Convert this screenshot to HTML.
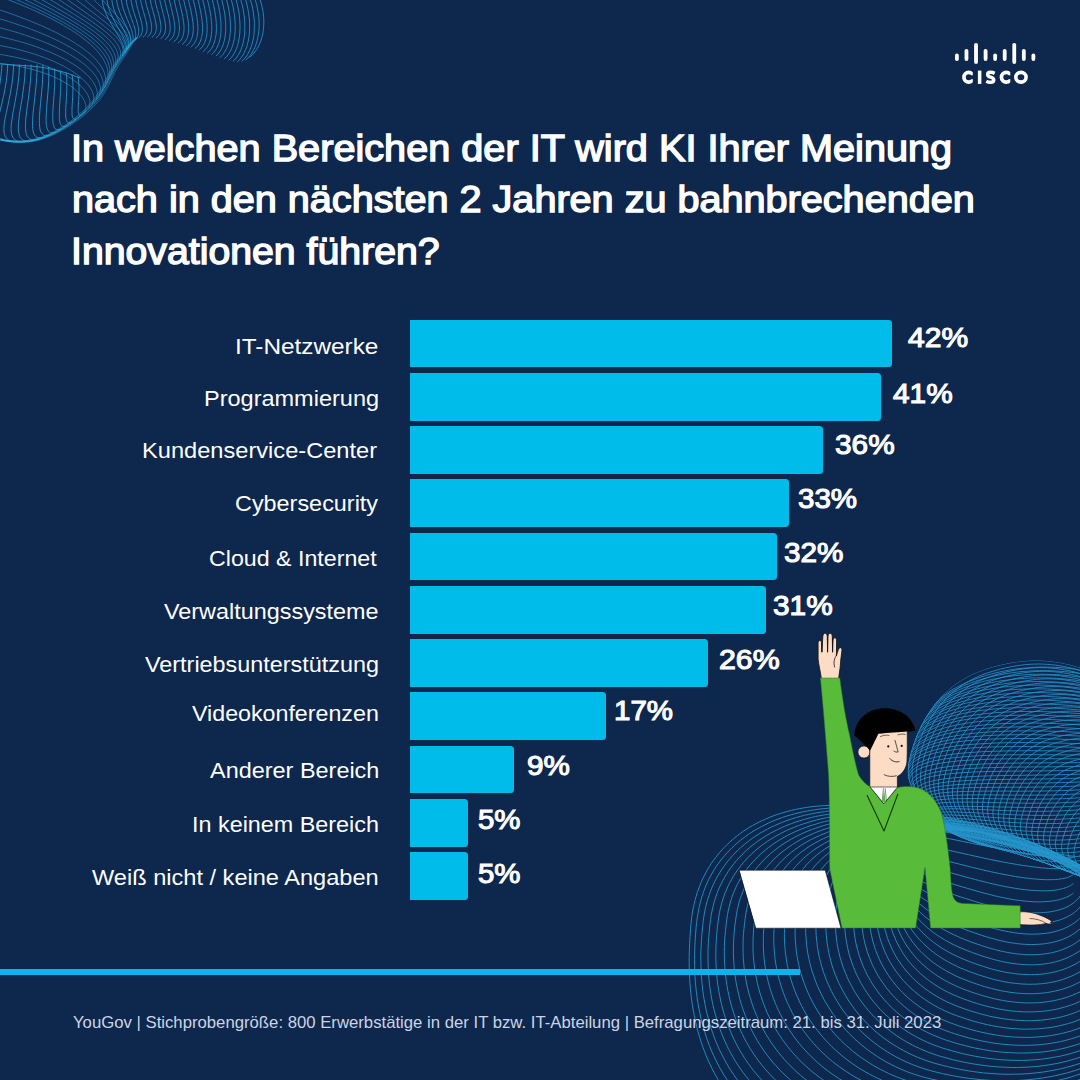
<!DOCTYPE html>
<html lang="de"><head><meta charset="utf-8"><title>Cisco KI Umfrage</title>
<style>
html,body{margin:0;padding:0}
body{width:1080px;height:1080px;overflow:hidden;background:#0e274d;font-family:"Liberation Sans",sans-serif;position:relative;color:#fff}
#stage{position:absolute;left:0;top:0;width:1080px;height:1080px;overflow:hidden;background:#0e274d}
svg.abs{position:absolute;left:0;top:0}
.x{position:absolute;display:block;white-space:nowrap;line-height:1;transform-origin:0 0;color:#fff;margin:0}
.t{font-size:36.6px;-webkit-text-stroke:1.4px #fff}
.l{font-size:22.8px}
.v{font-size:27.8px;-webkit-text-stroke:1.1px #fff}
.f{font-size:15.7px;color:#ccd5e5}
.bar{position:absolute;left:410px;height:47.8px;background:#00bceb;border-radius:0 3.5px 3.5px 0}
.rule{position:absolute;left:0;top:968.5px;width:800px;height:6px;background:#0db3ea}
</style></head><body><div id="stage">
<svg class="abs" width="1080" height="1080" viewBox="0 0 1080 1080"><path fill="none" stroke="#2494c8" stroke-width="0.9" stroke-linejoin="round" d="M1097.2 1063.2 1093.7 1067.6 1090.1 1071.9 1086.2 1076.2 1082.3 1080.3 1078.1 1084.4 1073.9 1088.3 1069.5 1092.1 1064.9 1095.8 1060.2 1099.4M731.6 1099.0 728.8 1095.5 726.2 1092.0 723.6 1088.3 721.1 1084.6 718.7 1080.7 716.4 1076.8 714.2 1072.7 712.0 1068.6 710.0 1064.4 708.0 1060.1 706.1 1055.7 704.4 1051.2 702.7 1046.6 701.1 1041.9 699.6 1037.2 698.2 1032.4 696.9 1027.5 695.7 1022.5 694.6 1017.4 693.6 1012.3 692.7 1007.0 691.9 1001.7 691.2 996.4 690.6 990.9 690.1 985.3 689.7 979.7 689.5 974.0 689.3 968.1 689.2 962.2 689.2 956.1 689.4 949.8 689.6 943.4 690.0 936.5 690.6 928.6 691.0 923.5 691.5 919.1 692.0 915.0 692.7 911.0 693.4 907.1 694.3 903.3 695.2 899.7 696.2 896.1 697.3 892.5 698.5 889.0 699.8 885.6 701.1 882.3 702.6 879.0 704.2 875.8 705.8 872.7 707.5 869.6 709.3 866.6 711.2 863.6 713.2 860.7 715.3 857.9 717.5 855.1 719.7 852.4 722.0 849.8 724.4 847.3 726.9 844.8 729.5 842.3 732.1 840.0 734.8 837.7 737.6 835.5 740.5 833.3 743.4 831.2 746.5 829.2 749.5 827.3 752.7 825.5 755.9 823.7 759.2 822.0 762.6 820.4 766.0 818.9 769.5 817.4 773.0 816.0 776.6 814.7 780.3 813.5 784.1 812.4 787.9 811.3 791.7 810.3 795.6 809.4 799.6 808.6 803.6 807.9 807.7 807.3 811.9 806.7 816.1 806.3 820.4 805.9 824.7 805.6 829.2 805.4 833.7 805.3 838.3 805.3 843.1 805.4 848.0 805.5 853.2 805.8 859.2 806.2 869.9 807.1 879.2 808.0 888.0 808.8 896.5 809.8 904.7 810.8 912.8 811.9 920.6 813.0 928.3 814.2 935.9 815.5 943.3 816.9 950.6 818.3 957.7 819.8 964.7 821.4 971.6 823.0 978.4 824.7 985.1 826.5 991.6 828.4 998.0 830.3 1004.3 832.3 1010.5 834.3 1016.5 836.5 1022.4 838.6 1028.2 840.9 1033.8 843.2 1039.3 845.6 1044.6 848.0 1049.9 850.5 1054.9 853.1 1059.9 855.7 1064.7 858.3 1069.3 861.1 1073.8 863.8 1078.2 866.7 1082.4 869.6 1086.4 872.5 1090.3 875.5 1094.0 878.5 1097.6 881.6M1098.2 1072.4 1094.3 1076.5 1090.3 1080.5 1086.1 1084.3 1081.8 1088.1 1077.4 1091.8 1072.8 1095.4 1068.0 1098.9M740.7 1097.3 737.8 1094.0 735.0 1090.5 732.2 1087.0 729.6 1083.4 727.0 1079.7 724.5 1075.9 722.2 1072.0 719.9 1068.0 717.7 1063.9 715.6 1059.7 713.6 1055.4 711.6 1051.1 709.8 1046.7 708.1 1042.2 706.5 1037.6 705.0 1032.9 703.6 1028.2 702.2 1023.4 701.0 1018.5 699.9 1013.5 698.9 1008.5 698.0 1003.4 697.2 998.2 696.5 992.9 695.9 987.6 695.4 982.2 695.0 976.7 694.8 971.1 694.6 965.5 694.6 959.7 694.6 953.8 694.8 947.8 695.1 941.5 695.5 935.0 696.1 927.5 696.6 922.6 697.2 918.3 697.8 914.2 698.5 910.3 699.3 906.5 700.2 902.8 701.2 899.2 702.2 895.6 703.4 892.2 704.7 888.8 706.0 885.4 707.5 882.1 709.0 878.9 710.7 875.8 712.4 872.7 714.2 869.7 716.1 866.7 718.1 863.8 720.2 861.0 722.4 858.2 724.7 855.5 727.0 852.8 729.5 850.2 732.0 847.7 734.6 845.3 737.3 842.9 740.1 840.6 742.9 838.4 745.8 836.2 748.8 834.1 751.9 832.1 755.0 830.2 758.3 828.3 761.6 826.5 764.9 824.8 768.3 823.1 771.8 821.6 775.4 820.1 779.0 818.7 782.7 817.4 786.5 816.1 790.3 815.0 794.2 813.9 798.1 812.9 802.1 812.0 806.2 811.2 810.3 810.4 814.5 809.8 818.7 809.2 823.0 808.7 827.4 808.3 831.8 808.0 836.3 807.8 840.9 807.6 845.5 807.6 850.3 807.6 855.1 807.8 860.1 808.0 865.4 808.4 871.5 808.9 881.9 809.8 891.0 810.8 899.6 811.7 908.0 812.8 916.1 813.9 924.0 815.0 931.8 816.3 939.4 817.6 946.9 818.9 954.2 820.4 961.5 821.9 968.5 823.4 975.5 825.1 982.4 826.8 989.1 828.6 995.7 830.4 1002.2 832.4 1008.6 834.3 1014.8 836.4 1020.9 838.5 1026.9 840.7 1032.8 842.9 1038.5 845.2 1044.1 847.6 1049.6 850.0 1054.9 852.5 1060.1 855.1 1065.1 857.7 1070.1 860.3 1074.8 863.1 1079.4 865.8 1083.9 868.6 1088.2 871.5 1092.4 874.4 1096.4 877.4M1097.2 1080.4 1093.1 1084.1 1088.7 1087.8 1084.2 1091.3 1079.6 1094.8 1074.9 1098.1M753.7 1098.4 750.6 1095.3 747.5 1092.0 744.6 1088.7 741.7 1085.3 738.9 1081.8 736.2 1078.2 733.5 1074.5 731.0 1070.7 728.6 1066.9 726.3 1062.9 724.0 1058.9 721.9 1054.7 719.8 1050.5 717.9 1046.3 716.0 1041.9 714.3 1037.5 712.7 1032.9 711.1 1028.4 709.7 1023.7 708.4 1019.0 707.1 1014.2 706.0 1009.3 705.0 1004.4 704.1 999.4 703.3 994.3 702.6 989.2 702.1 984.0 701.6 978.7 701.2 973.3 701.0 967.9 700.9 962.4 700.8 956.8 700.9 951.1 701.2 945.3 701.5 939.3 702.0 933.0 702.7 925.9 703.2 921.1 703.8 917.0 704.4 913.0 705.2 909.2 706.0 905.5 707.0 901.9 708.0 898.3 709.2 894.9 710.4 891.5 711.7 888.1 713.2 884.8 714.7 881.6 716.3 878.5 718.0 875.4 719.9 872.4 721.8 869.4 723.8 866.5 725.9 863.6 728.0 860.9 730.3 858.2 732.7 855.5 735.1 852.9 737.7 850.4 740.3 847.9 743.0 845.6 745.8 843.2 748.7 841.0 751.6 838.8 754.6 836.7 757.8 834.7 760.9 832.7 764.2 830.9 767.5 829.1 770.9 827.3 774.4 825.7 778.0 824.1 781.6 822.6 785.3 821.2 789.0 819.8 792.8 818.6 796.7 817.4 800.6 816.3 804.6 815.3 808.7 814.4 812.8 813.5 817.0 812.8 821.2 812.1 825.5 811.5 829.9 811.0 834.3 810.6 838.7 810.2 843.2 810.0 847.8 809.8 852.5 809.8 857.2 809.8 862.1 809.9 867.0 810.1 872.1 810.4 877.4 810.8 883.5 811.4 893.6 812.5 902.4 813.5 910.9 814.6 919.1 815.7 927.1 816.8 934.9 818.1 942.5 819.4 950.0 820.8 957.4 822.2 964.6 823.7 971.8 825.3 978.8 827.0 985.7 828.7 992.5 830.5 999.1 832.3 1005.7 834.3 1012.1 836.2 1018.4 838.3 1024.6 840.4 1030.6 842.6 1036.5 844.8 1042.4 847.1 1048.0 849.5 1053.6 851.9 1059.0 854.4 1064.3 856.9 1069.4 859.5 1074.4 862.2 1079.3 864.9 1084.0 867.6 1088.6 870.4 1093.0 873.3 1097.3 876.2M1099.0 1083.7 1094.6 1087.2 1090.1 1090.6 1085.5 1093.9 1080.7 1097.1M767.7 1098.8 764.4 1095.9 761.1 1092.9 757.9 1089.7 754.8 1086.5 751.8 1083.2 748.8 1079.8 746.0 1076.3 743.3 1072.8 740.6 1069.1 738.1 1065.3 735.6 1061.5 733.3 1057.6 731.0 1053.6 728.8 1049.5 726.8 1045.4 724.8 1041.1 723.0 1036.8 721.2 1032.4 719.6 1028.0 718.0 1023.5 716.6 1018.9 715.3 1014.3 714.0 1009.6 712.9 1004.8 711.9 999.9 711.0 995.0 710.3 990.1 709.6 985.1 709.0 980.0 708.6 974.8 708.3 969.6 708.1 964.4 708.0 959.0 708.0 953.6 708.1 948.1 708.4 942.4 708.8 936.6 709.3 930.6 710.0 923.8 710.6 919.3 711.2 915.3 711.9 911.5 712.7 907.7 713.6 904.1 714.6 900.6 715.7 897.1 716.9 893.7 718.2 890.4 719.6 887.1 721.1 883.9 722.7 880.8 724.4 877.7 726.2 874.7 728.0 871.7 730.0 868.8 732.1 866.0 734.3 863.2 736.5 860.5 738.9 857.9 741.3 855.3 743.9 852.8 746.5 850.3 749.2 847.9 752.0 845.6 754.9 843.4 757.8 841.2 760.9 839.1 764.0 837.1 767.2 835.1 770.5 833.2 773.9 831.4 777.3 829.7 780.8 828.0 784.4 826.4 788.0 824.9 791.7 823.5 795.5 822.1 799.3 820.9 803.2 819.7 807.2 818.6 811.2 817.5 815.3 816.6 819.5 815.7 823.7 815.0 827.9 814.3 832.3 813.7 836.6 813.1 841.0 812.7 845.5 812.4 850.1 812.1 854.7 811.9 859.3 811.8 864.1 811.8 868.9 811.9 873.7 812.1 878.7 812.4 883.8 812.8 889.2 813.3 895.2 813.9 904.9 815.0 913.5 816.1 921.7 817.3 929.8 818.5 937.6 819.7 945.2 821.1 952.7 822.5 960.1 823.9 967.4 825.4 974.5 827.0 981.5 828.7 988.4 830.4 995.2 832.2 1001.9 834.1 1008.4 836.0 1014.9 838.0 1021.2 840.0 1027.4 842.1 1033.5 844.3 1039.5 846.5 1045.4 848.8 1051.1 851.2 1056.7 853.6 1062.2 856.1 1067.5 858.6 1072.7 861.2 1077.8 863.8 1082.8 866.5 1087.6 869.3 1092.2 872.0 1096.7 874.9M1099.5 1086.3 1095.0 1089.5 1090.4 1092.7 1085.6 1095.8 1080.7 1098.7M782.5 1098.7 779.0 1095.9 775.5 1093.1 772.1 1090.2 768.8 1087.1 765.6 1084.0 762.5 1080.8 759.4 1077.5 756.5 1074.1 753.6 1070.7 750.9 1067.1 748.2 1063.5 745.6 1059.7 743.2 1055.9 740.8 1052.0 738.5 1048.1 736.4 1044.1 734.3 1039.9 732.3 1035.8 730.5 1031.5 728.7 1027.2 727.1 1022.8 725.6 1018.4 724.1 1013.9 722.8 1009.3 721.6 1004.7 720.5 1000.0 719.6 995.3 718.7 990.5 717.9 985.6 717.3 980.7 716.8 975.7 716.3 970.7 716.1 965.7 715.9 960.5 715.8 955.3 715.9 950.1 716.0 944.7 716.3 939.3 716.8 933.7 717.3 927.9 718.1 921.5 718.7 917.2 719.4 913.3 720.1 909.6 721.0 905.9 721.9 902.4 723.0 899.0 724.1 895.6 725.4 892.3 726.7 889.1 728.2 885.9 729.7 882.8 731.4 879.7 733.1 876.7 735.0 873.8 736.9 870.9 739.0 868.1 741.1 865.3 743.3 862.6 745.7 860.0 748.1 857.4 750.6 854.9 753.2 852.5 755.9 850.1 758.7 847.8 761.5 845.5 764.5 843.4 767.5 841.2 770.7 839.2 773.9 837.3 777.1 835.4 780.5 833.6 783.9 831.8 787.4 830.1 791.0 828.6 794.6 827.1 798.4 825.6 802.1 824.3 806.0 823.0 809.9 821.8 813.9 820.7 817.9 819.6 822.0 818.7 826.2 817.8 830.4 817.0 834.6 816.3 839.0 815.7 843.3 815.2 847.8 814.7 852.2 814.4 856.8 814.1 861.4 813.9 866.0 813.8 870.7 813.8 875.5 813.8 880.3 814.0 885.2 814.3 890.2 814.6 895.3 815.1 900.6 815.6 906.5 816.3 915.8 817.5 924.2 818.7 932.2 819.9 940.0 821.2 947.6 822.5 955.1 823.9 962.4 825.4 969.7 826.9 976.8 828.5 983.8 830.2 990.7 831.9 997.4 833.7 1004.1 835.6 1010.7 837.5 1017.1 839.5 1023.5 841.5 1029.7 843.6 1035.8 845.8 1041.8 848.0 1047.7 850.3 1053.4 852.7 1059.1 855.1 1064.6 857.5 1070.0 860.1 1075.2 862.6 1080.4 865.3 1085.4 867.9 1090.2 870.7 1094.9 873.4 1099.5 876.3M1099.1 1088.2 1094.5 1091.2 1089.7 1094.2 1084.8 1097.0 1079.8 1099.7M797.9 1098.0 794.2 1095.5 790.6 1092.8 787.0 1090.1 783.5 1087.2 780.1 1084.3 776.8 1081.3 773.6 1078.1 770.5 1074.9 767.4 1071.6 764.5 1068.3 761.6 1064.8 758.9 1061.3 756.2 1057.7 753.7 1054.0 751.2 1050.2 748.8 1046.3 746.6 1042.4 744.4 1038.4 742.4 1034.3 740.4 1030.2 738.6 1026.0 736.9 1021.8 735.2 1017.5 733.7 1013.1 732.3 1008.6 731.0 1004.2 729.8 999.6 728.8 995.0 727.8 990.4 727.0 985.7 726.2 980.9 725.6 976.1 725.1 971.3 724.8 966.4 724.5 961.4 724.4 956.4 724.3 951.4 724.4 946.3 724.6 941.1 725.0 935.9 725.5 930.5 726.1 924.9 726.9 918.9 727.5 914.7 728.2 911.0 729.0 907.4 729.9 903.9 730.9 900.5 731.9 897.1 733.1 893.9 734.4 890.7 735.8 887.5 737.3 884.4 738.9 881.4 740.6 878.4 742.4 875.5 744.3 872.6 746.3 869.8 748.4 867.1 750.6 864.4 752.9 861.8 755.3 859.3 757.8 856.8 760.4 854.3 763.0 852.0 765.8 849.7 768.6 847.4 771.5 845.3 774.5 843.2 777.6 841.2 780.8 839.2 784.1 837.3 787.4 835.5 790.8 833.8 794.3 832.1 797.9 830.5 801.5 829.0 805.2 827.6 809.0 826.2 812.8 825.0 816.7 823.8 820.6 822.6 824.7 821.6 828.8 820.6 832.9 819.8 837.1 819.0 841.3 818.3 845.7 817.6 850.0 817.1 854.4 816.6 858.9 816.2 863.4 816.0 867.9 815.7 872.5 815.6 877.2 815.6 881.9 815.7 886.7 815.8 891.5 816.0 896.4 816.3 901.4 816.8 906.4 817.3 911.7 817.9 917.5 818.7 926.3 819.9 934.4 821.2 942.2 822.5 949.8 823.8 957.2 825.2 964.5 826.7 971.6 828.2 978.7 829.8 985.6 831.5 992.5 833.2 999.2 835.0 1005.8 836.9 1012.4 838.8 1018.8 840.8 1025.1 842.8 1031.3 844.9 1037.4 847.1 1043.4 849.3 1049.3 851.6 1055.1 853.9 1060.7 856.3 1066.3 858.8 1071.7 861.3 1076.9 863.8 1082.1 866.4 1087.1 869.1 1092.0 871.8 1096.8 874.6M1097.7 1089.4 1093.0 1092.2 1088.2 1094.9 1083.2 1097.5M817.7 1099.2 813.8 1096.9 809.9 1094.5 806.1 1092.0 802.4 1089.5 798.8 1086.8 795.2 1084.0 791.8 1081.2 788.4 1078.2 785.1 1075.2 781.9 1072.1 778.8 1068.9 775.8 1065.6 772.8 1062.3 770.0 1058.8 767.3 1055.3 764.6 1051.7 762.1 1048.0 759.6 1044.3 757.3 1040.5 755.1 1036.6 752.9 1032.6 750.9 1028.6 749.0 1024.5 747.2 1020.4 745.5 1016.2 743.9 1011.9 742.4 1007.6 741.0 1003.2 739.7 998.8 738.6 994.4 737.6 989.8 736.6 985.3 735.8 980.7 735.1 976.0 734.6 971.4 734.1 966.6 733.8 961.8 733.5 957.0 733.4 952.2 733.4 947.3 733.6 942.3 733.8 937.3 734.2 932.2 734.7 927.1 735.4 921.7 736.2 916.0 736.9 912.0 737.6 908.4 738.4 905.0 739.3 901.6 740.4 898.3 741.5 895.1 742.7 891.9 744.1 888.8 745.5 885.7 747.0 882.8 748.7 879.8 750.4 876.9 752.3 874.1 754.2 871.3 756.2 868.6 758.4 866.0 760.6 863.4 763.0 860.9 765.4 858.4 767.9 856.0 770.5 853.6 773.2 851.4 776.0 849.2 778.9 847.0 781.9 844.9 784.9 842.9 788.1 841.0 791.3 839.1 794.6 837.3 797.9 835.6 801.4 833.9 804.9 832.3 808.5 830.8 812.2 829.4 815.9 828.1 819.7 826.8 823.6 825.6 827.5 824.5 831.5 823.4 835.6 822.5 839.7 821.6 843.8 820.8 848.0 820.1 852.3 819.4 856.6 818.9 861.0 818.4 865.4 818.0 869.9 817.7 874.4 817.5 879.0 817.4 883.6 817.3 888.2 817.4 892.9 817.5 897.6 817.7 902.4 818.0 907.3 818.4 912.2 818.8 917.2 819.4 922.4 820.1 928.0 820.9 936.5 822.3 944.2 823.6 951.7 824.9 959.1 826.4 966.3 827.8 973.4 829.4 980.3 831.0 987.2 832.6 993.9 834.3 1000.6 836.1 1007.2 838.0 1013.7 839.9 1020.0 841.8 1026.3 843.9 1032.5 846.0 1038.5 848.1 1044.5 850.3 1050.4 852.6 1056.1 854.9 1061.7 857.3 1067.3 859.8 1072.7 862.2 1078.0 864.8 1083.1 867.4 1088.2 870.0 1093.1 872.7 1097.9 875.4M1095.5 1089.8 1090.7 1092.4 1085.8 1094.9 1080.8 1097.3 1075.7 1099.6M838.1 1099.4 834.0 1097.4 829.9 1095.3 825.9 1093.1 822.0 1090.8 818.2 1088.4 814.4 1085.9 810.7 1083.3 807.1 1080.6 803.6 1077.9 800.2 1075.0 796.9 1072.1 793.6 1069.1 790.4 1065.9 787.3 1062.7 784.4 1059.5 781.5 1056.1 778.7 1052.7 776.0 1049.2 773.4 1045.6 770.8 1042.0 768.4 1038.2 766.1 1034.5 763.9 1030.6 761.8 1026.7 759.8 1022.7 758.0 1018.7 756.2 1014.6 754.5 1010.5 752.9 1006.3 751.5 1002.0 750.2 997.7 748.9 993.4 747.8 989.0 746.8 984.6 745.9 980.1 745.2 975.6 744.5 971.0 744.0 966.5 743.6 961.8 743.2 957.2 743.1 952.5 743.0 947.8 743.1 943.0 743.2 938.2 743.5 933.4 744.0 928.5 744.5 923.5 745.2 918.4 746.0 912.9 746.7 909.2 747.5 905.7 748.3 902.4 749.3 899.2 750.3 896.0 751.5 892.9 752.7 889.8 754.1 886.8 755.6 883.8 757.1 880.9 758.8 878.1 760.6 875.3 762.5 872.6 764.5 869.9 766.5 867.3 768.7 864.8 771.0 862.3 773.3 859.8 775.8 857.4 778.4 855.1 781.0 852.9 783.7 850.7 786.6 848.6 789.5 846.5 792.5 844.5 795.5 842.6 798.7 840.7 801.9 838.9 805.3 837.2 808.7 835.6 812.1 834.0 815.7 832.5 819.3 831.1 823.0 829.7 826.7 828.5 830.6 827.3 834.4 826.2 838.4 825.1 842.4 824.2 846.4 823.3 850.5 822.5 854.7 821.8 858.9 821.1 863.2 820.6 867.5 820.1 871.9 819.7 876.3 819.4 880.7 819.1 885.2 819.0 889.8 818.9 894.3 819.0 898.9 819.1 903.6 819.3 908.3 819.5 913.0 819.9 917.8 820.3 922.7 820.9 927.6 821.5 932.7 822.2 938.1 823.1 946.1 824.5 953.6 825.9 960.8 827.3 967.9 828.8 974.9 830.3 981.7 831.9 988.5 833.5 995.1 835.2 1001.7 837.0 1008.2 838.8 1014.5 840.7 1020.8 842.7 1027.0 844.7 1033.1 846.8 1039.2 848.9 1045.1 851.1 1050.9 853.4 1056.6 855.7 1062.2 858.1 1067.7 860.5 1073.1 862.9 1078.3 865.5 1083.5 868.0 1088.5 870.7 1093.4 873.3 1098.2 876.0M1097.4 1087.1 1092.6 1089.5 1087.8 1091.9 1082.8 1094.2 1077.7 1096.3 1072.6 1098.4M858.7 1098.8 854.4 1097.1 850.2 1095.3 846.1 1093.3 842.0 1091.3 838.0 1089.1 834.1 1086.9 830.2 1084.6 826.5 1082.2 822.8 1079.7 819.1 1077.1 815.6 1074.4 812.1 1071.6 808.8 1068.7 805.5 1065.8 802.3 1062.8 799.1 1059.7 796.1 1056.5 793.2 1053.2 790.3 1049.9 787.6 1046.5 784.9 1043.0 782.3 1039.4 779.9 1035.8 777.5 1032.1 775.2 1028.4 773.1 1024.5 771.0 1020.7 769.1 1016.7 767.2 1012.8 765.5 1008.7 763.9 1004.6 762.4 1000.5 761.0 996.3 759.7 992.1 758.5 987.8 757.4 983.5 756.5 979.2 755.6 974.8 754.9 970.4 754.3 965.9 753.8 961.5 753.4 956.9 753.1 952.4 753.0 947.8 753.0 943.2 753.1 938.6 753.3 934.0 753.6 929.3 754.1 924.6 754.7 919.8 755.4 914.9 756.3 909.7 757.0 906.2 757.7 902.9 758.6 899.7 759.6 896.6 760.7 893.5 761.8 890.5 763.1 887.6 764.5 884.7 766.0 881.8 767.6 879.0 769.3 876.3 771.1 873.6 773.0 871.0 775.0 868.4 777.1 865.9 779.3 863.4 781.6 861.0 784.0 858.7 786.5 856.4 789.0 854.2 791.7 852.0 794.5 849.9 797.3 847.9 800.2 845.9 803.2 844.0 806.3 842.2 809.5 840.4 812.8 838.7 816.1 837.1 819.5 835.6 823.0 834.1 826.5 832.7 830.1 831.3 833.8 830.1 837.6 828.9 841.4 827.8 845.3 826.7 849.2 825.8 853.2 824.9 857.2 824.1 861.3 823.4 865.5 822.7 869.7 822.2 873.9 821.7 878.2 821.3 882.6 820.9 886.9 820.7 891.4 820.5 895.8 820.5 900.3 820.5 904.8 820.6 909.4 820.7 914.0 821.0 918.6 821.3 923.3 821.7 928.0 822.2 932.8 822.8 937.6 823.5 942.5 824.3 947.7 825.2 955.3 826.6 962.4 828.1 969.4 829.5 976.2 831.0 982.9 832.6 989.5 834.2 996.1 835.9 1002.5 837.7 1008.9 839.5 1015.1 841.4 1021.3 843.3 1027.4 845.3 1033.4 847.4 1039.4 849.5 1045.2 851.7 1050.9 853.9 1056.6 856.2 1062.1 858.6 1067.6 860.9 1072.9 863.4 1078.1 865.9 1083.3 868.4 1088.3 871.0 1093.2 873.6 1097.9 876.3M1098.6 1083.9 1093.9 1086.2 1089.1 1088.5 1084.2 1090.7 1079.2 1092.7 1074.2 1094.7 1069.0 1096.5 1063.7 1098.3 1058.3 1099.9M883.8 1098.8 879.3 1097.4 874.9 1095.9 870.6 1094.4 866.4 1092.7 862.2 1090.9 858.1 1089.0 854.0 1087.1 850.0 1085.0 846.1 1082.9 842.3 1080.6 838.5 1078.3 834.8 1075.8 831.1 1073.3 827.6 1070.7 824.1 1068.0 820.7 1065.2 817.4 1062.4 814.2 1059.4 811.0 1056.4 808.0 1053.3 805.0 1050.1 802.1 1046.9 799.3 1043.5 796.6 1040.2 794.0 1036.7 791.5 1033.2 789.1 1029.6 786.8 1025.9 784.6 1022.2 782.5 1018.4 780.5 1014.6 778.6 1010.7 776.8 1006.8 775.1 1002.8 773.5 998.8 772.1 994.7 770.7 990.6 769.5 986.4 768.3 982.2 767.3 978.0 766.4 973.7 765.6 969.4 764.9 965.1 764.4 960.8 763.9 956.4 763.6 952.0 763.4 947.6 763.3 943.1 763.3 938.7 763.4 934.2 763.7 929.7 764.0 925.1 764.5 920.6 765.2 916.0 765.9 911.3 766.8 906.4 767.5 903.1 768.3 900.0 769.2 896.9 770.2 893.9 771.3 891.0 772.5 888.1 773.8 885.3 775.2 882.5 776.7 879.7 778.3 877.1 780.0 874.4 781.8 871.9 783.8 869.3 785.8 866.9 787.9 864.5 790.1 862.1 792.4 859.8 794.8 857.5 797.3 855.4 799.9 853.2 802.5 851.2 805.3 849.2 808.1 847.2 811.1 845.3 814.1 843.5 817.2 841.8 820.4 840.1 823.6 838.5 826.9 837.0 830.3 835.5 833.8 834.1 837.3 832.8 841.0 831.5 844.6 830.4 848.4 829.3 852.2 828.2 856.0 827.3 859.9 826.4 863.9 825.6 867.9 824.9 872.0 824.2 876.1 823.7 880.3 823.2 884.5 822.8 888.7 822.4 893.0 822.2 897.3 822.0 901.7 821.9 906.1 821.9 910.5 822.0 915.0 822.1 919.5 822.4 924.0 822.7 928.5 823.1 933.1 823.5 937.7 824.1 942.4 824.7 947.1 825.5 951.8 826.3 956.8 827.2 964.0 828.7 970.8 830.1 977.4 831.6 984.0 833.2 990.4 834.8 996.8 836.5 1003.1 838.2 1009.3 840.0 1015.4 841.9 1021.5 843.8 1027.5 845.7 1033.4 847.8 1039.2 849.9 1044.9 852.0 1050.6 854.2 1056.1 856.5 1061.6 858.8 1067.0 861.1 1072.3 863.6 1077.4 866.0 1082.5 868.5 1087.5 871.1 1092.3 873.7 1097.1 876.3M1099.2 1080.2 1094.6 1082.5 1089.9 1084.6 1085.1 1086.7 1080.2 1088.7 1075.2 1090.5 1070.1 1092.3 1064.9 1093.9 1059.7 1095.4 1054.3 1096.9 1048.9 1098.2 1043.4 1099.4M922.2 1099.9 915.7 1098.7 909.0 1097.3 904.2 1096.3 899.7 1095.1 895.2 1093.9 890.8 1092.6 886.5 1091.2 882.3 1089.7 878.1 1088.1 873.9 1086.4 869.8 1084.6 865.8 1082.7 861.9 1080.7 858.0 1078.6 854.1 1076.5 850.4 1074.2 846.7 1071.8 843.0 1069.4 839.5 1066.9 836.0 1064.3 832.6 1061.6 829.3 1058.8 826.1 1055.9 822.9 1053.0 819.8 1050.0 816.8 1046.9 813.9 1043.7 811.1 1040.5 808.4 1037.2 805.8 1033.8 803.3 1030.4 800.8 1026.8 798.5 1023.3 796.2 1019.7 794.1 1016.0 792.0 1012.3 790.1 1008.5 788.3 1004.6 786.5 1000.8 784.9 996.8 783.4 992.9 782.0 988.8 780.7 984.8 779.5 980.7 778.4 976.6 777.4 972.4 776.6 968.3 775.8 964.1 775.2 959.8 774.7 955.6 774.3 951.3 774.0 947.0 773.8 942.7 773.8 938.4 773.8 934.1 774.0 929.7 774.3 925.3 774.7 921.0 775.2 916.6 775.9 912.1 776.6 907.7 777.5 903.1 778.3 899.9 779.1 897.0 780.0 894.0 781.0 891.2 782.1 888.4 783.3 885.6 784.6 882.9 786.0 880.2 787.5 877.6 789.2 875.1 790.9 872.5 792.7 870.1 794.6 867.6 796.6 865.3 798.8 863.0 801.0 860.7 803.3 858.5 805.7 856.4 808.2 854.3 810.7 852.3 813.4 850.3 816.2 848.4 819.0 846.5 821.9 844.8 824.9 843.0 828.0 841.4 831.2 839.8 834.4 838.3 837.7 836.8 841.1 835.5 844.6 834.2 848.1 832.9 851.7 831.8 855.3 830.7 859.0 829.6 862.8 828.7 866.6 827.8 870.5 827.0 874.4 826.3 878.4 825.7 882.4 825.1 886.5 824.6 890.6 824.2 894.8 823.8 898.9 823.6 903.2 823.4 907.4 823.3 911.7 823.3 916.0 823.3 920.4 823.4 924.8 823.6 929.2 823.9 933.6 824.3 938.0 824.7 942.5 825.3 947.0 825.9 951.5 826.6 956.1 827.3 960.7 828.2 965.4 829.2 972.2 830.6 978.6 832.1 985.0 833.6 991.2 835.2 997.4 836.8 1003.5 838.5 1009.6 840.3 1015.5 842.1 1021.5 844.0 1027.3 845.9 1033.1 847.9 1038.7 850.0 1044.4 852.1 1049.9 854.3 1055.4 856.5 1060.7 858.8 1066.0 861.1 1071.2 863.5 1076.3 865.9 1081.3 868.4 1086.2 870.9 1091.0 873.4 1095.7 876.0M1099.3 1076.1 1094.8 1078.3 1090.2 1080.3 1085.4 1082.3 1080.6 1084.2 1075.8 1085.9 1070.8 1087.6 1065.7 1089.1 1060.6 1090.6 1055.4 1091.9 1050.1 1093.2 1044.7 1094.3 1039.3 1095.3 1033.8 1096.2 1028.2 1097.0 1022.6 1097.7 1016.9 1098.3 1011.2 1098.8 1005.5 1099.1 999.7 1099.4 993.8 1099.5 987.9 1099.6 982.0 1099.5 976.1 1099.3 970.1 1099.0 964.1 1098.5 958.0 1098.0 952.0 1097.3 945.9 1096.6 939.8 1095.7 933.7 1094.7 927.6 1093.6 921.4 1092.4 915.1 1091.0 910.6 1090.0 906.2 1088.8 901.9 1087.6 897.7 1086.2 893.5 1084.8 889.4 1083.3 885.3 1081.7 881.3 1079.9 877.3 1078.1 873.4 1076.2 869.5 1074.2 865.8 1072.1 862.0 1069.9 858.4 1067.7 854.8 1065.3 851.3 1062.9 847.8 1060.3 844.4 1057.7 841.1 1055.0 837.9 1052.2 834.7 1049.4 831.7 1046.5 828.7 1043.4 825.8 1040.4 822.9 1037.2 820.2 1034.0 817.6 1030.7 815.0 1027.4 812.5 1024.0 810.2 1020.5 807.9 1017.0 805.7 1013.4 803.7 1009.8 801.7 1006.1 799.8 1002.3 798.1 998.5 796.4 994.7 794.8 990.8 793.4 986.9 792.0 983.0 790.8 979.0 789.6 975.0 788.6 971.0 787.7 966.9 786.9 962.8 786.2 958.7 785.6 954.5 785.2 950.4 784.8 946.2 784.6 942.0 784.4 937.9 784.4 933.6 784.5 929.4 784.7 925.2 785.0 921.0 785.5 916.8 786.0 912.5 786.7 908.3 787.5 904.0 788.4 899.7 789.1 896.7 789.9 893.9 790.8 891.1 791.8 888.4 792.9 885.7 794.2 883.1 795.5 880.5 796.9 878.0 798.4 875.5 800.1 873.0 801.8 870.6 803.6 868.3 805.5 866.0 807.5 863.7 809.7 861.5 811.9 859.3 814.2 857.2 816.5 855.2 819.0 853.2 821.6 851.3 824.3 849.4 827.0 847.6 829.8 845.9 832.7 844.2 835.7 842.6 838.8 841.0 841.9 839.5 845.1 838.1 848.4 836.7 851.7 835.4 855.2 834.2 858.6 833.1 862.2 832.0 865.8 831.0 869.5 830.0 873.2 829.2 877.0 828.4 880.8 827.6 884.7 827.0 888.6 826.4 892.5 825.9 896.6 825.5 900.6 825.2 904.7 824.9 908.8 824.7 913.0 824.6 917.1 824.5 921.3 824.6 925.6 824.7 929.8 824.9 934.1 825.1 938.4 825.5 942.7 825.9 947.1 826.4 951.4 826.9 955.8 827.6 960.1 828.3 964.5 829.1 969.0 830.0 973.5 831.0 979.8 832.4 985.9 833.9 992.0 835.5 997.9 837.1 1003.8 838.7 1009.7 840.4 1015.5 842.2 1021.2 844.1 1026.9 846.0 1032.5 847.9 1038.0 849.9 1043.5 852.0 1048.9 854.1 1054.2 856.3 1059.5 858.5 1064.7 860.8 1069.7 863.1 1074.7 865.5 1079.7 868.0 1084.5 870.4 1089.2 872.9 1093.8 875.5 1098.4 878.1M1098.9 1071.6 1094.5 1073.6 1089.9 1075.6 1085.3 1077.5 1080.7 1079.2 1075.9 1080.9 1071.0 1082.5 1066.1 1084.0 1061.1 1085.3 1056.0 1086.6 1050.8 1087.7 1045.6 1088.8 1040.3 1089.7 1035.0 1090.6 1029.6 1091.3 1024.1 1091.9 1018.6 1092.5 1013.1 1092.9 1007.5 1093.2 1001.9 1093.4 996.2 1093.4 990.5 1093.4 984.8 1093.3 979.1 1093.0 973.3 1092.7 967.6 1092.2 961.8 1091.6 956.0 1091.0 950.2 1090.2 944.4 1089.3 938.5 1088.3 932.7 1087.1 926.9 1085.9 921.0 1084.5 916.7 1083.5 912.5 1082.3 908.4 1081.1 904.3 1079.7 900.3 1078.3 896.3 1076.7 892.3 1075.1 888.4 1073.4 884.6 1071.5 880.8 1069.6 877.1 1067.6 873.4 1065.5 869.8 1063.3 866.3 1061.0 862.8 1058.7 859.3 1056.2 856.0 1053.7 852.7 1051.1 849.5 1048.4 846.4 1045.6 843.3 1042.8 840.3 1039.9 837.4 1036.9 834.6 1033.8 831.9 1030.7 829.2 1027.5 826.7 1024.3 824.2 1020.9 821.8 1017.6 819.6 1014.1 817.4 1010.6 815.3 1007.1 813.3 1003.5 811.4 999.9 809.6 996.2 807.9 992.4 806.3 988.7 804.8 984.9 803.4 981.0 802.1 977.1 800.9 973.2 799.8 969.3 798.9 965.3 798.0 961.4 797.3 957.3 796.6 953.3 796.1 949.3 795.7 945.2 795.4 941.2 795.2 937.1 795.1 933.0 795.1 928.9 795.2 924.8 795.5 920.8 795.8 916.7 796.3 912.6 796.9 908.5 797.5 904.5 798.3 900.4 799.3 896.3 800.0 893.5 800.8 890.9 801.7 888.2 802.7 885.7 803.8 883.1 805.0 880.6 806.4 878.1 807.8 875.7 809.3 873.3 810.9 871.0 812.6 868.7 814.4 866.5 816.4 864.3 818.4 862.1 820.5 860.0 822.7 858.0 824.9 856.0 827.3 854.0 829.8 852.2 832.3 850.3 835.0 848.6 837.7 846.9 840.5 845.2 843.3 843.6 846.3 842.1 849.3 840.6 852.4 839.2 855.6 837.9 858.8 836.6 862.1 835.4 865.5 834.3 869.0 833.2 872.5 832.2 876.0 831.3 879.6 830.4 883.3 829.6 887.0 828.9 890.8 828.3 894.6 827.7 898.4 827.2 902.3 826.8 906.3 826.4 910.2 826.2 914.2 825.9 918.3 825.8 922.3 825.8 926.4 825.8 930.5 825.9 934.7 826.0 938.8 826.3 943.0 826.6 947.2 827.0 951.4 827.4 955.6 827.9 959.8 828.6 964.0 829.2 968.2 830.0 972.5 830.8 976.7 831.7 981.0 832.7 986.9 834.1 992.7 835.6 998.4 837.2 1004.1 838.8 1009.7 840.5 1015.3 842.2 1020.8 844.0 1026.3 845.8 1031.7 847.7 1037.1 849.7 1042.4 851.7 1047.7 853.8 1052.9 855.9 1058.0 858.1 1063.0 860.3 1068.0 862.6 1072.9 864.9 1077.7 867.3 1082.4 869.7 1087.0 872.2 1091.6 874.7 1096.0 877.2M1098.1 1066.6 1093.7 1068.5 1089.3 1070.4 1084.8 1072.2 1080.3 1073.9 1075.6 1075.5 1070.9 1077.0 1066.1 1078.4 1061.2 1079.6 1056.2 1080.8 1051.2 1081.9 1046.1 1082.9 1041.0 1083.8 1035.8 1084.6 1030.6 1085.2 1025.3 1085.8 1020.0 1086.3 1014.6 1086.6 1009.3 1086.9 1003.8 1087.0 998.4 1087.0 992.9 1087.0 987.4 1086.8 981.9 1086.5 976.3 1086.1 970.8 1085.6 965.3 1085.0 959.7 1084.3 954.2 1083.5 948.6 1082.6 943.1 1081.6 937.6 1080.4 932.1 1079.2 926.6 1077.9 922.5 1076.8 918.5 1075.6 914.6 1074.4 910.7 1073.0 906.8 1071.6 903.0 1070.0 899.2 1068.4 895.4 1066.6 891.7 1064.8 888.0 1062.9 884.4 1060.9 880.9 1058.8 877.4 1056.6 874.0 1054.3 870.6 1051.9 867.3 1049.5 864.1 1047.0 860.9 1044.4 857.8 1041.7 854.7 1039.0 851.8 1036.1 848.9 1033.2 846.1 1030.3 843.4 1027.2 840.8 1024.1 838.2 1021.0 835.7 1017.8 833.4 1014.5 831.1 1011.1 828.9 1007.7 826.8 1004.3 824.7 1000.8 822.8 997.2 821.0 993.7 819.3 990.0 817.6 986.4 816.1 982.6 814.7 978.9 813.4 975.1 812.1 971.3 811.0 967.5 810.0 963.6 809.1 959.7 808.3 955.8 807.6 951.9 807.0 948.0 806.5 944.0 806.2 940.1 805.9 936.1 805.7 932.2 805.7 928.2 805.7 924.2 805.9 920.3 806.2 916.3 806.6 912.4 807.1 908.5 807.6 904.5 808.4 900.6 809.2 896.8 810.1 892.9 810.8 890.4 811.6 887.8 812.5 885.4 813.5 882.9 814.6 880.5 815.8 878.1 817.1 875.8 818.5 873.5 820.0 871.2 821.6 869.0 823.3 866.8 825.2 864.7 827.0 862.6 829.0 860.6 831.1 858.6 833.3 856.6 835.5 854.8 837.9 852.9 840.3 851.1 842.8 849.4 845.4 847.7 848.1 846.1 850.9 844.6 853.7 843.1 856.6 841.7 859.6 840.3 862.7 839.0 865.8 837.7 869.0 836.5 872.3 835.4 875.6 834.4 879.0 833.4 882.4 832.5 885.9 831.6 889.4 830.8 893.0 830.1 896.7 829.5 900.4 828.9 904.1 828.4 907.9 828.0 911.7 827.6 915.5 827.3 919.4 827.1 923.3 827.0 927.3 826.9 931.2 826.9 935.2 827.0 939.2 827.1 943.3 827.3 947.3 827.6 951.3 828.0 955.4 828.4 959.5 828.9 963.5 829.5 967.6 830.1 971.7 830.8 975.7 831.6 979.8 832.4 983.9 833.3 987.9 834.3 993.4 835.7 998.8 837.2 1004.2 838.7 1009.6 840.4 1015.0 842.0 1020.3 843.7 1025.6 845.5 1030.8 847.4 1036.0 849.3 1041.1 851.2 1046.2 853.3 1051.2 855.3 1056.2 857.4 1061.1 859.6 1065.9 861.8 1070.7 864.1 1075.4 866.4 1080.0 868.8 1084.5 871.2 1089.0 873.6 1093.3 876.1 1097.6 878.6M1097.3 1061.9 1093.2 1063.7 1088.9 1065.5 1084.6 1067.2 1080.1 1068.8 1075.7 1070.3 1071.1 1071.7 1066.5 1073.0 1061.8 1074.2 1057.0 1075.3 1052.2 1076.3 1047.3 1077.2 1042.4 1078.0 1037.4 1078.7 1032.3 1079.3 1027.2 1079.8 1022.1 1080.2 1017.0 1080.5 1011.8 1080.7 1006.6 1080.7 1001.3 1080.7 996.0 1080.6 990.7 1080.4 985.4 1080.0 980.1 1079.6 974.8 1079.0 969.4 1078.4 964.1 1077.7 958.7 1076.8 953.3 1075.8 948.0 1074.8 942.6 1073.6 937.3 1072.4 931.9 1071.0 927.9 1069.9 924.0 1068.7 920.1 1067.4 916.3 1066.0 912.5 1064.6 908.8 1063.0 905.1 1061.4 901.4 1059.6 897.8 1057.8 894.3 1055.9 890.8 1053.9 887.3 1051.8 884.0 1049.6 880.6 1047.4 877.4 1045.1 874.2 1042.7 871.1 1040.2 868.0 1037.6 865.0 1035.0 862.1 1032.3 859.3 1029.5 856.5 1026.7 853.8 1023.8 851.2 1020.8 848.7 1017.7 846.3 1014.7 843.9 1011.5 841.6 1008.3 839.5 1005.0 837.4 1001.7 835.4 998.3 833.4 994.9 831.6 991.5 829.9 988.0 828.3 984.4 826.7 980.8 825.3 977.2 824.0 973.6 822.7 969.9 821.6 966.2 820.6 962.4 819.6 958.7 818.8 954.9 818.1 951.1 817.5 947.3 817.0 943.4 816.5 939.6 816.2 935.7 816.0 931.9 815.9 928.0 815.9 924.1 816.0 920.3 816.3 916.4 816.6 912.6 817.0 908.7 817.5 904.9 818.2 901.0 818.9 897.2 819.8 893.4 820.7 889.5 821.4 887.1 822.2 884.6 823.2 882.2 824.2 879.9 825.3 877.5 826.5 875.3 827.8 873.0 829.1 870.8 830.6 868.6 832.2 866.5 833.9 864.5 835.6 862.4 837.5 860.4 839.4 858.5 841.5 856.6 843.6 854.8 845.8 853.0 848.1 851.3 850.5 849.6 852.9 848.0 855.5 846.4 858.1 844.9 860.8 843.4 863.5 842.1 866.4 840.7 869.3 839.4 872.2 838.2 875.3 837.1 878.4 836.0 881.5 835.0 884.8 834.0 888.0 833.1 891.4 832.3 894.8 831.5 898.2 830.8 901.7 830.2 905.3 829.7 908.8 829.2 912.5 828.7 916.1 828.4 919.8 828.1 923.6 827.9 927.4 827.7 931.2 827.7 935.0 827.7 938.8 827.7 942.7 827.8 946.6 828.0 950.5 828.3 954.5 828.7 958.4 829.1 962.4 829.5 966.3 830.1 970.3 830.7 974.3 831.4 978.3 832.1 982.2 832.9 986.2 833.8 990.2 834.8 994.2 835.8 999.6 837.3 1004.9 838.8 1010.1 840.3 1015.3 841.9 1020.5 843.6 1025.6 845.3 1030.7 847.1 1035.7 849.0 1040.7 850.9 1045.6 852.8 1050.5 854.8 1055.3 856.8 1060.1 858.9 1064.8 861.1 1069.4 863.3 1073.9 865.5 1078.4 867.8 1082.8 870.1 1087.1 872.4 1091.4 874.8 1095.5 877.2 1099.6 879.7M1096.3 1056.8 1092.3 1058.6 1088.2 1060.3 1084.0 1061.9 1079.8 1063.4 1075.5 1064.8 1071.1 1066.1 1066.6 1067.3 1062.1 1068.5 1057.6 1069.5 1052.9 1070.4 1048.2 1071.2 1043.5 1072.0 1038.7 1072.6 1033.9 1073.1 1029.0 1073.6 1024.1 1073.9 1019.2 1074.1 1014.2 1074.2 1009.2 1074.3 1004.1 1074.2 999.0 1074.0 993.9 1073.7 988.8 1073.3 983.7 1072.9 978.6 1072.3 973.4 1071.6 968.3 1070.8 963.1 1069.9 957.9 1068.9 952.7 1067.8 947.5 1066.6 942.3 1065.3 937.0 1063.9 933.0 1062.8 929.1 1061.5 925.3 1060.2 921.5 1058.8 917.8 1057.4 914.2 1055.8 910.6 1054.2 907.1 1052.4 903.6 1050.6 900.1 1048.7 896.8 1046.7 893.4 1044.7 890.2 1042.6 887.0 1040.3 883.8 1038.1 880.8 1035.7 877.8 1033.3 874.8 1030.8 872.0 1028.2 869.2 1025.5 866.4 1022.8 863.8 1020.0 861.2 1017.2 858.7 1014.3 856.3 1011.3 854.0 1008.3 851.8 1005.2 849.6 1002.1 847.5 998.9 845.6 995.7 843.7 992.4 841.9 989.1 840.2 985.7 838.5 982.3 837.0 978.9 835.6 975.4 834.2 971.9 833.0 968.3 831.8 964.7 830.8 961.1 829.9 957.5 829.0 953.8 828.3 950.2 827.6 946.5 827.1 942.7 826.6 939.0 826.3 935.3 826.0 931.5 825.9 927.8 825.8 924.0 825.9 920.2 826.1 916.5 826.3 912.7 826.7 908.9 827.2 905.1 827.7 901.4 828.4 897.6 829.2 893.8 830.1 890.1 831.1 886.2 831.9 883.8 832.7 881.4 833.6 879.1 834.6 876.8 835.7 874.6 836.8 872.4 838.1 870.2 839.5 868.1 840.9 866.0 842.5 864.0 844.1 862.0 845.8 860.1 847.6 858.2 849.5 856.4 851.5 854.6 853.6 852.9 855.7 851.2 857.9 849.6 860.2 848.0 862.6 846.5 865.1 845.0 867.6 843.6 870.2 842.3 872.9 841.0 875.6 839.7 878.4 838.6 881.3 837.4 884.2 836.4 887.3 835.4 890.3 834.5 893.4 833.6 896.6 832.8 899.8 832.1 903.1 831.4 906.5 830.8 909.8 830.2 913.3 829.8 916.7 829.3 920.2 829.0 923.8 828.7 927.4 828.5 931.0 828.3 934.7 828.3 938.3 828.3 942.0 828.3 945.8 828.4 949.5 828.6 953.3 828.9 957.1 829.2 961.0 829.6 964.8 830.0 968.6 830.6 972.5 831.2 976.4 831.8 980.3 832.5 984.1 833.3 988.0 834.2 991.9 835.1 995.9 836.1 999.9 837.2 1005.2 838.7 1010.4 840.2 1015.5 841.8 1020.5 843.4 1025.5 845.1 1030.4 846.8 1035.3 848.6 1040.1 850.4 1044.9 852.3 1049.7 854.2 1054.3 856.2 1058.9 858.2 1063.5 860.2 1068.0 862.3 1072.4 864.5 1076.7 866.7 1081.0 868.9 1085.2 871.1 1089.3 873.4 1093.3 875.8 1097.3 878.1M1098.7 1049.6 1094.9 1051.3 1091.0 1053.0 1087.1 1054.6 1083.1 1056.1 1079.1 1057.6 1074.9 1058.9 1070.7 1060.1 1066.5 1061.3 1062.2 1062.3 1057.8 1063.3 1053.3 1064.1 1048.9 1064.9 1044.3 1065.5 1039.7 1066.1 1035.1 1066.6 1030.4 1066.9 1025.7 1067.2 1021.0 1067.4 1016.2 1067.5 1011.4 1067.5 1006.6 1067.3 1001.7 1067.1 996.8 1066.8 991.9 1066.4 987.0 1065.9 982.1 1065.2 977.1 1064.5 972.1 1063.7 967.2 1062.8 962.2 1061.8 957.1 1060.7 952.1 1059.5 947.0 1058.1 941.8 1056.7 937.8 1055.5 934.0 1054.2 930.2 1052.9 926.6 1051.5 923.0 1050.0 919.4 1048.4 915.9 1046.8 912.5 1045.1 909.1 1043.3 905.8 1041.4 902.5 1039.5 899.3 1037.5 896.2 1035.4 893.1 1033.2 890.1 1030.9 887.1 1028.6 884.2 1026.2 881.4 1023.8 878.7 1021.3 876.0 1018.7 873.4 1016.0 870.9 1013.3 868.4 1010.6 866.1 1007.7 863.8 1004.9 861.6 1001.9 859.4 998.9 857.4 995.9 855.4 992.8 853.5 989.6 851.8 986.5 850.1 983.2 848.4 980.0 846.9 976.7 845.5 973.3 844.2 969.9 842.9 966.5 841.8 963.1 840.7 959.6 839.7 956.1 838.9 952.6 838.1 949.0 837.4 945.4 836.8 941.8 836.4 938.2 836.0 934.6 835.7 931.0 835.5 927.3 835.4 923.7 835.5 920.0 835.6 916.3 835.8 912.7 836.1 909.0 836.5 905.3 837.0 901.6 837.6 897.9 838.4 894.2 839.2 890.5 840.1 886.8 841.2 883.0 841.9 880.5 842.7 878.2 843.6 876.0 844.6 873.8 845.7 871.7 846.9 869.5 848.1 867.5 849.4 865.5 850.9 863.5 852.4 861.6 854.0 859.7 855.6 857.9 857.4 856.1 859.2 854.4 861.1 852.7 863.1 851.1 865.2 849.5 867.4 848.0 869.6 846.5 871.9 845.1 874.3 843.7 876.7 842.4 879.2 841.1 881.8 840.0 884.4 838.8 887.2 837.7 889.9 836.7 892.8 835.7 895.7 834.8 898.6 834.0 901.6 833.2 904.7 832.5 907.8 831.8 911.0 831.3 914.2 830.7 917.4 830.3 920.8 829.9 924.1 829.5 927.5 829.2 930.9 829.0 934.4 828.9 937.9 828.8 941.4 828.8 945.0 828.8 948.6 828.9 952.2 829.1 955.8 829.3 959.5 829.6 963.2 830.0 966.9 830.5 970.6 831.0 974.3 831.5 978.1 832.1 981.9 832.8 985.6 833.6 989.4 834.4 993.2 835.3 997.1 836.3 1001.0 837.3 1005.0 838.4 1010.2 840.0 1015.2 841.5 1020.1 843.1 1025.0 844.7 1029.8 846.4 1034.6 848.1 1039.3 849.9 1043.9 851.7 1048.5 853.5 1053.0 855.4 1057.5 857.3 1061.9 859.3 1066.2 861.3 1070.5 863.4 1074.7 865.5 1078.9 867.6 1082.9 869.7 1086.9 871.9 1090.8 874.2 1094.7 876.4 1098.4 878.7M1096.8 1043.7 1093.2 1045.4 1089.5 1047.0 1085.8 1048.5 1081.9 1050.0 1078.1 1051.3 1074.1 1052.5 1070.1 1053.7 1066.0 1054.8 1061.9 1055.8 1057.7 1056.6 1053.5 1057.4 1049.2 1058.1 1044.8 1058.7 1040.5 1059.3 1036.0 1059.7 1031.6 1060.0 1027.1 1060.2 1022.5 1060.4 1018.0 1060.4 1013.4 1060.3 1008.8 1060.2 1004.1 1059.9 999.4 1059.6 994.7 1059.1 990.0 1058.6 985.3 1057.9 980.5 1057.2 975.7 1056.4 971.0 1055.4 966.1 1054.4 961.3 1053.3 956.4 1052.0 951.5 1050.7 946.3 1049.2 942.3 1048.0 938.6 1046.7 934.9 1045.4 931.4 1044.0 927.8 1042.5 924.4 1040.9 921.0 1039.3 917.7 1037.6 914.4 1035.8 911.2 1034.0 908.0 1032.1 905.0 1030.1 901.9 1028.0 899.0 1025.9 896.1 1023.7 893.2 1021.4 890.5 1019.1 887.8 1016.7 885.1 1014.3 882.6 1011.8 880.1 1009.2 877.7 1006.5 875.4 1003.8 873.1 1001.1 870.9 998.3 868.8 995.4 866.8 992.5 864.9 989.6 863.0 986.6 861.2 983.5 859.6 980.5 858.0 977.3 856.4 974.2 855.0 970.9 853.7 967.7 852.4 964.4 851.3 961.1 850.2 957.8 849.2 954.4 848.3 951.0 847.6 947.6 846.9 944.1 846.3 940.7 845.7 937.2 845.3 933.7 845.0 930.2 844.8 926.7 844.7 923.1 844.6 919.6 844.7 916.0 844.8 912.4 845.1 908.9 845.5 905.3 845.9 901.7 846.5 898.1 847.1 894.5 847.9 890.9 848.7 887.2 849.7 883.6 850.8 879.7 851.5 877.4 852.4 875.1 853.2 873.0 854.2 870.9 855.3 868.8 856.4 866.8 857.6 864.8 858.9 862.9 860.3 861.0 861.8 859.2 863.3 857.5 864.9 855.7 866.6 854.1 868.4 852.4 870.3 850.8 872.2 849.3 874.2 847.8 876.3 846.4 878.4 845.0 880.6 843.7 882.9 842.5 885.3 841.2 887.7 840.1 890.2 839.0 892.7 837.9 895.3 836.9 898.0 836.0 900.7 835.1 903.5 834.3 906.4 833.6 909.3 832.9 912.2 832.2 915.2 831.6 918.3 831.1 921.4 830.7 924.5 830.3 927.7 829.9 930.9 829.7 934.2 829.5 937.5 829.3 940.8 829.2 944.2 829.2 947.6 829.2 951.0 829.3 954.5 829.5 958.0 829.7 961.5 830.0 965.1 830.4 968.6 830.8 972.2 831.2 975.8 831.8 979.4 832.4 983.1 833.0 986.7 833.8 990.4 834.6 994.1 835.4 997.8 836.3 1001.6 837.3 1005.4 838.4 1009.4 839.5 1014.5 841.1 1019.4 842.7 1024.2 844.3 1028.9 845.9 1033.5 847.5 1038.1 849.2 1042.6 850.9 1047.0 852.7 1051.4 854.5 1055.7 856.4 1060.0 858.3 1064.2 860.2 1068.3 862.2 1072.4 864.2 1076.4 866.2 1080.4 868.2 1084.2 870.3 1088.0 872.5 1091.7 874.6 1095.4 876.8 1098.9 879.0M1098.1 1035.7 1094.7 1037.4 1091.2 1039.0 1087.7 1040.6 1084.1 1042.0 1080.5 1043.4 1076.8 1044.6 1073.0 1045.8 1069.2 1046.9 1065.3 1047.9 1061.3 1048.8 1057.4 1049.7 1053.3 1050.4 1049.2 1051.1 1045.1 1051.6 1040.9 1052.1 1036.7 1052.4 1032.4 1052.7 1028.1 1052.9 1023.8 1053.0 1019.5 1053.0 1015.1 1052.9 1010.7 1052.7 1006.2 1052.5 1001.7 1052.1 997.3 1051.6 992.7 1051.1 988.2 1050.4 983.6 1049.6 979.1 1048.8 974.5 1047.9 969.8 1046.8 965.2 1045.7 960.4 1044.4 955.6 1043.1 950.6 1041.5 946.6 1040.3 942.9 1039.0 939.4 1037.6 935.9 1036.2 932.5 1034.8 929.1 1033.2 925.8 1031.6 922.6 1030.0 919.4 1028.2 916.3 1026.4 913.3 1024.5 910.3 1022.6 907.4 1020.6 904.6 1018.5 901.8 1016.4 899.1 1014.2 896.4 1011.9 893.8 1009.6 891.3 1007.2 888.9 1004.7 886.5 1002.2 884.2 999.7 882.0 997.0 879.8 994.4 877.8 991.7 875.8 988.9 873.9 986.1 872.0 983.2 870.3 980.3 868.6 977.4 867.0 974.4 865.5 971.3 864.1 968.3 862.7 965.2 861.5 962.0 860.3 958.9 859.2 955.7 858.3 952.4 857.4 949.2 856.5 945.9 855.8 942.6 855.2 939.3 854.7 935.9 854.2 932.5 853.9 929.1 853.6 925.7 853.4 922.3 853.3 918.9 853.4 915.4 853.5 912.0 853.7 908.5 854.0 905.1 854.3 901.6 854.8 898.1 855.4 894.6 856.1 891.1 856.9 887.5 857.7 884.0 858.7 880.3 859.9 876.5 860.6 874.2 861.4 872.0 862.3 870.0 863.3 868.0 864.3 866.0 865.4 864.1 866.6 862.2 867.9 860.4 869.2 858.6 870.6 856.9 872.1 855.2 873.7 853.6 875.3 852.0 877.0 850.5 878.8 849.0 880.7 847.6 882.6 846.2 884.6 844.9 886.6 843.6 888.8 842.4 891.0 841.2 893.2 840.1 895.6 839.1 898.0 838.0 900.4 837.1 902.9 836.2 905.5 835.3 908.1 834.5 910.8 833.8 913.5 833.1 916.3 832.5 919.1 832.0 922.0 831.5 925.0 831.0 927.9 830.6 931.0 830.3 934.0 830.0 937.1 829.8 940.3 829.7 943.4 829.6 946.6 829.5 949.9 829.6 953.2 829.7 956.5 829.8 959.8 830.0 963.2 830.3 966.6 830.6 970.0 831.0 973.4 831.4 976.9 832.0 980.4 832.5 983.9 833.2 987.4 833.8 991.0 834.6 994.6 835.4 998.2 836.3 1001.8 837.2 1005.5 838.2 1009.2 839.3 1013.2 840.5 1018.2 842.1 1023.0 843.7 1027.6 845.2 1032.1 846.8 1036.6 848.5 1040.9 850.1 1045.2 851.8 1049.5 853.6 1053.7 855.3 1057.8 857.2 1061.9 859.0 1065.9 860.9 1069.8 862.8 1073.7 864.7 1077.5 866.7 1081.2 868.7 1084.9 870.7 1088.5 872.7 1092.0 874.8 1095.5 876.9 1098.8 879.1M1098.8 1027.4 1095.6 1029.1 1092.4 1030.7 1089.1 1032.3 1085.7 1033.7 1082.3 1035.1 1078.8 1036.4 1075.3 1037.6 1071.7 1038.7 1068.0 1039.7 1064.3 1040.7 1060.6 1041.6 1056.8 1042.3 1052.9 1043.0 1049.0 1043.6 1045.1 1044.1 1041.1 1044.6 1037.1 1044.9 1033.0 1045.1 1029.0 1045.3 1024.8 1045.3 1020.7 1045.3 1016.5 1045.2 1012.3 1045.0 1008.0 1044.7 1003.8 1044.3 999.5 1043.8 995.2 1043.3 990.8 1042.6 986.5 1041.8 982.1 1041.0 977.7 1040.0 973.2 1039.0 968.7 1037.9 964.2 1036.6 959.5 1035.3 954.6 1033.7 950.6 1032.4 947.0 1031.1 943.5 1029.8 940.1 1028.4 936.8 1026.9 933.6 1025.4 930.4 1023.8 927.3 1022.2 924.2 1020.5 921.2 1018.7 918.3 1016.9 915.4 1015.0 912.6 1013.0 909.9 1011.0 907.2 1008.9 904.6 1006.7 902.1 1004.5 899.6 1002.3 897.2 1000.0 894.8 997.6 892.6 995.2 890.4 992.7 888.3 990.1 886.2 987.6 884.3 984.9 882.4 982.3 880.5 979.5 878.8 976.8 877.1 974.0 875.6 971.1 874.1 968.2 872.6 965.3 871.3 962.3 870.0 959.3 868.9 956.3 867.8 953.3 866.8 950.2 865.9 947.0 865.0 943.9 864.3 940.7 863.6 937.5 863.1 934.3 862.6 931.1 862.2 927.8 861.9 924.5 861.7 921.3 861.5 917.9 861.5 914.6 861.5 911.3 861.7 908.0 861.9 904.6 862.2 901.2 862.7 897.8 863.2 894.5 863.8 891.0 864.5 887.6 865.3 884.2 866.2 880.7 867.2 877.1 868.3 873.3 869.1 871.1 869.9 869.0 870.8 867.0 871.7 865.1 872.7 863.2 873.8 861.4 874.9 859.6 876.1 857.9 877.4 856.3 878.8 854.7 880.2 853.1 881.7 851.6 883.3 850.1 885.0 848.7 886.7 847.3 888.5 845.9 890.3 844.7 892.2 843.4 894.2 842.3 896.3 841.1 898.4 840.0 900.5 839.0 902.8 838.0 905.1 837.1 907.4 836.3 909.8 835.4 912.3 834.7 914.8 834.0 917.4 833.3 920.0 832.7 922.7 832.2 925.4 831.7 928.2 831.2 931.0 830.9 933.8 830.5 936.7 830.3 939.7 830.1 942.6 829.9 945.7 829.8 948.7 829.8 951.8 829.8 954.9 829.9 958.1 830.0 961.3 830.2 964.5 830.5 967.7 830.8 971.0 831.1 974.3 831.6 977.6 832.0 981.0 832.6 984.3 833.2 987.7 833.8 991.2 834.5 994.6 835.3 998.1 836.1 1001.6 837.0 1005.1 838.0 1008.7 839.0 1012.4 840.1 1016.3 841.4 1021.3 843.0 1025.9 844.5 1030.3 846.1 1034.7 847.7 1038.9 849.3 1043.1 850.9 1047.3 852.6 1051.3 854.2 1055.3 856.0 1059.3 857.7 1063.1 859.5 1066.9 861.3 1070.7 863.1 1074.4 865.0 1078.0 866.9 1081.5 868.8 1085.0 870.8 1088.4 872.7 1091.7 874.7 1095.0 876.8 1098.2 878.8M1098.9 1018.8 1096.0 1020.5 1093.0 1022.1 1089.9 1023.7 1086.8 1025.1 1083.6 1026.5 1080.3 1027.8 1077.0 1029.1 1073.6 1030.2 1070.2 1031.3 1066.7 1032.2 1063.2 1033.1 1059.6 1033.9 1056.0 1034.7 1052.3 1035.3 1048.6 1035.9 1044.9 1036.3 1041.1 1036.7 1037.3 1037.0 1033.4 1037.2 1029.5 1037.4 1025.6 1037.4 1021.7 1037.3 1017.7 1037.2 1013.7 1037.0 1009.6 1036.7 1005.6 1036.3 1001.5 1035.8 997.4 1035.2 993.2 1034.5 989.0 1033.8 984.9 1032.9 980.6 1032.0 976.4 1031.0 972.0 1029.8 967.6 1028.6 963.1 1027.2 958.3 1025.7 954.4 1024.3 950.8 1023.0 947.4 1021.7 944.1 1020.3 940.9 1018.9 937.7 1017.4 934.6 1015.8 931.6 1014.2 928.7 1012.6 925.8 1010.8 922.9 1009.0 920.2 1007.2 917.5 1005.3 914.8 1003.3 912.3 1001.3 909.8 999.2 907.3 997.1 905.0 994.9 902.7 992.6 900.4 990.3 898.3 988.0 896.2 985.6 894.1 983.1 892.2 980.6 890.3 978.1 888.5 975.5 886.8 972.9 885.1 970.2 883.6 967.5 882.1 964.8 880.6 962.0 879.3 959.2 878.0 956.3 876.8 953.4 875.7 950.5 874.7 947.6 873.8 944.6 872.9 941.6 872.2 938.6 871.5 935.5 870.9 932.4 870.4 929.3 869.9 926.2 869.6 923.1 869.3 919.9 869.1 916.7 869.0 913.5 869.0 910.3 869.1 907.1 869.3 903.9 869.6 900.6 869.9 897.4 870.3 894.1 870.9 890.8 871.5 887.5 872.2 884.2 873.0 880.8 873.9 877.4 874.9 873.9 876.1 870.1 876.9 867.9 877.7 866.0 878.5 864.1 879.4 862.2 880.4 860.5 881.4 858.8 882.5 857.1 883.7 855.5 885.0 853.9 886.3 852.4 887.6 850.9 889.1 849.5 890.6 848.1 892.2 846.8 893.8 845.5 895.5 844.3 897.3 843.1 899.1 842.0 901.0 840.9 903.0 839.9 905.0 838.9 907.1 837.9 909.2 837.0 911.4 836.2 913.7 835.4 916.0 834.7 918.4 834.0 920.8 833.4 923.2 832.8 925.7 832.3 928.3 831.8 930.9 831.4 933.6 831.0 936.3 830.7 939.0 830.4 941.8 830.2 944.6 830.1 947.5 830.0 950.4 830.0 953.3 830.0 956.3 830.0 959.3 830.2 962.3 830.3 965.4 830.6 968.5 830.9 971.6 831.2 974.7 831.6 977.9 832.0 981.1 832.5 984.4 833.1 987.6 833.7 990.9 834.4 994.2 835.1 997.5 835.9 1000.9 836.8 1004.3 837.7 1007.8 838.6 1011.3 839.7 1014.9 840.8 1018.8 842.1 1023.7 843.7 1028.1 845.2 1032.4 846.8 1036.6 848.3 1040.7 849.9 1044.7 851.5 1048.6 853.1 1052.5 854.7 1056.3 856.4 1060.1 858.1 1063.8 859.8 1067.4 861.5 1070.9 863.3 1074.4 865.1 1077.9 866.9 1081.2 868.8 1084.5 870.6 1087.7 872.5 1090.9 874.4 1094.0 876.4 1097.0 878.3 1099.9 880.3M1098.6 1010.0 1095.9 1011.7 1093.1 1013.3 1090.2 1014.8 1087.3 1016.3 1084.3 1017.7 1081.2 1019.0 1078.1 1020.2 1075.0 1021.4 1071.8 1022.5 1068.5 1023.5 1065.2 1024.4 1061.9 1025.2 1058.5 1026.0 1055.1 1026.7 1051.6 1027.3 1048.1 1027.8 1044.5 1028.2 1040.9 1028.6 1037.3 1028.9 1033.6 1029.0 1029.9 1029.1 1026.2 1029.2 1022.4 1029.1 1018.6 1028.9 1014.8 1028.7 1011.0 1028.4 1007.1 1028.0 1003.2 1027.5 999.3 1026.9 995.3 1026.3 991.4 1025.5 987.3 1024.7 983.3 1023.7 979.2 1022.7 975.1 1021.6 970.8 1020.4 966.5 1019.0 961.7 1017.4 957.8 1016.1 954.3 1014.8 951.0 1013.5 947.8 1012.1 944.6 1010.7 941.5 1009.2 938.5 1007.7 935.6 1006.1 932.8 1004.5 930.0 1002.8 927.2 1001.0 924.6 999.2 922.0 997.4 919.4 995.5 917.0 993.5 914.6 991.5 912.2 989.4 909.9 987.3 907.7 985.2 905.6 982.9 903.5 980.7 901.5 978.4 899.6 976.0 897.7 973.6 895.9 971.2 894.2 968.7 892.5 966.1 891.0 963.6 889.5 961.0 888.0 958.3 886.7 955.7 885.4 952.9 884.2 950.2 883.1 947.4 882.1 944.6 881.1 941.8 880.2 938.9 879.4 936.0 878.7 933.1 878.0 930.2 877.5 927.2 877.0 924.2 876.6 921.2 876.3 918.2 876.1 915.2 875.9 912.1 875.9 909.0 875.9 905.9 876.0 902.8 876.2 899.7 876.5 896.6 876.8 893.4 877.3 890.3 877.8 887.1 878.5 883.9 879.2 880.7 880.0 877.4 880.9 874.1 881.9 870.6 883.2 866.9 883.9 864.8 884.7 862.9 885.5 861.1 886.4 859.4 887.3 857.7 888.3 856.1 889.3 854.5 890.5 853.0 891.7 851.6 892.9 850.2 894.2 848.8 895.6 847.5 897.1 846.2 898.6 845.0 900.2 843.8 901.8 842.7 903.5 841.6 905.2 840.5 907.1 839.5 908.9 838.6 910.9 837.7 912.9 836.8 914.9 836.0 917.0 835.3 919.2 834.6 921.4 833.9 923.6 833.3 925.9 832.8 928.3 832.3 930.7 831.8 933.2 831.4 935.7 831.0 938.2 830.7 940.8 830.5 943.4 830.3 946.1 830.1 948.8 830.0 951.5 830.0 954.3 830.0 957.1 830.1 960.0 830.2 962.9 830.3 965.8 830.6 968.7 830.8 971.7 831.2 974.7 831.5 977.8 831.9 980.8 832.4 983.9 833.0 987.1 833.5 990.2 834.2 993.4 834.9 996.6 835.6 999.8 836.4 1003.1 837.3 1006.4 838.2 1009.8 839.2 1013.2 840.2 1016.8 841.3 1020.7 842.6 1025.4 844.3 1029.7 845.8 1033.8 847.3 1037.9 848.8 1041.8 850.3 1045.6 851.9 1049.4 853.4 1053.1 855.0 1056.7 856.6 1060.3 858.2 1063.8 859.9 1067.2 861.6 1070.6 863.3 1073.9 865.0 1077.2 866.7 1080.4 868.5 1083.5 870.3 1086.6 872.1 1089.6 873.9 1092.5 875.7 1095.3 877.6 1098.1 879.4M1097.9 1000.9 1095.4 1002.5 1092.7 1004.2 1090.1 1005.7 1087.3 1007.2 1084.6 1008.6 1081.7 1009.9 1078.8 1011.1 1075.9 1012.3 1072.9 1013.4 1069.9 1014.4 1066.8 1015.4 1063.6 1016.3 1060.5 1017.1 1057.2 1017.8 1054.0 1018.4 1050.7 1019.0 1047.3 1019.4 1044.0 1019.8 1040.6 1020.2 1037.1 1020.4 1033.6 1020.6 1030.1 1020.7 1026.6 1020.7 1023.0 1020.6 1019.4 1020.4 1015.8 1020.2 1012.1 1019.8 1008.4 1019.4 1004.7 1018.9 1001.0 1018.4 997.2 1017.7 993.4 1017.0 989.6 1016.2 985.7 1015.2 981.8 1014.2 977.8 1013.1 973.7 1011.9 969.5 1010.6 964.8 1009.0 961.0 1007.6 957.5 1006.4 954.3 1005.0 951.1 1003.7 948.0 1002.3 945.0 1000.9 942.1 999.4 939.3 997.8 936.5 996.2 933.8 994.6 931.2 992.9 928.6 991.1 926.1 989.4 923.6 987.5 921.2 985.6 918.9 983.7 916.6 981.7 914.4 979.6 912.3 977.5 910.3 975.4 908.3 973.2 906.3 971.0 904.5 968.7 902.7 966.4 901.0 964.1 899.3 961.7 897.7 959.3 896.2 956.8 894.8 954.3 893.4 951.8 892.1 949.2 890.9 946.6 889.8 943.9 888.7 941.3 887.7 938.6 886.8 935.9 886.0 933.1 885.2 930.3 884.5 927.6 883.9 924.7 883.4 921.9 883.0 919.0 882.6 916.1 882.3 913.2 882.1 910.3 882.0 907.4 882.0 904.4 882.0 901.5 882.1 898.5 882.3 895.5 882.6 892.5 883.0 889.4 883.4 886.4 884.0 883.3 884.6 880.2 885.3 877.1 886.1 873.9 887.1 870.7 888.1 867.3 889.3 863.6 890.1 861.6 890.8 859.8 891.6 858.1 892.4 856.5 893.3 854.9 894.3 853.4 895.3 852.0 896.3 850.6 897.5 849.2 898.7 847.9 899.9 846.6 901.3 845.4 902.6 844.2 904.1 843.1 905.6 842.0 907.2 841.0 908.8 840.0 910.5 839.0 912.2 838.1 914.0 837.3 915.8 836.5 917.7 835.7 919.7 835.0 921.7 834.3 923.8 833.7 925.9 833.1 928.0 832.6 930.3 832.1 932.5 831.7 934.8 831.3 937.2 830.9 939.6 830.6 942.0 830.4 944.5 830.2 947.0 830.1 949.6 830.0 952.2 829.9 954.8 829.9 957.5 830.0 960.2 830.1 962.9 830.2 965.7 830.4 968.5 830.7 971.3 831.0 974.2 831.4 977.1 831.8 980.1 832.2 983.0 832.7 986.0 833.3 989.0 833.9 992.1 834.5 995.1 835.2 998.3 836.0 1001.4 836.8 1004.6 837.6 1007.8 838.6 1011.1 839.5 1014.5 840.6 1018.0 841.7 1021.8 843.1 1026.5 844.7 1030.7 846.2 1034.6 847.6 1038.5 849.1 1042.3 850.6 1045.9 852.1 1049.5 853.6 1053.1 855.1 1056.5 856.7 1059.9 858.2 1063.3 859.8 1066.5 861.4 1069.8 863.0 1072.9 864.7 1076.0 866.3 1079.0 868.0 1082.0 869.7 1084.9 871.4 1087.7 873.1 1090.5 874.9 1093.2 876.6 1095.8 878.4 1098.4 880.2M1099.2 989.8 1096.8 991.6 1094.5 993.2 1092.0 994.8 1089.6 996.4 1087.0 997.8 1084.4 999.2 1081.8 1000.6 1079.1 1001.8 1076.4 1003.0 1073.6 1004.1 1070.7 1005.2 1067.9 1006.1 1064.9 1007.0 1062.0 1007.8 1058.9 1008.6 1055.9 1009.3 1052.8 1009.9 1049.7 1010.4 1046.5 1010.8 1043.3 1011.2 1040.1 1011.5 1036.8 1011.7 1033.5 1011.8 1030.1 1011.9 1026.8 1011.9 1023.4 1011.8 1020.0 1011.6 1016.5 1011.4 1013.0 1011.1 1009.5 1010.7 1006.0 1010.2 1002.4 1009.6 998.8 1009.0 995.2 1008.2 991.5 1007.4 987.8 1006.5 984.1 1005.5 980.2 1004.5 976.3 1003.3 972.2 1002.0 967.7 1000.4 963.8 999.0 960.4 997.7 957.2 996.4 954.1 995.1 951.1 993.7 948.2 992.3 945.3 990.9 942.6 989.4 939.9 987.8 937.2 986.2 934.7 984.6 932.2 982.9 929.7 981.1 927.3 979.4 925.0 977.5 922.8 975.6 920.6 973.7 918.5 971.8 916.4 969.7 914.4 967.7 912.5 965.6 910.6 963.5 908.8 961.3 907.1 959.1 905.4 956.8 903.8 954.5 902.3 952.2 900.9 949.8 899.5 947.4 898.2 945.0 896.9 942.6 895.8 940.1 894.7 937.5 893.6 935.0 892.7 932.4 891.8 929.8 891.0 927.2 890.3 924.5 889.6 921.9 889.1 919.2 888.6 916.4 888.2 913.7 887.8 910.9 887.5 908.2 887.4 905.4 887.2 902.6 887.2 899.7 887.3 896.9 887.4 894.0 887.6 891.1 887.9 888.2 888.3 885.3 888.7 882.4 889.2 879.4 889.9 876.4 890.6 873.4 891.4 870.4 892.3 867.2 893.3 864.0 894.5 860.3 895.3 858.4 896.0 856.7 896.7 855.1 897.5 853.6 898.4 852.1 899.3 850.7 900.2 849.3 901.3 848.0 902.3 846.8 903.5 845.6 904.7 844.4 905.9 843.3 907.3 842.2 908.6 841.2 910.1 840.2 911.6 839.2 913.1 838.3 914.7 837.5 916.4 836.7 918.1 835.9 919.9 835.2 921.7 834.5 923.5 833.9 925.5 833.3 927.4 832.7 929.5 832.2 931.5 831.8 933.7 831.4 935.8 831.0 938.0 830.7 940.3 830.4 942.6 830.2 944.9 830.0 947.3 829.9 949.7 829.8 952.2 829.7 954.7 829.7 957.2 829.8 959.8 829.9 962.4 830.0 965.0 830.2 967.7 830.5 970.4 830.7 973.2 831.1 975.9 831.5 978.7 831.9 981.6 832.4 984.4 832.9 987.3 833.4 990.3 834.1 993.2 834.7 996.2 835.4 999.2 836.2 1002.3 837.0 1005.4 837.9 1008.5 838.8 1011.8 839.8 1015.1 840.9 1018.5 842.0 1022.4 843.3 1027.0 844.9 1031.0 846.4 1034.8 847.8 1038.5 849.3 1042.1 850.7 1045.6 852.1 1049.1 853.6 1052.5 855.1 1055.8 856.5 1059.0 858.0 1062.2 859.5 1065.3 861.1 1068.4 862.6 1071.4 864.2 1074.3 865.7 1077.2 867.3 1080.0 868.9 1082.7 870.5 1085.4 872.2 1088.0 873.8 1090.6 875.5 1093.1 877.1 1095.5 878.8 1097.9 880.5M1099.7 978.6 1097.6 980.4 1095.5 982.1 1093.3 983.8 1091.0 985.4 1088.7 986.9 1086.4 988.4 1084.0 989.7 1081.5 991.1 1079.0 992.3 1076.5 993.5 1073.9 994.6 1071.2 995.7 1068.5 996.7 1065.8 997.6 1063.0 998.4 1060.2 999.2 1057.3 999.9 1054.5 1000.5 1051.5 1001.1 1048.6 1001.5 1045.5 1002.0 1042.5 1002.3 1039.4 1002.6 1036.3 1002.8 1033.2 1002.9 1030.0 1002.9 1026.8 1002.9 1023.6 1002.8 1020.3 1002.6 1017.1 1002.4 1013.7 1002.0 1010.4 1001.6 1007.0 1001.2 1003.6 1000.6 1000.2 1000.0 996.7 999.3 993.2 998.5 989.7 997.6 986.1 996.6 982.4 995.6 978.6 994.4 974.7 993.1 970.2 991.6 966.3 990.2 962.9 988.9 959.8 987.6 956.7 986.3 953.8 984.9 950.9 983.6 948.1 982.1 945.4 980.7 942.8 979.2 940.2 977.6 937.7 976.0 935.3 974.4 932.9 972.7 930.6 971.0 928.3 969.2 926.1 967.4 924.0 965.6 921.9 963.7 919.9 961.8 918.0 959.8 916.1 957.8 914.3 955.7 912.6 953.7 910.9 951.5 909.3 949.4 907.7 947.2 906.2 945.0 904.8 942.7 903.5 940.4 902.2 938.1 901.0 935.7 899.9 933.4 898.8 931.0 897.8 928.5 896.9 926.1 896.0 923.6 895.3 921.1 894.6 918.5 893.9 916.0 893.4 913.4 892.9 910.8 892.5 908.2 892.2 905.6 891.9 902.9 891.7 900.2 891.6 897.6 891.6 894.9 891.6 892.1 891.7 889.4 891.9 886.6 892.2 883.9 892.6 881.1 893.0 878.3 893.5 875.4 894.1 872.6 894.8 869.6 895.6 866.7 896.5 863.6 897.5 860.5 898.7 856.9 899.4 855.0 900.1 853.5 900.8 852.0 901.6 850.6 902.4 849.2 903.2 847.9 904.1 846.7 905.1 845.5 906.2 844.3 907.2 843.2 908.4 842.1 909.6 841.1 910.8 840.1 912.2 839.2 913.5 838.3 914.9 837.4 916.4 836.6 918.0 835.9 919.5 835.1 921.2 834.5 922.9 833.8 924.6 833.2 926.4 832.7 928.2 832.1 930.1 831.7 932.1 831.2 934.1 830.9 936.1 830.5 938.2 830.2 940.3 830.0 942.4 829.8 944.7 829.6 946.9 829.5 949.2 829.4 951.5 829.4 953.9 829.4 956.3 829.4 958.7 829.5 961.2 829.7 963.7 829.8 966.3 830.1 968.9 830.3 971.5 830.7 974.1 831.0 976.8 831.4 979.5 831.9 982.3 832.4 985.1 832.9 987.9 833.5 990.7 834.1 993.6 834.8 996.5 835.5 999.5 836.3 1002.5 837.1 1005.5 838.0 1008.6 838.9 1011.7 839.9 1015.0 841.0 1018.4 842.1 1022.3 843.5 1026.8 845.1 1030.7 846.5 1034.4 847.9 1037.9 849.3 1041.4 850.7 1044.8 852.0 1048.1 853.4 1051.3 854.8 1054.5 856.2 1057.6 857.7 1060.6 859.1 1063.6 860.6 1066.5 862.0 1069.3 863.5 1072.1 865.0 1074.9 866.5 1077.5 868.0 1080.1 869.5 1082.7 871.1 1085.2 872.6 1087.6 874.2 1090.0 875.7 1092.3 877.3 1094.5 878.9 1096.7 880.5 1098.8 882.1M1099.6 967.4 1097.8 969.2 1095.8 970.9 1093.9 972.6 1091.8 974.2 1089.8 975.8 1087.6 977.3 1085.4 978.7 1083.2 980.1 1080.9 981.4 1078.6 982.7 1076.2 983.8 1073.8 985.0 1071.4 986.0 1068.9 987.0 1066.3 987.9 1063.7 988.8 1061.1 989.6 1058.4 990.3 1055.7 990.9 1053.0 991.5 1050.2 992.0 1047.4 992.5 1044.5 992.9 1041.6 993.2 1038.7 993.4 1035.8 993.6 1032.8 993.7 1029.8 993.7 1026.7 993.7 1023.7 993.5 1020.6 993.4 1017.4 993.1 1014.3 992.8 1011.1 992.4 1007.9 991.9 1004.6 991.4 1001.3 990.8 998.0 990.1 994.7 989.3 991.3 988.4 987.8 987.5 984.2 986.5 980.6 985.3 976.8 984.1 972.3 982.5 968.4 981.1 965.1 979.8 962.0 978.6 958.9 977.3 956.0 976.0 953.2 974.6 950.5 973.2 947.8 971.8 945.2 970.3 942.7 968.8 940.2 967.3 937.8 965.7 935.5 964.1 933.2 962.5 931.0 960.8 928.9 959.0 926.8 957.2 924.8 955.4 922.8 953.6 920.9 951.7 919.1 949.8 917.3 947.8 915.6 945.8 914.0 943.8 912.4 941.7 910.9 939.6 909.4 937.5 908.0 935.4 906.7 933.2 905.5 931.0 904.3 928.7 903.2 926.5 902.1 924.2 901.2 921.9 900.3 919.5 899.4 917.2 898.7 914.8 898.0 912.4 897.3 909.9 896.8 907.5 896.3 905.0 895.9 902.5 895.6 900.0 895.3 897.5 895.1 894.9 895.0 892.4 895.0 889.8 895.0 887.2 895.1 884.6 895.3 882.0 895.5 879.3 895.9 876.7 896.3 874.0 896.8 871.3 897.4 868.5 898.0 865.7 898.8 862.9 899.7 860.0 900.6 856.9 901.8 853.4 902.5 851.6 903.1 850.1 903.8 848.8 904.5 847.5 905.3 846.2 906.1 845.0 907.0 843.9 907.9 842.8 908.9 841.7 909.9 840.7 911.0 839.8 912.1 838.8 913.3 838.0 914.6 837.1 915.9 836.3 917.2 835.5 918.6 834.8 920.1 834.1 921.6 833.5 923.2 832.9 924.8 832.4 926.5 831.8 928.2 831.4 930.0 830.9 931.8 830.5 933.6 830.2 935.5 829.9 937.5 829.6 939.5 829.4 941.5 829.2 943.6 829.0 945.7 828.9 947.9 828.8 950.1 828.8 952.4 828.8 954.7 828.9 957.0 829.0 959.3 829.1 961.7 829.3 964.2 829.5 966.6 829.8 969.2 830.1 971.7 830.5 974.3 830.9 976.9 831.3 979.5 831.8 982.2 832.3 984.9 832.8 987.6 833.4 990.4 834.1 993.2 834.8 996.1 835.5 999.0 836.3 1001.9 837.1 1004.9 838.0 1007.9 838.9 1011.0 839.9 1014.3 841.0 1017.7 842.2 1021.6 843.5 1026.0 845.1 1029.8 846.5 1033.3 847.8 1036.8 849.2 1040.1 850.5 1043.3 851.8 1046.5 853.1 1049.6 854.5 1052.6 855.8 1055.6 857.2 1058.5 858.5 1061.3 859.9 1064.1 861.3 1066.8 862.7 1069.5 864.1 1072.1 865.5 1074.7 866.9 1077.1 868.3 1079.6 869.8 1082.0 871.2 1084.3 872.7 1086.5 874.2 1088.7 875.6 1090.9 877.1 1092.9 878.6 1094.9 880.1 1096.9 881.6 1098.8 883.1M1099.0 956.1 1097.4 957.9 1095.7 959.7 1093.9 961.4 1092.1 963.0 1090.2 964.6 1088.3 966.1 1086.3 967.6 1084.3 969.0 1082.2 970.4 1080.1 971.7 1078.0 972.9 1075.8 974.1 1073.5 975.2 1071.2 976.2 1068.9 977.2 1066.5 978.1 1064.1 979.0 1061.6 979.8 1059.2 980.5 1056.6 981.2 1054.0 981.8 1051.4 982.3 1048.8 982.8 1046.1 983.2 1043.4 983.5 1040.7 983.8 1037.9 984.0 1035.1 984.2 1032.3 984.2 1029.4 984.3 1026.5 984.2 1023.6 984.1 1020.6 983.9 1017.6 983.6 1014.6 983.3 1011.6 982.9 1008.5 982.5 1005.4 981.9 1002.2 981.3 999.1 980.6 995.8 979.9 992.6 979.1 989.2 978.1 985.8 977.1 982.3 976.0 978.5 974.8 974.2 973.3 970.2 971.9 966.9 970.6 963.7 969.3 960.7 968.1 957.9 966.8 955.1 965.4 952.4 964.1 949.7 962.7 947.2 961.3 944.7 959.8 942.2 958.4 939.9 956.8 937.6 955.3 935.3 953.7 933.2 952.0 931.0 950.4 929.0 948.7 927.0 946.9 925.1 945.2 923.2 943.4 921.4 941.5 919.6 939.7 917.9 937.8 916.3 935.8 914.7 933.9 913.2 931.9 911.8 929.9 910.4 927.8 909.1 925.7 907.9 923.6 906.7 921.5 905.6 919.3 904.6 917.2 903.6 915.0 902.7 912.7 901.9 910.5 901.1 908.2 900.4 905.9 899.8 903.6 899.2 901.3 898.7 899.0 898.3 896.6 898.0 894.2 897.7 891.8 897.5 889.4 897.3 887.0 897.3 884.6 897.3 882.1 897.4 879.6 897.5 877.1 897.8 874.6 898.1 872.1 898.5 869.5 898.9 866.9 899.5 864.3 900.1 861.6 900.8 858.9 901.6 856.1 902.6 853.2 903.8 849.7 904.4 848.1 905.0 846.7 905.6 845.4 906.3 844.2 907.0 843.1 907.7 842.0 908.6 841.0 909.4 840.0 910.4 839.0 911.3 838.1 912.4 837.3 913.5 836.4 914.6 835.7 915.8 834.9 917.0 834.2 918.3 833.5 919.7 832.9 921.1 832.3 922.5 831.8 924.0 831.3 925.6 830.8 927.2 830.3 928.8 829.9 930.5 829.6 932.3 829.3 934.1 829.0 935.9 828.7 937.8 828.5 939.7 828.4 941.7 828.2 943.7 828.1 945.8 828.1 947.9 828.1 950.0 828.1 952.2 828.2 954.4 828.3 956.7 828.4 959.0 828.6 961.3 828.8 963.7 829.1 966.1 829.4 968.5 829.7 971.0 830.1 973.5 830.5 976.0 831.0 978.6 831.5 981.2 832.0 983.9 832.6 986.6 833.3 989.3 833.9 992.1 834.6 994.9 835.4 997.7 836.2 1000.6 837.0 1003.5 837.9 1006.6 838.8 1009.6 839.8 1012.9 840.9 1016.2 842.0 1020.2 843.4 1024.5 845.0 1028.2 846.3 1031.7 847.6 1035.0 848.9 1038.2 850.2 1041.4 851.4 1044.4 852.7 1047.4 854.0 1050.3 855.3 1053.1 856.5 1055.9 857.8 1058.6 859.1 1061.3 860.4 1063.9 861.7 1066.5 863.1 1069.0 864.4 1071.4 865.7 1073.8 867.1 1076.1 868.4 1078.4 869.8 1080.6 871.1 1082.8 872.5 1084.9 873.9 1086.9 875.2 1088.9 876.6 1090.8 878.0 1092.7 879.4 1094.5 880.8 1096.2 882.2 1097.9 883.6 1099.5 885.0M1099.4 942.9 1098.0 944.8 1096.5 946.7 1095.0 948.5 1093.4 950.2 1091.8 951.8 1090.1 953.4 1088.4 955.0 1086.7 956.5 1084.8 957.9 1083.0 959.3 1081.1 960.6 1079.1 961.9 1077.1 963.1 1075.1 964.2 1073.0 965.3 1070.9 966.3 1068.7 967.3 1066.5 968.2 1064.2 969.1 1061.9 969.9 1059.6 970.6 1057.2 971.3 1054.8 971.9 1052.4 972.4 1049.9 972.9 1047.4 973.3 1044.9 973.7 1042.3 974.0 1039.7 974.3 1037.0 974.4 1034.4 974.6 1031.6 974.6 1028.9 974.6 1026.1 974.5 1023.4 974.4 1020.5 974.2 1017.7 974.0 1014.8 973.6 1011.9 973.2 1008.9 972.8 1005.9 972.3 1002.9 971.7 999.9 971.0 996.7 970.3 993.6 969.5 990.3 968.6 987.0 967.6 983.6 966.5 979.9 965.3 975.6 963.8 971.6 962.4 968.2 961.1 965.1 959.8 962.1 958.6 959.2 957.3 956.4 956.0 953.7 954.7 951.1 953.4 948.6 952.0 946.1 950.6 943.6 949.2 941.3 947.7 939.0 946.2 936.8 944.6 934.6 943.1 932.5 941.5 930.5 939.9 928.5 938.2 926.5 936.5 924.7 934.8 922.9 933.0 921.1 931.2 919.4 929.4 917.8 927.6 916.3 925.7 914.8 923.8 913.3 921.9 912.0 920.0 910.7 918.0 909.4 916.0 908.2 914.0 907.1 912.0 906.1 909.9 905.1 907.8 904.2 905.7 903.3 903.6 902.5 901.4 901.8 899.3 901.2 897.1 900.6 894.9 900.1 892.7 899.6 890.5 899.3 888.2 899.0 886.0 898.7 883.7 898.6 881.4 898.5 879.1 898.4 876.7 898.5 874.4 898.6 872.0 898.8 869.7 899.1 867.3 899.4 864.8 899.9 862.4 900.4 859.9 900.9 857.4 901.6 854.8 902.4 852.1 903.3 849.3 904.4 845.9 905.0 844.4 905.5 843.2 906.1 842.0 906.8 840.9 907.4 839.9 908.1 838.9 908.9 838.0 909.7 837.1 910.6 836.2 911.5 835.4 912.5 834.7 913.6 833.9 914.6 833.2 915.8 832.6 917.0 832.0 918.2 831.4 919.5 830.9 920.9 830.4 922.2 829.9 923.7 829.5 925.2 829.1 926.7 828.7 928.3 828.4 930.0 828.1 931.7 827.9 933.4 827.6 935.2 827.5 937.0 827.3 938.9 827.2 940.8 827.2 942.7 827.1 944.7 827.1 946.8 827.2 948.9 827.3 951.0 827.4 953.1 827.5 955.3 827.7 957.6 828.0 959.9 828.2 962.2 828.5 964.5 828.9 966.9 829.2 969.4 829.7 971.8 830.1 974.3 830.6 976.9 831.1 979.4 831.7 982.0 832.3 984.7 832.9 987.4 833.6 990.1 834.3 992.9 835.1 995.7 835.9 998.5 836.7 1001.5 837.6 1004.5 838.6 1007.6 839.6 1010.8 840.6 1014.2 841.8 1018.2 843.2 1022.5 844.7 1026.1 846.0 1029.5 847.3 1032.7 848.5 1035.8 849.7 1038.9 851.0 1041.8 852.2 1044.7 853.4 1047.5 854.6 1050.2 855.8 1052.9 857.0 1055.5 858.2 1058.1 859.5 1060.6 860.7 1063.1 861.9 1065.5 863.2 1067.8 864.4 1070.1 865.7 1072.3 866.9 1074.5 868.2 1076.7 869.5 1078.7 870.7 1080.8 872.0 1082.7 873.3 1084.6 874.6 1086.5 875.9 1088.3 877.1 1090.0 878.4 1091.7 879.7 1093.3 881.0 1094.9 882.3 1096.4 883.6 1097.8 884.9 1099.2 886.2M1099.1 929.9 1097.9 931.9 1096.6 933.8 1095.3 935.6 1094.0 937.4 1092.6 939.1 1091.1 940.8 1089.7 942.4 1088.1 943.9 1086.5 945.4 1084.9 946.8 1083.3 948.2 1081.5 949.6 1079.8 950.8 1078.0 952.1 1076.1 953.2 1074.2 954.3 1072.3 955.4 1070.3 956.4 1068.3 957.3 1066.2 958.2 1064.1 959.1 1062.0 959.8 1059.8 960.6 1057.6 961.2 1055.4 961.8 1053.1 962.4 1050.8 962.9 1048.4 963.3 1046.0 963.7 1043.6 964.0 1041.1 964.3 1038.6 964.5 1036.1 964.7 1033.5 964.8 1031.0 964.8 1028.3 964.8 1025.7 964.7 1023.0 964.5 1020.3 964.3 1017.6 964.0 1014.8 963.7 1012.0 963.3 1009.1 962.9 1006.3 962.4 1003.3 961.8 1000.4 961.1 997.4 960.4 994.3 959.6 991.2 958.8 987.9 957.8 984.6 956.8 981.0 955.6 976.7 954.1 972.6 952.6 969.2 951.4 966.0 950.1 963.0 948.9 960.0 947.6 957.2 946.4 954.5 945.1 951.9 943.8 949.3 942.4 946.8 941.1 944.4 939.7 942.0 938.3 939.8 936.8 937.5 935.4 935.3 933.9 933.2 932.3 931.2 930.8 929.2 929.2 927.2 927.6 925.4 925.9 923.5 924.3 921.8 922.6 920.1 920.8 918.5 919.1 916.9 917.3 915.4 915.5 913.9 913.7 912.5 911.9 911.2 910.0 909.9 908.1 908.7 906.2 907.6 904.3 906.5 902.4 905.5 900.4 904.6 898.4 903.7 896.4 902.9 894.4 902.1 892.4 901.4 890.3 900.8 888.2 900.3 886.2 899.8 884.1 899.4 882.0 899.0 879.8 898.8 877.7 898.6 875.5 898.4 873.4 898.4 871.2 898.4 869.0 898.4 866.7 898.6 864.5 898.8 862.2 899.1 860.0 899.5 857.6 899.9 855.3 900.5 852.9 901.1 850.5 901.8 847.9 902.7 845.2 903.7 842.0 904.3 840.6 904.8 839.5 905.3 838.4 905.9 837.4 906.5 836.5 907.2 835.6 907.9 834.8 908.7 834.0 909.5 833.3 910.4 832.6 911.3 831.9 912.3 831.3 913.4 830.7 914.4 830.1 915.6 829.6 916.8 829.1 918.0 828.7 919.3 828.3 920.7 827.9 922.1 827.5 923.5 827.2 925.0 826.9 926.6 826.7 928.1 826.5 929.8 826.3 931.5 826.2 933.2 826.1 935.0 826.0 936.8 826.0 938.7 825.9 940.6 826.0 942.5 826.0 944.5 826.1 946.6 826.3 948.7 826.5 950.8 826.7 952.9 826.9 955.2 827.2 957.4 827.5 959.7 827.8 962.0 828.2 964.3 828.6 966.7 829.0 969.2 829.5 971.6 830.0 974.2 830.6 976.7 831.2 979.3 831.8 981.9 832.5 984.6 833.1 987.3 833.9 990.1 834.7 992.9 835.5 995.7 836.3 998.7 837.2 1001.7 838.2 1004.8 839.2 1008.0 840.2 1011.5 841.4 1015.6 842.9 1019.9 844.4 1023.4 845.6 1026.7 846.9 1029.9 848.0 1032.9 849.2 1035.9 850.4 1038.7 851.5 1041.5 852.6 1044.2 853.8 1046.9 854.9 1049.5 856.1 1052.0 857.2 1054.5 858.4 1056.9 859.5 1059.3 860.7 1061.6 861.9 1063.9 863.0 1066.1 864.2 1068.3 865.4 1070.4 866.5 1072.5 867.7 1074.5 868.9 1076.4 870.1 1078.3 871.3 1080.2 872.5 1082.0 873.6 1083.7 874.8 1085.4 876.0 1087.0 877.2 1088.6 878.4 1090.1 879.6 1091.5 880.7 1092.9 881.9 1094.3 883.1 1095.5 884.3 1096.8 885.5 1097.9 886.6 1099.0 887.8M1100.0 912.5 1099.0 914.8 1098.0 917.0 1097.0 919.0 1096.0 921.0 1094.9 922.9 1093.8 924.7 1092.6 926.5 1091.4 928.2 1090.1 929.9 1088.8 931.4 1087.5 933.0 1086.1 934.5 1084.6 935.9 1083.1 937.3 1081.6 938.6 1080.0 939.9 1078.4 941.1 1076.7 942.3 1075.0 943.4 1073.3 944.5 1071.5 945.5 1069.7 946.4 1067.8 947.3 1065.9 948.2 1063.9 949.0 1061.9 949.8 1059.9 950.5 1057.8 951.1 1055.7 951.7 1053.6 952.3 1051.4 952.8 1049.2 953.2 1046.9 953.6 1044.6 953.9 1042.3 954.2 1039.9 954.4 1037.5 954.6 1035.1 954.7 1032.7 954.7 1030.2 954.7 1027.7 954.7 1025.1 954.6 1022.5 954.4 1019.9 954.2 1017.3 953.9 1014.6 953.6 1011.9 953.2 1009.1 952.7 1006.3 952.2 1003.5 951.6 1000.6 951.0 997.7 950.3 994.7 949.5 991.7 948.7 988.5 947.8 985.2 946.8 981.7 945.6 977.4 944.2 973.1 942.7 969.6 941.4 966.3 940.1 963.3 938.9 960.3 937.7 957.5 936.4 954.7 935.2 952.0 933.9 949.5 932.6 946.9 931.3 944.5 930.0 942.1 928.6 939.7 927.2 937.5 925.8 935.3 924.3 933.1 922.9 931.0 921.4 929.0 919.9 927.1 918.3 925.1 916.8 923.3 915.2 921.5 913.6 919.8 912.0 918.1 910.3 916.5 908.6 915.0 906.9 913.5 905.2 912.0 903.5 910.7 901.7 909.4 900.0 908.1 898.2 907.0 896.4 905.8 894.5 904.8 892.7 903.8 890.8 902.9 889.0 902.0 887.1 901.2 885.2 900.5 883.2 899.8 881.3 899.3 879.4 898.7 877.4 898.3 875.4 897.9 873.4 897.5 871.4 897.3 869.4 897.1 867.4 897.0 865.3 896.9 863.3 896.9 861.2 897.0 859.1 897.2 857.0 897.4 854.9 897.8 852.7 898.1 850.5 898.6 848.3 899.2 845.9 899.8 843.6 900.6 841.0 901.6 837.9 902.1 836.7 902.6 835.6 903.1 834.7 903.6 833.8 904.2 833.0 904.8 832.3 905.5 831.5 906.2 830.9 907.0 830.2 907.8 829.6 908.7 829.0 909.7 828.5 910.7 828.0 911.7 827.5 912.8 827.1 914.0 826.7 915.2 826.3 916.4 826.0 917.7 825.7 919.1 825.5 920.5 825.2 922.0 825.0 923.5 824.9 925.0 824.7 926.6 824.6 928.3 824.5 930.0 824.5 931.7 824.5 933.5 824.5 935.4 824.6 937.2 824.7 939.2 824.8 941.1 825.0 943.1 825.1 945.2 825.4 947.3 825.6 949.4 825.9 951.6 826.2 953.8 826.6 956.1 827.0 958.4 827.4 960.7 827.8 963.1 828.3 965.6 828.8 968.0 829.3 970.5 829.9 973.1 830.5 975.6 831.2 978.3 831.9 980.9 832.6 983.7 833.3 986.4 834.1 989.3 834.9 992.2 835.8 995.1 836.7 998.2 837.7 1001.3 838.7 1004.6 839.8 1008.1 841.0 1012.4 842.4 1016.7 843.9 1020.2 845.1 1023.5 846.3 1026.5 847.4 1029.5 848.6 1032.4 849.7 1035.2 850.8 1037.9 851.8 1040.6 852.9 1043.2 854.0 1045.7 855.1 1048.2 856.2 1050.6 857.2 1053.0 858.3 1055.3 859.4 1057.5 860.5 1059.8 861.6 1061.9 862.7 1064.0 863.8 1066.1 864.9 1068.1 865.9 1070.0 867.0 1071.9 868.1 1073.8 869.2 1075.6 870.3 1077.3 871.4 1079.0 872.5 1080.7 873.6 1082.3 874.7 1083.8 875.7 1085.3 876.8 1086.7 877.9 1088.1 879.0 1089.4 880.1 1090.6 881.1 1091.8 882.2 1092.9 883.3 1094.0 884.3 1095.0 885.4 1096.0 886.4 1096.9 887.5 1097.7 888.5 1098.5 889.5 1099.2 890.6 1099.9 891.6M1097.5 901.1 1096.5 903.9 1095.6 906.3 1094.8 908.4 1093.9 910.4 1092.9 912.3 1092.0 914.1 1091.0 915.9 1089.9 917.6 1088.8 919.2 1087.7 920.8 1086.5 922.3 1085.3 923.7 1084.0 925.1 1082.7 926.5 1081.4 927.8 1080.0 929.1 1078.5 930.3 1077.0 931.4 1075.5 932.5 1073.9 933.6 1072.3 934.6 1070.6 935.6 1068.9 936.5 1067.2 937.3 1065.4 938.2 1063.6 938.9 1061.7 939.7 1059.8 940.3 1057.9 940.9 1055.9 941.5 1053.9 942.0 1051.8 942.5 1049.7 942.9 1047.6 943.3 1045.4 943.6 1043.3 943.9 1041.0 944.1 1038.8 944.3 1036.5 944.4 1034.1 944.5 1031.7 944.5 1029.3 944.5 1026.9 944.4 1024.4 944.3 1021.9 944.1 1019.4 943.9 1016.8 943.6 1014.2 943.2 1011.6 942.8 1008.9 942.4 1006.2 941.9 1003.4 941.3 1000.6 940.7 997.8 940.0 994.8 939.2 991.8 938.4 988.7 937.5 985.4 936.5 981.9 935.4 977.6 933.9 973.1 932.4 969.5 931.1 966.1 929.9 963.0 928.7 960.0 927.5 957.1 926.2 954.2 925.0 951.5 923.8 948.8 922.5 946.3 921.2 943.8 919.9 941.3 918.6 938.9 917.3 936.6 915.9 934.3 914.5 932.2 913.1 930.0 911.7 927.9 910.3 925.9 908.8 924.0 907.3 922.1 905.8 920.2 904.3 918.4 902.8 916.7 901.2 915.1 899.6 913.5 898.0 911.9 896.4 910.4 894.8 909.0 893.2 907.7 891.5 906.4 889.8 905.1 888.1 904.0 886.4 902.9 884.7 901.8 882.9 900.8 881.2 899.9 879.4 899.1 877.7 898.3 875.9 897.6 874.1 896.9 872.3 896.3 870.4 895.8 868.6 895.3 866.8 894.9 864.9 894.6 863.0 894.4 861.1 894.2 859.2 894.1 857.3 894.0 855.4 894.1 853.5 894.1 851.5 894.3 849.5 894.6 847.5 894.9 845.5 895.3 843.4 895.8 841.3 896.4 839.0 897.1 836.6 898.0 833.7 898.4 832.6 898.9 831.7 899.3 830.9 899.8 830.1 900.3 829.4 900.9 828.7 901.5 828.1 902.2 827.5 903.0 827.0 903.8 826.5 904.6 826.0 905.5 825.6 906.5 825.2 907.5 824.8 908.6 824.5 909.7 824.2 910.9 823.9 912.1 823.6 913.4 823.4 914.7 823.2 916.1 823.1 917.5 823.0 919.0 822.9 920.5 822.8 922.1 822.8 923.7 822.8 925.4 822.8 927.2 822.9 928.9 823.0 930.7 823.1 932.6 823.2 934.5 823.4 936.5 823.6 938.5 823.9 940.5 824.1 942.6 824.4 944.8 824.8 946.9 825.1 949.2 825.5 951.4 825.9 953.7 826.4 956.1 826.9 958.5 827.4 960.9 827.9 963.4 828.5 965.9 829.1 968.5 829.8 971.1 830.4 973.7 831.1 976.4 831.9 979.2 832.6 982.0 833.4 984.9 834.3 987.8 835.1 990.8 836.1 993.9 837.0 997.1 838.1 1000.5 839.2 1004.2 840.4 1008.7 841.9 1013.0 843.3 1016.4 844.5 1019.7 845.7 1022.7 846.8 1025.7 847.8 1028.5 848.9 1031.2 849.9 1033.9 851.0 1036.5 852.0 1039.1 853.0 1041.6 854.0 1044.0 855.0 1046.4 856.1 1048.7 857.1 1051.0 858.1 1053.2 859.1 1055.4 860.1 1057.5 861.1 1059.6 862.1 1061.6 863.1 1063.6 864.1 1065.5 865.1 1067.3 866.1 1069.2 867.1 1070.9 868.1 1072.6 869.1 1074.3 870.1 1075.9 871.1 1077.5 872.1 1079.0 873.1 1080.4 874.1 1081.8 875.1 1083.2 876.1 1084.5 877.0 1085.7 878.0 1086.9 879.0 1088.0 879.9 1089.1 880.9 1090.1 881.8 1091.1 882.8 1092.0 883.7 1092.8 884.6 1093.6 885.6 1094.3 886.5 1095.0 887.4 1095.6 888.3 1096.2 889.2 1096.6 890.1 1097.1 891.0 1097.4 891.9 1097.8 892.7 1098.0 893.6 1098.2 894.5 1098.3 895.4 1098.4 896.2 1098.3 897.1 1098.3 898.0 1098.1 898.9 1097.9 899.9 1097.5 901.1M1093.3 895.2 1092.4 897.9 1091.6 900.1 1090.8 902.0 1090.0 903.9 1089.1 905.6 1088.2 907.3 1087.3 908.9 1086.3 910.4 1085.3 911.9 1084.3 913.3 1083.2 914.7 1082.0 916.0 1080.9 917.3 1079.6 918.5 1078.4 919.7 1077.0 920.8 1075.7 921.9 1074.3 922.9 1072.8 923.9 1071.3 924.8 1069.8 925.7 1068.2 926.6 1066.6 927.4 1064.9 928.1 1063.2 928.9 1061.5 929.5 1059.7 930.2 1057.9 930.7 1056.0 931.3 1054.1 931.8 1052.2 932.2 1050.2 932.6 1048.2 933.0 1046.1 933.3 1044.1 933.5 1041.9 933.7 1039.8 933.9 1037.6 934.0 1035.3 934.1 1033.1 934.1 1030.8 934.1 1028.4 934.0 1026.1 933.9 1023.7 933.8 1021.2 933.5 1018.8 933.3 1016.2 933.0 1013.7 932.6 1011.1 932.2 1008.5 931.7 1005.8 931.2 1003.1 930.7 1000.3 930.0 997.5 929.4 994.6 928.6 991.6 927.8 988.5 926.9 985.2 925.9 981.7 924.9 977.3 923.4 972.6 921.9 968.8 920.6 965.3 919.3 962.1 918.1 958.9 916.9 955.9 915.7 953.0 914.5 950.2 913.3 947.5 912.1 944.8 910.8 942.2 909.6 939.7 908.3 937.2 907.0 934.8 905.7 932.5 904.4 930.2 903.1 928.0 901.7 925.8 900.4 923.8 899.0 921.7 897.6 919.7 896.1 917.8 894.7 916.0 893.3 914.2 891.8 912.5 890.3 910.8 888.8 909.2 887.3 907.6 885.8 906.1 884.3 904.7 882.7 903.3 881.1 902.0 879.6 900.8 878.0 899.6 876.4 898.5 874.8 897.4 873.1 896.4 871.5 895.5 869.9 894.7 868.2 893.9 866.6 893.1 864.9 892.5 863.2 891.9 861.5 891.3 859.8 890.9 858.1 890.5 856.4 890.2 854.7 889.9 852.9 889.7 851.2 889.6 849.4 889.5 847.6 889.6 845.8 889.7 844.0 889.8 842.2 890.1 840.3 890.4 838.4 890.8 836.4 891.3 834.3 891.9 832.1 892.8 829.4 893.2 828.4 893.5 827.6 893.9 826.9 894.4 826.3 894.9 825.7 895.4 825.1 896.0 824.6 896.7 824.1 897.4 823.7 898.2 823.3 899.0 822.9 899.9 822.6 900.8 822.3 901.8 822.0 902.8 821.7 903.9 821.5 905.1 821.3 906.3 821.1 907.5 821.0 908.8 820.9 910.2 820.8 911.6 820.8 913.1 820.8 914.6 820.8 916.2 820.8 917.8 820.9 919.5 821.0 921.2 821.1 923.0 821.3 924.8 821.5 926.7 821.7 928.6 821.9 930.6 822.2 932.6 822.5 934.6 822.8 936.7 823.1 938.9 823.5 941.1 823.9 943.3 824.4 945.6 824.8 947.9 825.3 950.3 825.8 952.7 826.4 955.2 827.0 957.7 827.6 960.3 828.2 962.9 828.9 965.5 829.5 968.2 830.3 971.0 831.0 973.8 831.8 976.7 832.6 979.6 833.5 982.6 834.4 985.7 835.3 988.9 836.3 992.2 837.4 995.8 838.5 999.5 839.7 1004.3 841.2 1008.7 842.7 1012.2 843.9 1015.4 844.9 1018.4 846.0 1021.4 847.0 1024.2 848.0 1026.9 849.0 1029.6 850.0 1032.2 851.0 1034.7 851.9 1037.1 852.9 1039.6 853.8 1041.9 854.8 1044.2 855.7 1046.5 856.7 1048.7 857.6 1050.8 858.6 1052.9 859.5 1055.0 860.4 1057.0 861.4 1058.9 862.3 1060.8 863.2 1062.7 864.2 1064.5 865.1 1066.2 866.0 1067.9 866.9 1069.6 867.8 1071.2 868.7 1072.7 869.6 1074.2 870.5 1075.7 871.4 1077.1 872.3 1078.4 873.2 1079.7 874.0 1080.9 874.9 1082.1 875.8 1083.3 876.6 1084.3 877.5 1085.4 878.3 1086.3 879.2 1087.2 880.0 1088.1 880.8 1088.9 881.7 1089.6 882.5 1090.3 883.3 1090.9 884.1 1091.5 884.9 1092.0 885.6 1092.5 886.4 1092.9 887.2 1093.2 888.0 1093.5 888.7 1093.7 889.5 1093.8 890.3 1093.9 891.0 1093.9 891.8 1093.9 892.6 1093.8 893.4 1093.6 894.2 1093.3 895.2M1089.4 889.5 1088.6 892.0 1087.9 893.9 1087.2 895.7 1086.4 897.4 1085.6 898.9 1084.8 900.4 1084.0 901.9 1083.1 903.2 1082.2 904.6 1081.2 905.8 1080.2 907.0 1079.1 908.2 1078.0 909.3 1076.9 910.4 1075.7 911.4 1074.4 912.4 1073.1 913.4 1071.8 914.3 1070.4 915.1 1069.0 915.9 1067.5 916.7 1066.0 917.4 1064.5 918.1 1062.9 918.8 1061.3 919.4 1059.6 920.0 1057.9 920.5 1056.1 921.0 1054.3 921.4 1052.5 921.8 1050.6 922.2 1048.7 922.5 1046.7 922.8 1044.7 923.0 1042.7 923.2 1040.7 923.3 1038.5 923.5 1036.4 923.5 1034.2 923.5 1032.0 923.5 1029.8 923.4 1027.5 923.3 1025.2 923.2 1022.8 923.0 1020.4 922.7 1018.0 922.5 1015.5 922.1 1013.0 921.8 1010.4 921.3 1007.8 920.9 1005.2 920.3 1002.4 919.8 999.7 919.1 996.9 918.5 994.0 917.7 991.0 916.9 987.8 916.1 984.6 915.1 981.0 914.0 976.5 912.6 971.5 911.0 967.5 909.7 963.9 908.5 960.4 907.3 957.2 906.1 954.0 904.9 951.0 903.7 948.1 902.5 945.2 901.3 942.4 900.1 939.7 898.9 937.1 897.7 934.5 896.5 932.0 895.2 929.6 894.0 927.2 892.7 924.9 891.4 922.7 890.1 920.5 888.8 918.3 887.5 916.3 886.1 914.3 884.8 912.3 883.4 910.4 882.1 908.6 880.7 906.8 879.3 905.1 877.9 903.5 876.5 901.9 875.0 900.4 873.6 898.9 872.2 897.5 870.7 896.2 869.2 894.9 867.8 893.7 866.3 892.6 864.8 891.5 863.3 890.5 861.8 889.5 860.3 888.7 858.8 887.8 857.2 887.1 855.7 886.4 854.2 885.8 852.6 885.2 851.1 884.8 849.5 884.4 847.9 884.0 846.4 883.7 844.8 883.5 843.2 883.4 841.5 883.3 839.9 883.4 838.3 883.4 836.6 883.6 834.9 883.8 833.2 884.2 831.4 884.6 829.5 885.1 827.5 885.9 825.0 886.2 824.1 886.5 823.5 886.9 822.9 887.3 822.3 887.7 821.9 888.2 821.4 888.8 821.0 889.4 820.6 890.1 820.3 890.9 820.0 891.7 819.7 892.5 819.5 893.4 819.2 894.4 819.1 895.4 818.9 896.5 818.8 897.7 818.6 898.9 818.6 900.1 818.5 901.4 818.5 902.8 818.5 904.2 818.5 905.7 818.6 907.2 818.7 908.8 818.8 910.4 818.9 912.1 819.1 913.8 819.3 915.6 819.5 917.5 819.7 919.4 820.0 921.3 820.3 923.3 820.6 925.3 820.9 927.4 821.3 929.6 821.7 931.7 822.1 934.0 822.6 936.3 823.1 938.6 823.6 941.0 824.1 943.4 824.7 945.9 825.2 948.4 825.9 951.0 826.5 953.6 827.2 956.3 827.8 959.0 828.6 961.8 829.3 964.6 830.1 967.5 830.9 970.5 831.7 973.5 832.6 976.6 833.5 979.9 834.5 983.2 835.5 986.7 836.5 990.3 837.7 994.3 838.9 999.4 840.5 1003.8 841.9 1007.4 843.1 1010.6 844.1 1013.7 845.2 1016.7 846.1 1019.5 847.1 1022.2 848.1 1024.9 849.0 1027.5 849.9 1030.0 850.8 1032.5 851.7 1034.9 852.6 1037.2 853.5 1039.5 854.4 1041.8 855.3 1044.0 856.2 1046.1 857.0 1048.2 857.9 1050.3 858.8 1052.3 859.6 1054.2 860.5 1056.1 861.3 1058.0 862.2 1059.8 863.0 1061.5 863.8 1063.2 864.7 1064.9 865.5 1066.5 866.3 1068.1 867.1 1069.6 867.9 1071.0 868.7 1072.4 869.5 1073.8 870.3 1075.1 871.1 1076.3 871.9 1077.5 872.6 1078.7 873.4 1079.8 874.2 1080.8 874.9 1081.8 875.7 1082.7 876.4 1083.6 877.1 1084.4 877.8 1085.1 878.5 1085.9 879.2 1086.5 879.9 1087.1 880.6 1087.6 881.3 1088.1 882.0 1088.5 882.6 1088.9 883.3 1089.2 884.0 1089.5 884.6 1089.6 885.3 1089.8 885.9 1089.8 886.6 1089.8 887.2 1089.8 887.9 1089.7 888.6 1089.4 889.5M1085.8 883.8 1085.1 886.1 1084.5 887.8 1083.9 889.4 1083.2 890.9 1082.5 892.3 1081.8 893.6 1081.0 894.8 1080.2 896.0 1079.4 897.2 1078.5 898.3 1077.5 899.3 1076.5 900.3 1075.5 901.3 1074.4 902.2 1073.3 903.1 1072.1 903.9 1070.9 904.7 1069.6 905.5 1068.3 906.2 1067.0 906.9 1065.6 907.6 1064.1 908.2 1062.6 908.7 1061.1 909.3 1059.5 909.8 1057.9 910.2 1056.2 910.7 1054.5 911.0 1052.8 911.4 1051.0 911.7 1049.2 912.0 1047.3 912.2 1045.4 912.4 1043.4 912.5 1041.5 912.7 1039.4 912.7 1037.4 912.8 1035.3 912.8 1033.1 912.7 1030.9 912.7 1028.7 912.5 1026.4 912.4 1024.1 912.2 1021.8 912.0 1019.4 911.7 1017.0 911.4 1014.5 911.0 1012.0 910.6 1009.5 910.2 1006.9 909.7 1004.2 909.1 1001.5 908.6 998.7 908.0 995.9 907.3 993.0 906.5 989.9 905.8 986.8 904.9 983.4 904.0 979.8 902.9 975.1 901.5 969.7 899.8 965.5 898.5 961.6 897.3 958.0 896.1 954.6 894.9 951.3 893.7 948.1 892.6 945.0 891.4 942.0 890.3 939.1 889.1 936.2 887.9 933.5 886.8 930.8 885.6 928.1 884.4 925.6 883.2 923.1 882.0 920.6 880.8 918.3 879.6 915.9 878.3 913.7 877.1 911.5 875.8 909.4 874.6 907.3 873.3 905.3 872.0 903.4 870.8 901.5 869.5 899.7 868.2 897.9 866.9 896.2 865.6 894.6 864.2 893.0 862.9 891.5 861.6 890.1 860.2 888.7 858.9 887.4 857.6 886.2 856.2 885.0 854.8 883.9 853.5 882.8 852.1 881.8 850.7 880.9 849.4 880.1 848.0 879.3 846.6 878.6 845.2 877.9 843.8 877.4 842.4 876.9 841.0 876.4 839.6 876.1 838.2 875.8 836.7 875.5 835.3 875.4 833.9 875.3 832.4 875.3 830.9 875.4 829.4 875.5 827.9 875.8 826.3 876.1 824.6 876.5 822.8 877.2 820.5 877.4 819.8 877.7 819.3 878.0 818.8 878.4 818.4 878.8 818.0 879.3 817.7 879.9 817.4 880.5 817.1 881.1 816.9 881.9 816.7 882.6 816.5 883.5 816.3 884.4 816.2 885.4 816.1 886.4 816.0 887.5 816.0 888.6 815.9 889.8 815.9 891.1 816.0 892.4 816.0 893.8 816.1 895.2 816.2 896.7 816.3 898.2 816.5 899.8 816.7 901.5 816.9 903.2 817.1 905.0 817.3 906.8 817.6 908.7 817.9 910.6 818.2 912.6 818.6 914.6 819.0 916.7 819.4 918.8 819.8 921.0 820.2 923.3 820.7 925.6 821.2 927.9 821.7 930.3 822.3 932.8 822.8 935.3 823.4 937.9 824.0 940.5 824.7 943.1 825.3 945.8 826.0 948.6 826.8 951.4 827.5 954.3 828.3 957.3 829.1 960.3 829.9 963.4 830.8 966.6 831.7 969.8 832.6 973.2 833.6 976.7 834.6 980.3 835.6 984.2 836.8 988.4 838.1 993.9 839.7 998.5 841.1 1002.2 842.2 1005.5 843.3 1008.6 844.3 1011.6 845.2 1014.4 846.1 1017.2 847.0 1019.9 847.9 1022.5 848.8 1025.1 849.6 1027.6 850.5 1030.0 851.3 1032.4 852.2 1034.7 853.0 1037.0 853.8 1039.2 854.6 1041.4 855.4 1043.5 856.2 1045.5 857.0 1047.6 857.8 1049.5 858.6 1051.5 859.4 1053.3 860.2 1055.2 860.9 1056.9 861.7 1058.7 862.4 1060.3 863.2 1062.0 863.9 1063.5 864.7 1065.1 865.4 1066.5 866.1 1068.0 866.8 1069.3 867.5 1070.7 868.2 1071.9 868.9 1073.1 869.6 1074.3 870.2 1075.4 870.9 1076.5 871.6 1077.5 872.2 1078.4 872.8 1079.3 873.5 1080.2 874.1 1081.0 874.7 1081.7 875.3 1082.4 875.9 1083.0 876.5 1083.6 877.1 1084.1 877.6 1084.6 878.2 1085.0 878.7 1085.3 879.3 1085.6 879.8 1085.8 880.4 1086.0 880.9 1086.1 881.4 1086.1 882.0 1086.1 882.5 1086.0 883.1 1085.8 883.8M1073.4 893.1 1072.3 893.9 1071.3 894.6 1070.2 895.3 1069.0 896.0 1067.8 896.6 1066.5 897.2 1065.2 897.7 1063.9 898.2 1062.5 898.7 1061.0 899.2 1059.5 899.6 1058.0 900.0 1056.4 900.3 1054.8 900.6 1053.1 900.9 1051.4 901.1 1049.7 901.3 1047.9 901.5 1046.0 901.6 1044.2 901.7 1042.2 901.8 1040.3 901.9 1038.3 901.9 1036.2 901.8 1034.1 901.8 1032.0 901.7 1029.8 901.5 1027.6 901.3 1025.3 901.1 1023.0 900.9 1020.7 900.6 1018.3 900.3 1015.9 900.0 1013.4 899.6 1010.9 899.1 1008.3 898.7 1005.7 898.2 1003.0 897.6 1000.2 897.1 997.4 896.4 994.5 895.8 991.5 895.0 988.4 894.2 985.2 893.4 981.7 892.5 978.0 891.4 973.1 890.0 967.2 888.3 962.7 887.0 958.6 885.8 954.8 884.6 951.1 883.4 947.6 882.3 944.2 881.1 940.9 880.0 937.7 878.9 934.6 877.7 931.6 876.6 928.7 875.5 925.8 874.4 923.0 873.2 920.3 872.1 917.7 871.0 915.1 869.8 912.6 868.7 910.1 867.5 907.7 866.4 905.4 865.2 903.1 864.1 900.9 862.9 898.8 861.7 896.7 860.5 894.7 859.4 892.7 858.2 890.8 857.0 889.0 855.8 887.3 854.6 885.6 853.4 883.9 852.2 882.4 851.0 880.9 849.8 879.4 848.6 878.1 847.4 876.8 846.1 875.6 844.9 874.4 843.7 873.3 842.5 872.3 841.3 871.3 840.1 870.4 838.8 869.6 837.6 868.9 836.4 868.2 835.2 867.6 833.9 867.0 832.7 866.6 831.5 866.2 830.2 865.8 829.0 865.6 827.7 865.4 826.4 865.3 825.1 865.3 823.8 865.4 822.5 865.5 821.1 865.7 819.7 866.1 818.1 866.6 816.1 866.8 815.6 867.0 815.2 867.3 814.8 867.7 814.5 868.1 814.3 868.5 814.0 869.0 813.8 869.6 813.6 870.3 813.5 871.0 813.4 871.8 813.3 872.6 813.2 873.5 813.2 874.5 813.2 875.5 813.2 876.6 813.2 877.8 813.2 879.0 813.3 880.3 813.4 881.6 813.6 883.0 813.7 884.5 813.9 886.0 814.1 887.6 814.3 889.2 814.5 890.9 814.8 892.7 815.1 894.5 815.4 896.4 815.7 898.3 816.1 900.3 816.5 902.4 816.9 904.5 817.3 906.6 817.7 908.9 818.2 911.1 818.7 913.5 819.2 915.9 819.8 918.3 820.3 920.8 820.9 923.3 821.5 926.0 822.1 928.6 822.8 931.3 823.4 934.1 824.1 937.0 824.9 939.9 825.6 942.8 826.4 945.9 827.2 949.0 828.0 952.1 828.8 955.4 829.7 958.7 830.6 962.2 831.6 965.7 832.6 969.4 833.6 973.3 834.7 977.4 835.8 981.9 837.1 987.8 838.8 992.7 840.2 996.5 841.3 999.9 842.3 1003.1 843.3 1006.2 844.2 1009.1 845.1 1011.9 845.9 1014.7 846.8 1017.4 847.6 1020.0 848.4 1022.5 849.2 1025.0 850.0 1027.4 850.8 1029.8 851.6 1032.1 852.3 1034.4 853.1 1036.6 853.8 1038.7 854.6 1040.8 855.3 1042.9 856.0 1044.9 856.7 1046.9 857.5 1048.8 858.2 1050.6 858.8 1052.5 859.5 1054.2 860.2 1055.9 860.9 1057.6 861.5 1059.2 862.2 1060.8 862.8 1062.3 863.5 1063.7 864.1 1065.1 864.7 1066.5 865.3 1067.8 865.9 1069.1 866.5 1070.3 867.1 1071.4 867.7 1072.5 868.2 1073.6 868.8M1073.4 883.6 1072.6 884.2 1071.6 884.8 1070.7 885.4 1069.7 886.0 1068.6 886.5 1067.5 887.0 1066.3 887.5 1065.1 887.9 1063.8 888.3 1062.5 888.7 1061.1 889.0 1059.7 889.3 1058.3 889.6 1056.8 889.9 1055.2 890.1 1053.6 890.3 1052.0 890.4 1050.3 890.6 1048.5 890.7 1046.8 890.8 1044.9 890.8 1043.0 890.8 1041.1 890.8 1039.2 890.7 1037.1 890.7 1035.1 890.6 1033.0 890.4 1030.8 890.3 1028.7 890.1 1026.4 889.8 1024.1 889.6 1021.8 889.3 1019.4 889.0 1017.0 888.6 1014.5 888.2 1012.0 887.8 1009.4 887.3 1006.8 886.9 1004.1 886.3 1001.4 885.8 998.6 885.2 995.7 884.5 992.7 883.9 989.6 883.1 986.4 882.4 983.1 881.5 979.5 880.6 975.6 879.6 970.4 878.2 963.9 876.5 959.1 875.1 954.7 873.9 950.5 872.7 946.6 871.6 942.9 870.4 939.2 869.3 935.7 868.2 932.3 867.1 929.0 866.1 925.8 865.0 922.7 863.9 919.6 862.9 916.6 861.8 913.7 860.7 910.9 859.7 908.1 858.6 905.4 857.5 902.8 856.5 900.2 855.4 897.7 854.3 895.3 853.3 892.9 852.2 890.6 851.1 888.4 850.1 886.2 849.0 884.1 847.9 882.1 846.9 880.1 845.8 878.2 844.7 876.4 843.7 874.6 842.6 872.9 841.5 871.3 840.5 869.7 839.4 868.2 838.3 866.8 837.3 865.4 836.2 864.1 835.2 862.9 834.1 861.8 833.1 860.7 832.0 859.7 830.9 858.7 829.9 857.9 828.9 857.1 827.8 856.4 826.8 855.7 825.7 855.1 824.7 854.6 823.6 854.2 822.6 853.9 821.5 853.6 820.4 853.4 819.4 853.3 818.3 853.2 817.2 853.3 816.0 853.4 814.8 853.7 813.5 854.1 811.8 854.2 811.4 854.4 811.2 854.6 810.9 855.0 810.8 855.3 810.6 855.8 810.5 856.3 810.4 856.9 810.3 857.5 810.2 858.2 810.2 859.0 810.2 859.9 810.2 860.8 810.3 861.8 810.3 862.8 810.4 864.0 810.5 865.1 810.7 866.4 810.8 867.7 811.0 869.1 811.2 870.5 811.4 872.0 811.6 873.6 811.9 875.3 812.2 877.0 812.5 878.7 812.8 880.6 813.2 882.5 813.5 884.4 813.9 886.4 814.3 888.5 814.7 890.6 815.2 892.8 815.7 895.1 816.2 897.4 816.7 899.8 817.2 902.2 817.8 904.7 818.3 907.3 818.9 909.9 819.5 912.6 820.2 915.3 820.8 918.1 821.5 921.0 822.2 923.9 822.9 926.9 823.7 930.0 824.4 933.1 825.2 936.3 826.0 939.6 826.9 943.0 827.7 946.4 828.6 950.0 829.5 953.6 830.5 957.4 831.5 961.4 832.5 965.5 833.6 969.9 834.8 974.8 836.1 981.3 837.9 986.4 839.3 990.4 840.3 993.9 841.3 997.3 842.2 1000.4 843.1 1003.5 843.9 1006.4 844.8 1009.3 845.6 1012.0 846.4 1014.7 847.1 1017.3 847.9 1019.9 848.6 1022.4 849.4 1024.8 850.1 1027.2 850.8 1029.5 851.5 1031.8 852.2 1034.0 852.9 1036.2 853.5 1038.3 854.2 1040.4 854.8 1042.4 855.5 1044.4 856.1 1046.3 856.7 1048.2 857.3 1050.0 857.9 1051.8 858.5 1053.5 859.1 1055.1 859.7 1056.7 860.3 1058.3 860.8 1059.8 861.4 1061.3 861.9 1062.7 862.4 1064.0 863.0 1065.3 863.5 1066.6 864.0 1067.8 864.4 1068.9 864.9 1070.0 865.4 1071.0 865.8 1072.0 866.3 1072.9 866.7 1073.8 867.1M1073.5 874.4 1072.8 874.9 1072.0 875.4 1071.2 875.9 1070.4 876.3 1069.4 876.7 1068.5 877.1 1067.4 877.5 1066.3 877.8 1065.2 878.1 1064.0 878.4 1062.8 878.6 1061.5 878.8 1060.1 879.0 1058.7 879.2 1057.3 879.4 1055.8 879.5 1054.3 879.6 1052.7 879.6 1051.0 879.7 1049.3 879.7 1047.6 879.7 1045.8 879.7 1043.9 879.6 1042.0 879.5 1040.1 879.4 1038.1 879.3 1036.1 879.1 1034.0 878.9 1031.8 878.7 1029.7 878.5 1027.4 878.2 1025.2 877.9 1022.8 877.6 1020.4 877.3 1018.0 876.9 1015.5 876.5 1013.0 876.1 1010.4 875.6 1007.7 875.1 1005.0 874.6 1002.3 874.1 999.4 873.5 996.5 872.9 993.5 872.3 990.4 871.6 987.2 870.9 983.9 870.1 980.3 869.3 976.6 868.4 972.4 867.4 966.9 866.0 959.8 864.2 954.5 862.9 949.7 861.6 945.3 860.5 941.1 859.4 937.0 858.3 933.1 857.2 929.3 856.2 925.7 855.1 922.1 854.1 918.7 853.1 915.3 852.1 912.0 851.1 908.8 850.1 905.7 849.1 902.6 848.1 899.7 847.1 896.7 846.1 893.9 845.2 891.2 844.2 888.5 843.2 885.8 842.3 883.3 841.3 880.8 840.4 878.4 839.4 876.0 838.5 873.8 837.5 871.6 836.6 869.4 835.6 867.3 834.7 865.3 833.8 863.4 832.9 861.6 831.9 859.8 831.0 858.0 830.1 856.4 829.2 854.8 828.3 853.3 827.4 851.9 826.5 850.5 825.6 849.3 824.8 848.0 823.9 846.9 823.0 845.8 822.2M845.2 807.4 846.1 807.6 847.1 807.7 848.2 807.9 849.4 808.1 850.6 808.3 851.9 808.5 853.3 808.7 854.7 809.0 856.2 809.3 857.8 809.6 859.4 809.9 861.1 810.2 862.9 810.6 864.8 811.0 866.7 811.4 868.7 811.8 870.7 812.2 872.8 812.7 875.0 813.1 877.3 813.6 879.6 814.1 882.0 814.7 884.4 815.2 886.9 815.8 889.5 816.4 892.1 817.0 894.9 817.6 897.6 818.2 900.5 818.9 903.4 819.6 906.3 820.3 909.4 821.0 912.5 821.7 915.7 822.5 918.9 823.3 922.3 824.1 925.7 824.9 929.2 825.7 932.8 826.6 936.5 827.5 940.3 828.5 944.2 829.4 948.3 830.4 952.5 831.5 957.0 832.6 961.8 833.8 967.1 835.1 974.2 836.8 979.7 838.2 983.9 839.3 987.6 840.2 991.1 841.1 994.4 841.9 997.6 842.7 1000.7 843.5 1003.6 844.3 1006.5 845.0 1009.3 845.7 1012.1 846.5 1014.7 847.1 1017.3 847.8 1019.9 848.5 1022.3 849.2 1024.8 849.8 1027.1 850.4 1029.4 851.0 1031.7 851.7 1033.9 852.3 1036.1 852.8 1038.2 853.4 1040.2 854.0 1042.2 854.5 1044.1 855.1 1046.0 855.6 1047.9 856.1 1049.7 856.7 1051.4 857.2 1053.1 857.6 1054.7 858.1 1056.3 858.6 1057.8 859.1 1059.3 859.5 1060.7 859.9 1062.0 860.4 1063.3 860.8 1064.6 861.2 1065.8 861.6 1066.9 861.9 1068.0 862.3 1069.0 862.7 1070.0 863.0 1070.9 863.3 1071.8 863.7 1072.6 864.0 1073.4 864.3M1073.7 865.6 1073.2 866.0 1072.6 866.3 1071.9 866.6 1071.2 866.9 1070.4 867.2 1069.5 867.4 1068.6 867.7 1067.7 867.9 1066.7 868.0 1065.6 868.2 1064.5 868.3 1063.3 868.4 1062.1 868.5 1060.8 868.6 1059.5 868.6 1058.1 868.7 1056.6 868.7 1055.1 868.7 1053.5 868.6 1051.9 868.6 1050.3 868.5 1048.5 868.4 1046.8 868.3 1044.9 868.1 1043.1 868.0 1041.1 867.8 1039.1 867.6 1037.1 867.3 1035.0 867.1 1032.9 866.8 1030.7 866.5 1028.4 866.2 1026.1 865.9 1023.8 865.6 1021.4 865.2 1018.9 864.8 1016.4 864.4 1013.8 863.9 1011.2 863.5 1008.5 863.0 1005.7 862.5 1002.9 862.0 1000.0 861.4 997.0 860.8 994.0 860.2 990.8 859.6 987.6 858.9 984.2 858.2 980.7 857.4 977.0 856.6 973.0 855.7 968.6 854.7 962.6 853.4 954.7 851.6 948.9 850.3 943.7 849.1 938.9 847.9 934.3 846.8 929.9 845.8 925.7 844.8 921.6 843.8 917.6 842.8 913.8 841.8 910.1 840.9 906.4 839.9 902.9 839.0 899.4 838.1 896.0 837.2 892.7 836.3 889.5 835.4 886.4 834.5 883.3 833.7 880.3 832.8 877.4 832.0 874.6 831.1 871.8 830.3 869.1 829.4 866.5 828.6 864.0 827.8 861.5 827.0 859.1 826.2 856.8 825.4 854.5 824.6 852.3 823.8 850.2 823.1 848.2 822.3 846.2 821.6M845.2 808.6 847.0 809.0 849.0 809.4 851.0 809.8 853.1 810.3 855.3 810.8 857.5 811.3 859.9 811.8 862.2 812.3 864.7 812.8 867.2 813.4 869.8 814.0 872.5 814.6 875.2 815.2 878.1 815.8 880.9 816.4 883.9 817.1 886.9 817.8 890.0 818.5 893.2 819.2 896.5 819.9 899.8 820.7 903.2 821.4 906.7 822.2 910.3 823.0 913.9 823.8 917.7 824.7 921.6 825.6 925.5 826.5 929.6 827.4 933.9 828.3 938.3 829.3 942.9 830.4 947.7 831.5 952.9 832.7 958.7 834.0 966.6 835.8 972.6 837.1 977.0 838.1 981.0 839.0 984.7 839.9 988.2 840.7 991.5 841.4 994.8 842.2 997.9 842.9 1000.9 843.6 1003.9 844.3 1006.8 844.9 1009.6 845.6 1012.3 846.2 1015.0 846.8 1017.6 847.4 1020.1 848.0 1022.6 848.6 1025.0 849.1 1027.4 849.7 1029.7 850.2 1032.0 850.7 1034.2 851.2 1036.3 851.7 1038.4 852.2 1040.4 852.7 1042.4 853.2 1044.3 853.6 1046.2 854.1 1048.0 854.5 1049.8 854.9 1051.5 855.3 1053.2 855.7 1054.8 856.1 1056.3 856.4 1057.8 856.8 1059.2 857.1 1060.6 857.5 1061.9 857.8 1063.2 858.1 1064.4 858.4 1065.5 858.7 1066.6 858.9 1067.7 859.2 1068.6 859.4 1069.5 859.7 1070.4 859.9 1071.2 860.1 1071.9 860.3 1072.6 860.5 1073.2 860.6 1073.8 860.8M1073.7 857.5 1073.2 857.6 1072.7 857.8 1072.1 857.9 1071.5 858.0 1070.8 858.1 1070.0 858.1 1069.2 858.2 1068.3 858.2 1067.4 858.2 1066.4 858.2 1065.3 858.1 1064.2 858.1 1063.0 858.0 1061.7 858.0 1060.4 857.9 1059.1 857.8 1057.7 857.6 1056.2 857.5 1054.7 857.3 1053.1 857.2 1051.4 857.0 1049.7 856.8 1047.9 856.5 1046.1 856.3 1044.2 856.1 1042.3 855.8 1040.3 855.5 1038.2 855.2 1036.1 854.9 1034.0 854.6 1031.7 854.2 1029.5 853.8 1027.1 853.5 1024.7 853.1 1022.3 852.7 1019.8 852.2 1017.2 851.8 1014.5 851.3 1011.8 850.9 1009.1 850.4 1006.2 849.9 1003.3 849.3 1000.4 848.8 997.3 848.2 994.2 847.6 991.0 847.0 987.6 846.4 984.2 845.7 980.6 845.0 976.8 844.3 972.9 843.5 968.6 842.6 963.8 841.7 957.3 840.3 948.5 838.6 942.2 837.3 936.5 836.1 931.2 835.0 926.2 834.0 921.4 833.0 916.8 832.1 912.4 831.1 908.1 830.2 903.9 829.3 899.9 828.5 895.9 827.6 892.1 826.8 888.3 826.0 884.6 825.2 881.1 824.4 877.6 823.6 874.2 822.8 870.9 822.1 867.6 821.3 864.5 820.6 861.4 819.9 858.4 819.2 855.5 818.5 852.6 817.8 849.8 817.1 847.2 816.5M845.5 811.3 848.1 811.9 850.8 812.4 853.6 813.0 856.4 813.6 859.4 814.3 862.4 814.9 865.5 815.5 868.7 816.2 871.9 816.9 875.2 817.6 878.7 818.3 882.2 819.0 885.7 819.8 889.4 820.5 893.2 821.3 897.0 822.1 901.0 822.9 905.0 823.7 909.2 824.6 913.5 825.5 918.0 826.4 922.6 827.3 927.3 828.3 932.3 829.3 937.6 830.4 943.3 831.5 949.7 832.8 958.4 834.6 965.0 835.9 969.8 836.9 974.0 837.7 978.0 838.5 981.7 839.3 985.3 840.0 988.8 840.7 992.1 841.4 995.3 842.0 998.4 842.6 1001.5 843.2 1004.5 843.8 1007.4 844.4 1010.2 844.9 1012.9 845.5 1015.6 846.0 1018.2 846.5 1020.8 847.0 1023.3 847.5 1025.8 847.9 1028.1 848.4 1030.5 848.8 1032.7 849.3 1034.9 849.7 1037.1 850.1 1039.2 850.5 1041.2 850.9 1043.2 851.2 1045.1 851.6 1047.0 851.9 1048.8 852.3 1050.5 852.6 1052.2 852.9 1053.9 853.2 1055.4 853.4 1057.0 853.7 1058.4 854.0 1059.8 854.2 1061.1 854.4 1062.4 854.6 1063.6 854.8 1064.8 855.0 1065.9 855.2 1066.9 855.3 1067.9 855.5 1068.8 855.6 1069.7 855.7 1070.5 855.8 1071.2 855.9 1071.9 856.0 1072.5 856.1 1073.0 856.1 1073.5 856.1 1073.9 856.2"/><clipPath id="cb"><path d="M1140.0 898.0 1138.6 897.6 1137.3 897.2 1135.9 896.8 1134.6 896.3 1133.2 895.9 1131.9 895.5 1130.5 895.0 1129.2 894.6 1127.8 894.2 1126.5 893.7 1125.1 893.3 1123.8 892.8 1122.5 892.4 1121.1 891.9 1119.8 891.4 1118.5 891.0 1117.1 890.5 1115.8 890.0 1114.5 889.6 1113.1 889.1 1111.8 888.6 1110.5 888.1 1109.2 887.6 1107.8 887.1 1106.5 886.7 1105.2 886.2 1103.9 885.7 1102.6 885.2 1101.2 884.7 1099.9 884.2 1098.6 883.7 1097.3 883.2 1096.0 882.7 1094.6 882.2 1093.3 881.7 1092.0 881.2 1090.7 880.7 1089.4 880.1 1088.1 879.6 1086.8 879.1 1085.5 878.6 1084.1 878.1 1082.8 877.6 1081.5 877.1 1080.2 876.6 1078.9 876.1 1077.6 875.6 1076.3 875.0 1075.0 874.5 1073.6 874.0 1072.3 873.5 1071.0 873.0 1069.7 872.5 1068.4 872.0 1067.1 871.5 1065.8 871.0 1064.4 870.5 1063.1 870.0 1061.8 869.5 1060.5 869.0 1059.2 868.5 1057.9 868.0 1056.5 867.5 1055.2 867.0 1053.9 866.5 1052.6 866.0 1051.3 865.5 1049.9 865.0 1048.6 864.6 1047.3 864.1 1046.0 863.6 1044.6 863.1 1043.3 862.7 1042.0 862.2 1040.6 861.7 1039.3 861.3 1038.0 860.8 1036.6 860.3 1035.3 859.9 1034.0 859.4 1032.6 859.0 1031.3 858.6 1029.9 858.1 1028.6 857.7 1027.2 857.2 1025.9 856.8 1024.5 856.4 1023.2 856.0 1021.8 855.6 1020.5 855.2 1019.1 854.7 1017.7 854.3 1016.4 854.0 1015.0 853.6 1013.6 853.2 1012.3 852.8 1010.9 852.4 1009.5 852.0 1008.1 851.7 1006.7 851.3 1005.4 851.0 1004.0 850.6 1002.6 850.2 1001.2 849.9 999.8 849.5 998.4 849.2 997.1 848.8 995.7 848.5 994.3 848.1 992.9 847.8 991.5 847.4 990.1 847.0 988.8 846.7 987.4 846.3 986.0 845.9 984.6 845.5 983.3 845.2 981.9 844.8 980.5 844.4 979.2 844.0 977.8 843.6 976.5 843.2 975.1 842.7 973.8 842.3 972.4 841.9 971.1 841.4 969.7 841.0 968.4 840.5 967.1 840.0 965.8 839.5 964.4 839.0 963.1 838.5 961.8 838.0 960.5 837.4 959.3 836.9 958.0 836.3 956.7 835.7 955.4 835.1 954.2 834.5 952.9 833.9 951.7 833.2 950.4 832.6 949.2 831.9 948.0 831.2 946.8 830.5 945.6 829.7 944.4 829.0 943.2 828.2 942.0 827.4 940.9 826.6 939.7 825.7 938.6 824.9 937.5 824.0 936.4 823.1 935.3 822.2 934.3 821.3 933.3 820.3 932.2 819.3 931.2 818.3 930.3 817.3 929.3 816.3 928.4 815.2 927.5 814.1 926.6 813.1 925.7 812.0 924.8 810.8 924.0 809.7 923.2 808.6 922.4 807.4 921.6 806.2 920.8 805.0 920.0 803.8 919.3 802.6 918.5 801.4 917.8 800.2 917.1 798.9 916.4 797.7 915.7 796.4 915.0 795.1 914.3 793.9 913.7 792.6 913.0 791.3 912.4 790.0 911.9 788.7 911.3 787.3 910.8 786.0 910.3 784.7 909.8 783.3 909.4 782.0 909.0 780.6 908.7 779.3 908.4 777.9 908.2 776.5 908.0 775.2 907.9 773.8 907.8 772.4 907.8 771.0 907.8 769.6 907.9 768.2 908.0 766.8 908.1 765.4 908.3 764.0 908.5 762.5 908.8 761.1 909.1 759.7 909.4 758.3 909.7 756.9 910.0 755.5 910.4 754.1 910.8 752.8 911.2 751.4 911.6 750.0 912.0 748.6 912.4 747.3 912.9 745.9 913.3 744.6 913.8 743.2 914.2 741.9 914.7 740.6 915.2 739.2 915.7 737.9 916.2 736.6 916.7 735.3 917.3 734.0 917.8 732.7 918.4 731.4 919.0 730.1 919.6 728.9 920.2 727.6 920.8 726.3 921.4 725.1 922.1 723.8 922.8 722.6 923.4 721.3 924.1 720.1 924.8 718.9 925.5 717.7 926.3 716.4 927.0 715.2 927.8 714.0 928.5 712.9 929.3 711.7 930.1 710.5 930.9 709.3 931.8 708.2 932.6 707.1 933.5 705.9 934.3 704.8 935.2 703.7 936.1 702.6 937.0 701.5 937.9 700.4 938.9 699.4 939.8 698.3 940.8 697.3 941.8 696.2 942.8 695.2 943.8 694.2 944.8 693.2 945.8 692.3 946.9 691.3 947.9 690.4 949.0 689.4 950.1 688.5 951.2 687.6 952.3 686.7 953.4 685.8 954.5 685.0 955.7 684.1 956.8 683.3 958.0 682.5 959.1 681.7 960.3 680.9 961.5 680.2 962.7 679.4 963.9 678.7 965.2 678.0 966.4 677.3 967.6 676.7 968.9 676.0 970.2 675.4 971.4 674.7 972.7 674.1 974.0 673.6 975.3 673.0 976.6 672.4 977.9 671.9 979.2 671.4 980.5 670.9 981.8 670.4 983.2 669.9 984.5 669.4 985.9 669.0 987.2 668.5 988.6 668.1 989.9 667.7 991.3 667.3 992.6 666.9 994.0 666.5 995.4 666.2 996.7 665.8 998.1 665.5 999.5 665.1 1000.9 664.8 1002.3 664.5 1003.7 664.2 1005.0 663.9 1006.4 663.6 1007.8 663.3 1009.2 663.1 1010.6 662.8 1012.0 662.6 1013.4 662.3 1014.8 662.1 1016.2 661.9 1017.6 661.7 1019.0 661.5 1020.4 661.4 1021.8 661.2 1023.2 661.1 1024.6 661.0 1026.0 660.8 1027.4 660.7 1028.8 660.7 1030.2 660.6 1031.7 660.5 1033.1 660.5 1034.5 660.5 1035.9 660.5 1037.3 660.5 1038.7 660.5 1040.1 660.5 1041.5 660.6 1043.0 660.7 1044.4 660.7 1045.8 660.8 1047.2 660.9 1048.6 661.1 1050.0 661.2 1051.4 661.4 1052.8 661.5 1054.2 661.7 1055.6 661.9 1057.0 662.1 1058.4 662.4 1059.8 662.6 1061.2 662.8 1062.6 663.1 1064.0 663.4 1065.4 663.7 1066.7 664.0 1068.1 664.3 1069.5 664.6 1070.8 665.0 1072.2 665.3 1073.6 665.7 1074.9 666.1 1076.3 666.5 1077.6 666.9 1079.0 667.3 1080.3 667.7 1081.7 668.1 1083.0 668.6 1084.4 669.0 1085.7 669.5 1087.1 669.9 1088.4 670.4 1089.7 670.9 1091.1 671.4 1092.4 671.9 1093.7 672.4 1095.0 672.9 1096.3 673.4 1097.7 673.9 1099.0 674.5 1100.3 675.0 1101.6 675.5 1102.9 676.1 1104.2 676.6 1105.5 677.2 1106.8 677.7 1108.1 678.3 1109.4 678.8 1110.7 679.4 1112.0 680.0 1113.3 680.5 1114.6 681.1 1115.9 681.7 1117.2 682.3 1118.5 682.8 1119.8 683.4 1121.0 684.0 1122.3 684.6 1123.6 685.1 1124.9 685.7 1126.2 686.3 1127.4 686.9 1128.7 687.4 1130.0 688.0L1140 898Z"/></clipPath><path clip-path="url(#cb)" fill="none" stroke="#2898d0" stroke-width="0.8" stroke-linejoin="round" d="M1094.6 882.2 1090.7 880.7 1086.8 879.1 1082.8 877.6 1078.9 876.1 1075.0 874.5 1071.0 873.0 1067.1 871.5 1063.1 870.0 1059.2 868.5 1055.2 867.0 1051.3 865.5 1047.3 864.1 1043.3 862.7 1039.3 861.3 1035.3 859.9 1031.3 858.6 1027.2 857.2 1023.2 856.0 1019.1 854.7 1015.0 853.6 1010.9 852.4 1006.7 851.3 1002.6 850.2 998.4 849.2 994.3 848.1 990.1 847.0 986.0 845.9 981.9 844.8 977.8 843.6 973.8 842.3 969.7 841.0 965.8 839.5 961.8 838.0 958.0 836.3 954.2 834.5 950.4 832.6 946.8 830.5 943.2 828.2 939.7 825.7 936.4 823.1 933.3 820.3 930.3 817.3 927.5 814.1 924.8 810.8 922.4 807.4 920.0 803.8 917.8 800.2 915.7 796.4 913.7 792.6 911.9 788.7 910.3 784.7 909.0 780.6 908.2 776.5 907.8 772.4 907.9 768.2 908.3 764.0 909.1 759.7 910.0 755.5 911.2 751.4 912.4 747.3 913.8 743.2 915.2 739.2 916.7 735.3 918.4 731.4 920.2 727.6 922.1 723.8 924.1 720.1 926.3 716.4 928.5 712.9 930.9 709.3 933.5 705.9 936.1 702.6 938.9 699.4 941.8 696.2 944.8 693.2 947.9 690.4 951.2 687.6 954.5 685.0 958.0 682.5 961.5 680.2 965.2 678.0 968.9 676.0 972.7 674.1 976.6 672.4 980.5 670.9 984.5 669.4 988.6 668.1 992.6 666.9 996.7 665.8 1000.9 664.8 1005.0 663.9 1009.2 663.1 1013.4 662.3 1017.6 661.7 1021.8 661.2 1026.0 660.8 1030.2 660.6 1034.5 660.5 1038.7 660.5 1043.0 660.7 1047.2 660.9 1051.4 661.4 1055.6 661.9 1059.8 662.6 1064.0 663.4 1068.1 664.3 1072.2 665.3 1076.3 666.5 1080.3 667.7 1084.4 669.0 1088.4 670.4 1092.4 671.9M1095.0 882.2 1091.1 880.7 1087.2 879.2 1083.3 877.7 1079.4 876.2 1075.6 874.7 1071.7 873.2 1067.8 871.7 1063.9 870.2 1060.0 868.7 1056.1 867.3 1052.2 865.8 1048.2 864.4 1044.3 863.0 1040.4 861.6 1036.4 860.3 1032.4 859.0 1028.4 857.7 1024.4 856.5 1020.4 855.3 1016.4 854.1 1012.3 853.0 1008.2 851.9 1004.1 850.9 1000.0 849.8 995.9 848.8 991.8 847.7 987.8 846.6 983.7 845.4 979.7 844.2 975.7 843.0 971.7 841.6 967.8 840.2 964.0 838.6 960.2 836.9 956.5 835.1 952.8 833.1 949.2 831.0 945.7 828.7 942.4 826.2 939.1 823.6 936.1 820.7 933.2 817.7 930.5 814.5 928.0 811.2 925.5 807.8 923.3 804.2 921.1 800.6 919.1 796.9 917.1 793.0 915.4 789.2 914.0 785.2 912.9 781.2 912.2 777.2 912.0 773.0 912.2 768.9 912.7 764.7 913.5 760.6 914.5 756.4 915.7 752.3 917.0 748.3 918.3 744.3 919.8 740.4 921.3 736.6 923.0 732.7 924.8 729.0 926.7 725.3 928.8 721.6 930.9 718.1 933.2 714.5 935.6 711.1 938.1 707.8 940.8 704.5 943.6 701.4 946.5 698.3 949.5 695.4 952.6 692.6 955.8 689.9 959.2 687.4 962.6 685.0 966.2 682.7 969.8 680.7 973.5 678.7 977.3 676.9 981.1 675.3 985.0 673.8 989.0 672.4 993.0 671.2 997.0 670.0 1001.1 668.9 1005.1 668.0 1009.3 667.1 1013.4 666.3 1017.5 665.6 1021.6 665.1 1025.8 664.6 1030.0 664.3 1034.1 664.1 1038.3 664.0 1042.5 664.1 1046.7 664.3 1050.8 664.6 1055.0 665.1 1059.2 665.7 1063.3 666.4 1067.4 667.2 1071.4 668.1 1075.5 669.2 1079.5 670.4 1083.5 671.6 1087.5 672.9 1091.4 674.3M1094.1 881.8 1090.3 880.3 1086.4 878.8 1082.6 877.3 1078.8 875.8 1074.9 874.4 1071.1 872.9 1067.3 871.4 1063.4 869.9 1059.6 868.5 1055.7 867.1 1051.9 865.7 1048.0 864.3 1044.1 862.9 1040.2 861.6 1036.3 860.3 1032.4 859.0 1028.4 857.8 1024.4 856.6 1020.5 855.4 1016.5 854.3 1012.4 853.3 1008.4 852.2 1004.4 851.2 1000.3 850.1 996.3 849.1 992.3 848.0 988.3 846.9 984.3 845.7 980.3 844.5 976.4 843.2 972.6 841.8 968.8 840.3 965.0 838.7 961.3 836.9 957.7 835.0 954.1 833.0 950.6 830.8 947.3 828.4 944.0 825.8 941.0 823.1 938.1 820.2 935.3 817.1 932.8 813.9 930.4 810.5 928.1 807.1 925.9 803.5 923.9 799.8 921.9 796.1 920.1 792.3 918.6 788.4 917.4 784.5 916.6 780.5 916.2 776.5 916.3 772.4 916.7 768.3 917.4 764.2 918.4 760.1 919.5 756.1 920.7 752.1 922.0 748.1 923.4 744.2 924.9 740.4 926.5 736.6 928.3 732.9 930.1 729.3 932.1 725.6 934.2 722.1 936.4 718.6 938.7 715.2 941.2 711.9 943.7 708.6 946.4 705.5 949.2 702.4 952.2 699.5 955.2 696.7 958.4 694.0 961.6 691.5 965.0 689.1 968.5 686.8 972.0 684.7 975.6 682.7 979.3 680.9 983.1 679.3 986.9 677.8 990.8 676.4 994.7 675.1 998.7 673.9 1002.7 672.8 1006.7 671.8 1010.8 671.0 1014.8 670.2 1018.9 669.5 1023.0 668.9 1027.1 668.4 1031.2 668.0 1035.3 667.8 1039.4 667.6 1043.5 667.7 1047.6 667.8 1051.8 668.1 1055.9 668.5 1060.0 669.1 1064.0 669.7 1068.1 670.5 1072.1 671.4 1076.1 672.4 1080.1 673.5 1084.0 674.7 1087.9 676.0 1091.8 677.3M1094.6 881.9 1090.8 880.4 1087.0 879.0 1083.2 877.5 1079.5 876.0 1075.7 874.6 1071.9 873.1 1068.1 871.7 1064.3 870.2 1060.5 868.8 1056.7 867.4 1052.9 866.0 1049.1 864.7 1045.3 863.3 1041.4 862.0 1037.6 860.8 1033.7 859.5 1029.8 858.3 1025.9 857.2 1021.9 856.0 1018.0 854.9 1014.0 853.9 1010.0 852.9 1006.1 851.9 1002.1 850.8 998.1 849.8 994.2 848.7 990.2 847.6 986.3 846.4 982.4 845.2 978.6 843.9 974.8 842.5 971.1 840.9 967.4 839.3 963.7 837.5 960.2 835.6 956.7 833.6 953.3 831.3 950.0 828.9 946.9 826.3 943.9 823.6 941.1 820.7 938.5 817.6 936.0 814.4 933.7 811.0 931.5 807.6 929.4 804.0 927.4 800.4 925.5 796.7 923.9 792.9 922.4 789.1 921.4 785.2 920.7 781.2 920.5 777.2 920.7 773.2 921.2 769.2 922.0 765.1 923.0 761.1 924.1 757.1 925.3 753.2 926.7 749.4 928.1 745.5 929.6 741.8 931.2 738.1 933.0 734.4 934.8 730.8 936.8 727.3 938.9 723.8 941.1 720.4 943.5 717.1 945.9 713.8 948.5 710.6 951.2 707.6 954.0 704.6 956.9 701.8 960.0 699.1 963.1 696.5 966.4 694.0 969.7 691.7 973.2 689.5 976.7 687.5 980.3 685.6 983.9 683.9 987.7 682.3 991.5 680.8 995.3 679.5 999.2 678.2 1003.1 677.1 1007.1 676.1 1011.0 675.2 1015.0 674.3 1019.0 673.5 1023.1 672.9 1027.1 672.3 1031.1 671.9 1035.2 671.6 1039.2 671.4 1043.3 671.3 1047.3 671.4 1051.4 671.6 1055.5 671.9 1059.5 672.3 1063.5 672.9 1067.5 673.6 1071.5 674.4 1075.5 675.3 1079.4 676.3 1083.3 677.5 1087.2 678.7 1091.0 680.0 1094.9 681.3M1093.9 881.5 1090.1 880.1 1086.4 878.6 1082.7 877.2 1079.0 875.7 1075.3 874.3 1071.5 872.9 1067.8 871.5 1064.1 870.1 1060.3 868.7 1056.6 867.3 1052.8 866.0 1049.0 864.6 1045.3 863.4 1041.5 862.1 1037.6 860.9 1033.8 859.7 1030.0 858.5 1026.1 857.4 1022.2 856.3 1018.3 855.3 1014.4 854.2 1010.5 853.2 1006.5 852.2 1002.6 851.2 998.7 850.2 994.8 849.1 991.0 847.9 987.1 846.8 983.3 845.5 979.6 844.1 975.9 842.7 972.2 841.1 968.6 839.4 965.1 837.6 961.7 835.6 958.3 833.4 955.0 831.1 951.9 828.6 948.9 826.0 946.1 823.1 943.4 820.2 941.0 817.0 938.6 813.8 936.4 810.4 934.3 806.9 932.3 803.4 930.4 799.8 928.7 796.1 927.2 792.3 926.0 788.5 925.2 784.6 924.9 780.7 924.9 776.7 925.4 772.8 926.1 768.8 927.0 764.8 928.1 760.9 929.2 757.0 930.5 753.2 931.8 749.4 933.3 745.7 934.9 742.0 936.6 738.4 938.4 734.9 940.3 731.4 942.3 727.9 944.4 724.5 946.7 721.2 949.1 718.0 951.6 714.8 954.2 711.8 956.9 708.8 959.8 706.0 962.7 703.3 965.8 700.7 969.0 698.2 972.2 695.9 975.6 693.7 979.0 691.6 982.6 689.7 986.2 688.0 989.8 686.3 993.5 684.9 997.3 683.5 1001.1 682.3 1005.0 681.1 1008.9 680.1 1012.8 679.1 1016.7 678.3 1020.6 677.5 1024.6 676.8 1028.5 676.2 1032.5 675.8 1036.5 675.4 1040.5 675.2 1044.5 675.0 1048.5 675.1 1052.5 675.2 1056.5 675.5 1060.5 675.9 1064.4 676.4 1068.4 677.1 1072.3 677.8 1076.2 678.7 1080.1 679.6 1084.0 680.7 1087.8 681.9 1091.6 683.1M1094.5 881.7 1090.8 880.2 1087.2 878.8 1083.5 877.4 1079.8 876.0 1076.2 874.6 1072.5 873.2 1068.8 871.8 1065.1 870.4 1061.5 869.0 1057.8 867.7 1054.0 866.4 1050.3 865.1 1046.6 863.8 1042.8 862.6 1039.1 861.4 1035.3 860.2 1031.5 859.1 1027.7 858.0 1023.9 857.0 1020.0 855.9 1016.2 854.9 1012.3 854.0 1008.4 853.0 1004.6 852.0 1000.7 850.9 996.9 849.8 993.1 848.7 989.4 847.5 985.6 846.2 982.0 844.9 978.3 843.4 974.8 841.8 971.2 840.1 967.8 838.2 964.4 836.2 961.1 834.0 957.9 831.7 954.9 829.2 952.0 826.5 949.3 823.7 946.8 820.7 944.4 817.6 942.1 814.3 940.0 811.0 937.9 807.6 936.0 804.0 934.2 800.4 932.5 796.8 931.2 793.1 930.1 789.3 929.5 785.5 929.3 781.6 929.5 777.7 930.0 773.7 930.8 769.8 931.7 765.9 932.8 762.1 934.0 758.3 935.3 754.5 936.6 750.8 938.1 747.2 939.7 743.6 941.4 740.1 943.2 736.6 945.1 733.1 947.2 729.8 949.3 726.4 951.6 723.2 954.0 720.0 956.5 717.0 959.1 714.0 961.8 711.1 964.6 708.4 967.6 705.8 970.6 703.2 973.8 700.8 977.0 698.6 980.4 696.5 983.8 694.5 987.3 692.7 990.8 691.0 994.5 689.5 998.1 688.0 1001.9 686.7 1005.6 685.5 1009.4 684.5 1013.3 683.5 1017.1 682.6 1021.0 681.7 1024.9 681.0 1028.8 680.4 1032.7 679.8 1036.6 679.4 1040.5 679.1 1044.5 678.9 1048.4 678.8 1052.3 678.9 1056.3 679.1 1060.2 679.4 1064.1 679.8 1068.0 680.4 1071.9 681.0 1075.8 681.8 1079.6 682.7 1083.4 683.7 1087.2 684.8 1091.0 686.0 1094.7 687.2M1094.0 881.4 1090.4 880.0 1086.8 878.6 1083.2 877.2 1079.5 875.8 1075.9 874.4 1072.3 873.0 1068.7 871.7 1065.1 870.3 1061.4 869.0 1057.8 867.7 1054.1 866.4 1050.5 865.2 1046.8 863.9 1043.1 862.7 1039.4 861.6 1035.6 860.5 1031.9 859.4 1028.1 858.3 1024.3 857.3 1020.5 856.3 1016.7 855.4 1012.9 854.4 1009.1 853.4 1005.4 852.4 1001.6 851.3 997.9 850.2 994.1 849.1 990.5 847.8 986.8 846.5 983.2 845.1 979.7 843.6 976.2 841.9 972.8 840.2 969.5 838.2 966.2 836.2 963.0 833.9 960.0 831.5 957.1 828.9 954.4 826.2 951.8 823.3 949.4 820.3 947.1 817.1 945.0 813.9 942.9 810.5 941.0 807.1 939.2 803.6 937.5 800.0 936.1 796.3 934.9 792.6 934.2 788.9 933.8 785.1 933.9 781.2 934.3 777.4 935.0 773.5 935.8 769.7 936.9 765.9 938.0 762.1 939.2 758.4 940.6 754.7 942.0 751.1 943.5 747.6 945.1 744.1 946.9 740.6 948.7 737.2 950.7 733.9 952.8 730.6 955.0 727.4 957.3 724.3 959.7 721.2 962.2 718.3 964.9 715.4 967.6 712.7 970.5 710.0 973.5 707.5 976.5 705.1 979.7 702.8 983.0 700.7 986.3 698.7 989.7 696.9 993.2 695.2 996.7 693.6 1000.3 692.2 1004.0 690.9 1007.7 689.7 1011.4 688.6 1015.2 687.5 1019.0 686.6 1022.8 685.8 1026.6 685.0 1030.4 684.4 1034.3 683.8 1038.1 683.4 1042.0 683.0 1045.8 682.8 1049.7 682.7 1053.6 682.7 1057.5 682.8 1061.3 683.1 1065.2 683.5 1069.1 684.0 1072.9 684.6 1076.7 685.3 1080.5 686.2 1084.2 687.1 1088.0 688.2 1091.7 689.3M1094.7 881.6 1091.2 880.2 1087.6 878.8 1084.1 877.4 1080.6 876.1 1077.0 874.7 1073.4 873.4 1069.9 872.0 1066.3 870.7 1062.7 869.4 1059.1 868.2 1055.5 866.9 1051.9 865.7 1048.3 864.5 1044.7 863.3 1041.0 862.2 1037.3 861.1 1033.6 860.0 1029.9 859.0 1026.2 858.0 1022.4 857.1 1018.7 856.1 1015.0 855.2 1011.2 854.2 1007.5 853.2 1003.8 852.1 1000.2 851.0 996.5 849.9 992.9 848.6 989.3 847.3 985.8 845.9 982.4 844.3 979.0 842.7 975.6 840.9 972.4 838.9 969.2 836.8 966.1 834.6 963.1 832.2 960.4 829.6 957.7 826.8 955.3 823.9 952.9 820.9 950.8 817.8 948.7 814.5 946.7 811.2 944.8 807.8 943.1 804.3 941.5 800.8 940.2 797.2 939.2 793.5 938.6 789.8 938.3 786.0 938.5 782.3 939.0 778.5 939.8 774.7 940.7 770.9 941.8 767.2 942.9 763.5 944.1 759.9 945.5 756.3 946.9 752.8 948.4 749.3 950.1 745.9 951.8 742.5 953.7 739.1 955.7 735.9 957.7 732.7 959.9 729.5 962.2 726.5 964.7 723.5 967.2 720.6 969.8 717.9 972.6 715.2 975.4 712.6 978.4 710.2 981.4 707.9 984.6 705.7 987.8 703.7 991.1 701.7 994.5 700.0 997.9 698.3 1001.4 696.9 1005.0 695.5 1008.6 694.2 1012.3 693.1 1016.0 692.0 1019.7 691.1 1023.4 690.2 1027.1 689.4 1030.9 688.7 1034.7 688.0 1038.4 687.5 1042.2 687.1 1046.0 686.8 1049.8 686.6 1053.7 686.6 1057.5 686.6 1061.3 686.8 1065.1 687.1 1068.9 687.5 1072.7 688.1 1076.4 688.7 1080.2 689.5 1083.9 690.3 1087.6 691.3 1091.3 692.3 1094.9 693.5M1094.4 881.3 1090.9 880.0 1087.4 878.6 1084.0 877.3 1080.5 876.0 1077.0 874.6 1073.5 873.3 1070.0 872.0 1066.4 870.7 1062.9 869.5 1059.4 868.2 1055.8 867.0 1052.3 865.8 1048.7 864.7 1045.1 863.6 1041.5 862.5 1037.9 861.4 1034.2 860.4 1030.6 859.4 1026.9 858.5 1023.2 857.5 1019.5 856.6 1015.9 855.6 1012.2 854.7 1008.6 853.7 1005.0 852.6 1001.4 851.5 997.8 850.3 994.3 849.0 990.8 847.6 987.4 846.2 984.0 844.6 980.7 842.9 977.5 841.0 974.3 839.0 971.3 836.8 968.3 834.5 965.5 832.0 962.9 829.3 960.4 826.5 958.1 823.6 955.9 820.6 953.8 817.4 951.8 814.2 950.0 810.8 948.2 807.4 946.6 804.0 945.2 800.5 944.1 796.9 943.3 793.2 943.0 789.6 943.1 785.9 943.4 782.1 944.1 778.4 945.0 774.7 946.0 771.0 947.1 767.3 948.3 763.8 949.5 760.2 950.9 756.8 952.4 753.3 954.0 749.9 955.6 746.6 957.4 743.3 959.3 740.1 961.3 736.9 963.5 733.8 965.7 730.8 968.0 727.8 970.5 724.9 973.1 722.2 975.7 719.5 978.5 717.0 981.4 714.5 984.3 712.2 987.4 710.0 990.5 708.0 993.8 706.1 997.1 704.3 1000.4 702.6 1003.9 701.1 1007.3 699.7 1010.9 698.4 1014.5 697.3 1018.1 696.2 1021.7 695.2 1025.4 694.3 1029.1 693.5 1032.7 692.8 1036.4 692.2 1040.2 691.6 1043.9 691.2 1047.6 690.9 1051.4 690.6 1055.1 690.5 1058.9 690.5 1062.6 690.7 1066.4 690.9 1070.1 691.3 1073.8 691.8 1077.5 692.4 1081.2 693.1 1084.9 693.9 1088.5 694.8 1092.1 695.8M1094.2 881.2 1090.8 879.8 1087.4 878.5 1083.9 877.2 1080.5 875.9 1077.1 874.6 1073.6 873.3 1070.2 872.0 1066.7 870.8 1063.2 869.6 1059.7 868.4 1056.2 867.2 1052.7 866.1 1049.2 864.9 1045.7 863.9 1042.1 862.8 1038.5 861.8 1034.9 860.8 1031.3 859.9 1027.7 859.0 1024.1 858.0 1020.5 857.1 1016.9 856.2 1013.3 855.2 1009.8 854.1 1006.2 853.1 1002.7 851.9 999.2 850.7 995.8 849.4 992.4 848.0 989.1 846.4 985.8 844.8 982.6 843.0 979.5 841.1 976.5 839.0 973.5 836.8 970.7 834.4 968.1 831.8 965.6 829.1 963.3 826.3 961.1 823.3 959.0 820.3 957.0 817.1 955.1 813.9 953.4 810.5 951.7 807.2 950.3 803.7 949.1 800.2 948.2 796.7 947.8 793.1 947.7 789.4 948.0 785.8 948.5 782.1 949.3 778.4 950.3 774.8 951.3 771.2 952.5 767.7 953.7 764.2 955.0 760.7 956.4 757.4 957.9 754.0 959.6 750.7 961.3 747.5 963.1 744.3 965.1 741.1 967.1 738.1 969.3 735.1 971.5 732.1 973.9 729.3 976.4 726.5 979.0 723.9 981.7 721.3 984.4 718.9 987.3 716.6 990.3 714.4 993.4 712.3 996.5 710.4 999.7 708.6 1003.0 706.9 1006.4 705.4 1009.8 704.0 1013.2 702.7 1016.7 701.5 1020.3 700.5 1023.9 699.5 1027.4 698.6 1031.0 697.8 1034.7 697.0 1038.3 696.4 1042.0 695.8 1045.6 695.3 1049.3 695.0 1052.9 694.7 1056.6 694.6 1060.3 694.5 1064.0 694.6 1067.7 694.9 1071.4 695.2 1075.0 695.6 1078.7 696.2 1082.3 696.8 1085.9 697.6 1089.5 698.5 1093.0 699.4M1094.1 881.0 1090.7 879.7 1087.4 878.4 1084.0 877.1 1080.6 875.9 1077.2 874.6 1073.9 873.3 1070.5 872.1 1067.1 870.9 1063.6 869.7 1060.2 868.6 1056.8 867.4 1053.3 866.3 1049.8 865.2 1046.3 864.2 1042.8 863.2 1039.3 862.2 1035.8 861.3 1032.2 860.4 1028.7 859.5 1025.1 858.6 1021.6 857.6 1018.1 856.7 1014.6 855.7 1011.1 854.7 1007.6 853.6 1004.2 852.4 1000.8 851.1 997.5 849.8 994.2 848.3 991.0 846.7 987.8 845.0 984.7 843.2 981.7 841.2 978.8 839.0 976.0 836.7 973.3 834.3 970.8 831.7 968.5 828.9 966.3 826.1 964.2 823.1 962.2 820.0 960.4 816.9 958.6 813.6 956.9 810.3 955.4 807.0 954.2 803.6 953.2 800.1 952.6 796.6 952.4 793.0 952.6 789.4 953.1 785.8 953.8 782.2 954.7 778.6 955.7 775.1 956.8 771.6 957.9 768.1 959.2 764.8 960.6 761.4 962.0 758.1 963.6 754.9 965.2 751.7 967.0 748.5 968.9 745.4 970.8 742.3 972.9 739.4 975.1 736.5 977.4 733.7 979.8 730.9 982.3 728.3 984.9 725.8 987.6 723.3 990.4 721.0 993.3 718.8 996.3 716.8 999.4 714.8 1002.5 713.0 1005.7 711.3 1009.0 709.8 1012.3 708.4 1015.7 707.1 1019.1 705.9 1022.6 704.8 1026.1 703.8 1029.6 702.9 1033.1 702.0 1036.7 701.3 1040.3 700.6 1043.8 700.0 1047.4 699.5 1051.0 699.1 1054.6 698.8 1058.2 698.7 1061.9 698.6 1065.5 698.7 1069.1 698.8 1072.7 699.1 1076.3 699.5 1079.9 700.0 1083.5 700.6 1087.0 701.4 1090.5 702.2 1094.0 703.1M1094.1 880.9 1090.8 879.7 1087.5 878.4 1084.2 877.1 1080.9 875.9 1077.6 874.7 1074.2 873.4 1070.9 872.2 1067.5 871.1 1064.2 869.9 1060.8 868.8 1057.4 867.7 1054.0 866.6 1050.6 865.6 1047.2 864.6 1043.7 863.7 1040.2 862.7 1036.8 861.8 1033.3 860.9 1029.8 860.0 1026.3 859.1 1022.8 858.2 1019.4 857.3 1016.0 856.2 1012.6 855.2 1009.2 854.1 1005.9 852.9 1002.6 851.6 999.3 850.2 996.1 848.7 993.0 847.0 990.0 845.3 987.0 843.4 984.0 841.3 981.3 839.1 978.6 836.7 976.1 834.2 973.8 831.6 971.6 828.8 969.5 825.9 967.5 822.9 965.6 819.8 963.9 816.7 962.2 813.5 960.7 810.2 959.4 806.9 958.3 803.5 957.6 800.0 957.3 796.6 957.3 793.0 957.7 789.5 958.3 785.9 959.2 782.4 960.1 778.9 961.1 775.5 962.3 772.1 963.5 768.8 964.8 765.5 966.2 762.2 967.7 759.0 969.3 755.8 971.0 752.7 972.8 749.7 974.7 746.7 976.7 743.7 978.8 740.8 981.0 738.0 983.3 735.3 985.8 732.7 988.3 730.2 990.9 727.8 993.6 725.5 996.4 723.3 999.3 721.2 1002.3 719.3 1005.4 717.4 1008.5 715.7 1011.7 714.2 1014.9 712.8 1018.2 711.4 1021.6 710.2 1025.0 709.1 1028.4 708.1 1031.9 707.2 1035.3 706.3 1038.8 705.6 1042.3 704.9 1045.8 704.3 1049.3 703.8 1052.8 703.4 1056.4 703.0 1059.9 702.8 1063.5 702.7 1067.0 702.7 1070.6 702.9 1074.1 703.1 1077.7 703.5 1081.2 703.9 1084.7 704.5 1088.2 705.2 1091.7 705.9M1094.2 880.9 1091.0 879.6 1087.8 878.4 1084.5 877.2 1081.2 876.0 1078.0 874.8 1074.7 873.6 1071.4 872.4 1068.1 871.3 1064.8 870.2 1061.5 869.1 1058.2 868.0 1054.8 867.0 1051.5 866.0 1048.1 865.1 1044.7 864.2 1041.3 863.3 1037.9 862.4 1034.4 861.5 1031.0 860.6 1027.6 859.7 1024.2 858.8 1020.9 857.8 1017.5 856.8 1014.2 855.7 1010.9 854.6 1007.7 853.3 1004.5 852.0 1001.3 850.6 998.2 849.0 995.2 847.3 992.3 845.5 989.4 843.5 986.6 841.4 983.9 839.1 981.5 836.7 979.1 834.2 976.9 831.5 974.8 828.7 972.8 825.8 971.0 822.8 969.2 819.7 967.5 816.6 966.0 813.4 964.6 810.2 963.5 806.8 962.7 803.5 962.2 800.1 962.2 796.6 962.4 793.2 963.0 789.7 963.7 786.2 964.6 782.8 965.6 779.4 966.7 776.1 967.8 772.8 969.1 769.5 970.4 766.3 971.9 763.2 973.4 760.0 975.0 757.0 976.8 753.9 978.6 751.0 980.5 748.1 982.6 745.2 984.7 742.5 987.0 739.8 989.3 737.2 991.7 734.7 994.3 732.3 996.9 730.0 999.7 727.8 1002.5 725.7 1005.4 723.7 1008.3 721.9 1011.4 720.2 1014.5 718.6 1017.7 717.2 1020.9 715.9 1024.2 714.7 1027.5 713.5 1030.8 712.5 1034.2 711.6 1037.6 710.7 1041.0 709.9 1044.4 709.2 1047.9 708.6 1051.3 708.1 1054.8 707.6 1058.2 707.3 1061.7 707.1 1065.2 706.9 1068.7 706.9 1072.2 707.0 1075.6 707.2 1079.1 707.5 1082.6 707.9 1086.0 708.5 1089.5 709.1 1092.9 709.8M1094.5 880.9 1091.3 879.7 1088.1 878.5 1084.9 877.3 1081.7 876.1 1078.5 874.9 1075.3 873.8 1072.1 872.7 1068.8 871.6 1065.6 870.5 1062.3 869.4 1059.1 868.4 1055.8 867.5 1052.5 866.5 1049.1 865.6 1045.8 864.7 1042.4 863.9 1039.1 863.0 1035.7 862.1 1032.4 861.3 1029.1 860.4 1025.8 859.4 1022.5 858.4 1019.2 857.4 1016.0 856.3 1012.8 855.1 1009.6 853.8 1006.5 852.4 1003.5 851.0 1000.5 849.4 997.6 847.6 994.7 845.7 992.0 843.7 989.3 841.5 986.8 839.2 984.5 836.8 982.3 834.2 980.2 831.5 978.2 828.7 976.4 825.7 974.6 822.8 972.9 819.7 971.4 816.6 969.9 813.4 968.8 810.2 967.9 806.9 967.3 803.6 967.1 800.2 967.3 796.8 967.7 793.4 968.4 790.0 969.2 786.7 970.2 783.3 971.2 780.0 972.3 776.8 973.5 773.6 974.8 770.4 976.2 767.3 977.6 764.2 979.2 761.2 980.8 758.2 982.6 755.3 984.5 752.4 986.4 749.6 988.5 746.9 990.7 744.2 992.9 741.6 995.3 739.2 997.8 736.8 1000.3 734.5 1003.0 732.3 1005.7 730.2 1008.5 728.3 1011.4 726.4 1014.4 724.7 1017.4 723.2 1020.5 721.7 1023.6 720.4 1026.8 719.1 1030.1 718.0 1033.3 717.0 1036.6 716.0 1040.0 715.2 1043.3 714.4 1046.6 713.7 1050.0 713.0 1053.4 712.5 1056.8 712.0 1060.2 711.6 1063.6 711.4 1067.0 711.2 1070.4 711.1 1073.8 711.2 1077.2 711.4 1080.6 711.6 1084.0 712.0 1087.4 712.5 1090.8 713.1 1094.2 713.7M1094.8 880.9 1091.7 879.7 1088.6 878.6 1085.5 877.4 1082.3 876.3 1079.2 875.1 1076.0 874.0 1072.9 872.9 1069.7 871.9 1066.5 870.9 1063.3 869.9 1060.1 868.9 1056.8 867.9 1053.6 867.0 1050.3 866.2 1047.0 865.3 1043.7 864.5 1040.5 863.6 1037.2 862.8 1033.9 861.9 1030.7 861.0 1027.4 860.1 1024.2 859.1 1021.1 858.0 1017.9 856.9 1014.8 855.6 1011.8 854.3 1008.8 852.9 1005.8 851.4 1002.9 849.7 1000.1 847.9 997.4 846.0 994.7 843.9 992.3 841.7 989.9 839.3 987.7 836.8 985.6 834.2 983.7 831.5 981.8 828.7 980.0 825.8 978.4 822.8 976.8 819.8 975.4 816.7 974.1 813.5 973.1 810.3 972.5 807.1 972.2 803.8 972.2 800.5 972.6 797.2 973.2 793.8 973.9 790.5 974.8 787.2 975.8 784.0 976.9 780.8 978.0 777.6 979.2 774.5 980.5 771.5 981.9 768.5 983.4 765.5 985.0 762.5 986.7 759.6 988.5 756.8 990.4 754.0 992.4 751.3 994.5 748.7 996.7 746.2 999.0 743.7 1001.4 741.3 1003.8 739.0 1006.4 736.9 1009.1 734.8 1011.8 732.8 1014.6 731.0 1017.5 729.3 1020.4 727.7 1023.4 726.2 1026.5 724.9 1029.6 723.6 1032.7 722.5 1035.9 721.5 1039.2 720.5 1042.4 719.6 1045.7 718.8 1049.0 718.1 1052.2 717.5 1055.6 716.9 1058.9 716.4 1062.2 716.0 1065.5 715.7 1068.9 715.5 1072.2 715.4 1075.6 715.5 1078.9 715.6 1082.2 715.8 1085.6 716.1 1088.9 716.6 1092.2 717.1M1094.3 880.6 1091.2 879.5 1088.2 878.3 1085.1 877.2 1082.0 876.1 1078.9 875.0 1075.8 874.0 1072.7 872.9 1069.6 871.9 1066.5 871.0 1063.3 870.0 1060.1 869.1 1056.9 868.2 1053.8 867.3 1050.5 866.5 1047.3 865.7 1044.1 864.9 1040.9 864.0 1037.7 863.2 1034.5 862.3 1031.4 861.4 1028.2 860.4 1025.1 859.3 1022.1 858.2 1019.0 857.0 1016.0 855.8 1013.1 854.4 1010.2 852.9 1007.4 851.2 1004.6 849.5 1001.9 847.6 999.4 845.5 996.9 843.4 994.6 841.1 992.5 838.6 990.4 836.0 988.5 833.4 986.7 830.6 985.0 827.8 983.3 824.9 981.8 821.9 980.4 818.9 979.2 815.8 978.2 812.7 977.6 809.5 977.3 806.3 977.3 803.1 977.7 799.8 978.2 796.5 979.0 793.3 979.9 790.1 980.8 786.9 981.9 783.8 983.0 780.7 984.2 777.6 985.5 774.6 986.8 771.7 988.3 768.8 989.9 765.9 991.5 763.1 993.3 760.3 995.1 757.6 997.1 754.9 999.1 752.4 1001.3 749.9 1003.5 747.4 1005.8 745.1 1008.3 742.9 1010.8 740.8 1013.4 738.7 1016.0 736.8 1018.8 735.0 1021.6 733.4 1024.5 731.8 1027.4 730.4 1030.4 729.0 1033.5 727.8 1036.6 726.7 1039.7 725.7 1042.8 724.8 1046.0 723.9 1049.2 723.1 1052.4 722.4 1055.7 721.8 1058.9 721.2 1062.1 720.7 1065.4 720.4 1068.6 720.1 1071.9 719.9 1075.2 719.8 1078.5 719.8 1081.7 719.9 1085.0 720.2 1088.3 720.5 1091.5 720.9 1094.8 721.4M1094.9 880.8 1091.9 879.7 1088.9 878.6 1085.9 877.5 1082.9 876.4 1079.8 875.4 1076.8 874.3 1073.8 873.3 1070.7 872.4 1067.6 871.4 1064.5 870.5 1061.4 869.7 1058.3 868.8 1055.2 868.0 1052.0 867.2 1048.9 866.4 1045.7 865.6 1042.6 864.7 1039.5 863.9 1036.4 863.0 1033.3 862.1 1030.3 861.1 1027.2 860.0 1024.3 858.9 1021.3 857.6 1018.4 856.3 1015.6 854.9 1012.8 853.3 1010.1 851.6 1007.4 849.8 1004.9 847.9 1002.4 845.8 1000.1 843.6 998.0 841.2 996.0 838.8 994.0 836.2 992.2 833.5 990.5 830.8 988.9 828.0 987.3 825.1 985.9 822.1 984.7 819.1 983.6 816.1 982.9 813.0 982.5 809.9 982.4 806.7 982.7 803.5 983.2 800.3 983.8 797.1 984.7 794.0 985.6 790.9 986.6 787.8 987.6 784.8 988.8 781.8 990.0 778.8 991.3 775.9 992.7 773.1 994.2 770.2 995.8 767.4 997.5 764.7 999.3 762.0 1001.2 759.4 1003.1 756.9 1005.2 754.4 1007.4 752.0 1009.6 749.7 1011.9 747.5 1014.4 745.4 1016.9 743.4 1019.5 741.5 1022.1 739.7 1024.9 738.0 1027.7 736.4 1030.5 735.0 1033.4 733.7 1036.4 732.4 1039.4 731.3 1042.5 730.3 1045.5 729.4 1048.6 728.5 1051.8 727.7 1054.9 727.0 1058.1 726.3 1061.2 725.8 1064.4 725.3 1067.6 724.9 1070.8 724.6 1073.9 724.3 1077.1 724.2 1080.4 724.2 1083.6 724.3 1086.8 724.5 1090.0 724.8 1093.2 725.1M1094.7 880.6 1091.7 879.5 1088.8 878.5 1085.8 877.4 1082.9 876.4 1079.9 875.4 1076.9 874.4 1073.9 873.5 1070.9 872.6 1067.9 871.7 1064.9 870.8 1061.8 870.0 1058.7 869.2 1055.7 868.4 1052.6 867.6 1049.5 866.8 1046.5 866.0 1043.4 865.2 1040.4 864.3 1037.4 863.4 1034.4 862.4 1031.5 861.4 1028.5 860.3 1025.7 859.1 1022.8 857.8 1020.1 856.4 1017.3 854.9 1014.7 853.2 1012.1 851.5 1009.6 849.6 1007.2 847.5 1005.0 845.4 1002.9 843.1 1000.9 840.6 999.0 838.1 997.2 835.5 995.6 832.8 994.0 830.1 992.5 827.3 991.1 824.4 989.8 821.5 988.8 818.5 988.1 815.5 987.7 812.4 987.6 809.3 987.9 806.2 988.4 803.1 989.0 800.0 989.8 796.9 990.7 793.8 991.7 790.8 992.7 787.9 993.9 784.9 995.1 782.1 996.3 779.2 997.7 776.4 999.2 773.7 1000.7 770.9 1002.4 768.3 1004.1 765.6 1006.0 763.1 1007.9 760.6 1009.9 758.2 1012.0 755.9 1014.2 753.6 1016.5 751.4 1018.9 749.4 1021.3 747.4 1023.9 745.5 1026.5 743.8 1029.1 742.1 1031.9 740.6 1034.7 739.2 1037.5 737.9 1040.4 736.7 1043.4 735.6 1046.3 734.6 1049.3 733.7 1052.4 732.9 1055.4 732.1 1058.5 731.4 1061.6 730.8 1064.7 730.2 1067.8 729.7 1070.9 729.3 1074.0 729.0 1077.1 728.8 1080.2 728.7 1083.4 728.7 1086.5 728.7 1089.6 728.9 1092.8 729.2M1094.6 880.5 1091.7 879.5 1088.8 878.5 1085.9 877.5 1083.0 876.5 1080.1 875.6 1077.2 874.6 1074.3 873.7 1071.3 872.9 1068.3 872.0 1065.4 871.2 1062.4 870.4 1059.4 869.7 1056.4 868.9 1053.4 868.1 1050.4 867.3 1047.4 866.5 1044.5 865.7 1041.5 864.8 1038.6 863.8 1035.7 862.8 1032.9 861.7 1030.1 860.5 1027.3 859.3 1024.6 857.9 1021.9 856.4 1019.3 854.8 1016.8 853.1 1014.4 851.3 1012.0 849.3 1009.9 847.1 1007.8 844.9 1005.9 842.5 1004.0 840.1 1002.3 837.5 1000.7 834.9 999.1 832.2 997.6 829.5 996.3 826.7 995.1 823.8 994.1 820.9 993.4 818.0 993.0 815.0 992.9 812.0 993.2 808.9 993.6 805.9 994.3 802.8 995.1 799.8 995.9 796.8 996.9 793.9 997.9 791.0 999.0 788.1 1000.2 785.3 1001.4 782.6 1002.8 779.8 1004.2 777.1 1005.7 774.5 1007.3 771.9 1009.0 769.3 1010.8 766.8 1012.7 764.4 1014.7 762.0 1016.7 759.7 1018.9 757.5 1021.1 755.4 1023.4 753.4 1025.8 751.5 1028.3 749.7 1030.8 748.0 1033.5 746.4 1036.1 744.9 1038.9 743.5 1041.6 742.2 1044.5 741.0 1047.3 740.0 1050.3 739.0 1053.2 738.1 1056.2 737.3 1059.1 736.5 1062.1 735.8 1065.1 735.2 1068.2 734.7 1071.2 734.2 1074.2 733.8 1077.3 733.5 1080.3 733.3 1083.4 733.2 1086.4 733.2 1089.5 733.3 1092.5 733.4M1094.7 880.5 1091.9 879.5 1089.0 878.6 1086.2 877.6 1083.4 876.7 1080.5 875.8 1077.6 874.9 1074.8 874.1 1071.9 873.2 1069.0 872.5 1066.0 871.7 1063.1 870.9 1060.2 870.2 1057.3 869.4 1054.3 868.7 1051.4 867.9 1048.6 867.0 1045.7 866.2 1042.9 865.2 1040.0 864.2 1037.3 863.2 1034.5 862.0 1031.8 860.8 1029.2 859.5 1026.6 858.0 1024.1 856.5 1021.6 854.8 1019.2 853.0 1016.9 851.0 1014.8 849.0 1012.8 846.8 1010.9 844.5 1009.1 842.1 1007.4 839.6 1005.8 837.0 1004.3 834.4 1002.9 831.7 1001.5 829.0 1000.4 826.2 999.4 823.4 998.7 820.5 998.3 817.6 998.3 814.6 998.5 811.6 999.0 808.7 999.6 805.7 1000.4 802.8 1001.2 799.9 1002.2 797.0 1003.1 794.2 1004.2 791.4 1005.4 788.6 1006.6 785.9 1007.9 783.3 1009.3 780.6 1010.8 778.0 1012.3 775.5 1014.0 773.0 1015.8 770.6 1017.6 768.2 1019.5 765.9 1021.5 763.7 1023.6 761.5 1025.8 759.5 1028.1 757.5 1030.4 755.6 1032.8 753.8 1035.3 752.2 1037.8 750.6 1040.4 749.2 1043.1 747.8 1045.8 746.6 1048.6 745.4 1051.4 744.4 1054.2 743.4 1057.1 742.6 1060.0 741.8 1062.9 741.0 1065.8 740.4 1068.7 739.8 1071.7 739.2 1074.6 738.8 1077.6 738.4 1080.6 738.1 1083.5 737.9 1086.5 737.8 1089.5 737.8 1092.5 737.8M1094.9 880.6 1092.2 879.7 1089.4 878.7 1086.7 877.8 1083.9 876.9 1081.1 876.1 1078.3 875.3 1075.4 874.5 1072.6 873.7 1069.8 873.0 1066.9 872.2 1064.1 871.5 1061.2 870.8 1058.4 870.0 1055.5 869.2 1052.7 868.4 1049.9 867.6 1047.2 866.7 1044.4 865.7 1041.7 864.7 1039.0 863.5 1036.4 862.3 1033.8 861.0 1031.3 859.6 1028.8 858.1 1026.4 856.5 1024.1 854.7 1021.9 852.8 1019.8 850.8 1017.8 848.7 1016.0 846.4 1014.3 844.1 1012.6 841.7 1011.1 839.2 1009.6 836.6 1008.2 834.0 1006.9 831.3 1005.7 828.6 1004.8 825.8 1004.1 823.0 1003.8 820.2 1003.7 817.3 1003.9 814.4 1004.4 811.5 1005.0 808.6 1005.8 805.8 1006.6 802.9 1007.5 800.1 1008.4 797.4 1009.5 794.7 1010.6 792.0 1011.8 789.4 1013.1 786.8 1014.4 784.2 1015.9 781.7 1017.4 779.2 1019.0 776.7 1020.7 774.4 1022.5 772.1 1024.4 769.8 1026.4 767.7 1028.4 765.6 1030.5 763.6 1032.7 761.6 1035.0 759.8 1037.4 758.1 1039.8 756.4 1042.3 754.9 1044.8 753.5 1047.4 752.2 1050.0 751.0 1052.7 749.9 1055.5 748.9 1058.2 747.9 1061.0 747.1 1063.8 746.3 1066.7 745.6 1069.5 744.9 1072.4 744.3 1075.3 743.8 1078.1 743.4 1081.0 743.0 1083.9 742.7 1086.8 742.5 1089.7 742.4 1092.6 742.4M1094.5 880.5 1091.8 879.6 1089.1 878.7 1086.4 877.8 1083.6 877.0 1080.9 876.2 1078.1 875.5 1075.4 874.7 1072.6 874.0 1069.8 873.3 1067.0 872.6 1064.3 871.9 1061.5 871.1 1058.8 870.3 1056.0 869.5 1053.3 868.7 1050.6 867.8 1048.0 866.8 1045.3 865.8 1042.7 864.7 1040.2 863.5 1037.7 862.2 1035.3 860.8 1032.9 859.3 1030.6 857.6 1028.3 855.9 1026.2 854.0 1024.2 852.0 1022.4 849.9 1020.6 847.6 1018.9 845.3 1017.4 843.0 1015.9 840.5 1014.5 838.0 1013.1 835.4 1011.9 832.8 1010.9 830.1 1010.0 827.4 1009.5 824.7 1009.2 821.9 1009.2 819.1 1009.5 816.3 1010.0 813.5 1010.7 810.7 1011.5 807.9 1012.3 805.1 1013.2 802.4 1014.1 799.8 1015.2 797.1 1016.3 794.5 1017.5 792.0 1018.8 789.4 1020.1 787.0 1021.5 784.5 1023.1 782.1 1024.7 779.8 1026.4 777.5 1028.1 775.2 1030.0 773.1 1031.9 771.0 1033.9 769.0 1036.0 767.1 1038.2 765.2 1040.4 763.5 1042.8 761.8 1045.1 760.3 1047.6 758.8 1050.1 757.5 1052.6 756.2 1055.2 755.1 1057.8 754.0 1060.5 753.1 1063.2 752.2 1065.9 751.4 1068.7 750.6 1071.5 750.0 1074.2 749.3 1077.0 748.8 1079.8 748.3 1082.6 747.9 1085.4 747.6 1088.3 747.3 1091.1 747.2 1093.9 747.1M1094.2 880.4 1091.6 879.6 1088.9 878.8 1086.3 878.0 1083.6 877.2 1080.9 876.5 1078.2 875.8 1075.5 875.1 1072.8 874.4 1070.1 873.7 1067.4 873.0 1064.7 872.2 1062.1 871.5 1059.4 870.7 1056.8 869.9 1054.2 869.0 1051.6 868.0 1049.1 867.0 1046.6 865.9 1044.1 864.7 1041.7 863.4 1039.3 862.0 1037.0 860.4 1034.8 858.8 1032.7 857.1 1030.7 855.2 1028.8 853.2 1027.0 851.1 1025.3 848.9 1023.7 846.7 1022.2 844.3 1020.8 841.9 1019.4 839.4 1018.2 836.9 1017.0 834.4 1016.1 831.8 1015.3 829.1 1014.9 826.4 1014.7 823.7 1014.9 821.0 1015.2 818.2 1015.8 815.5 1016.4 812.8 1017.2 810.1 1018.0 807.4 1018.9 804.8 1019.9 802.2 1020.9 799.7 1022.0 797.1 1023.2 794.7 1024.5 792.2 1025.8 789.8 1027.2 787.5 1028.8 785.1 1030.3 782.9 1032.0 780.7 1033.8 778.5 1035.6 776.4 1037.5 774.4 1039.5 772.5 1041.5 770.7 1043.7 768.9 1045.9 767.2 1048.2 765.6 1050.5 764.2 1052.9 762.8 1055.3 761.5 1057.8 760.3 1060.4 759.3 1062.9 758.3 1065.5 757.3 1068.2 756.5 1070.8 755.8 1073.5 755.1 1076.2 754.4 1078.9 753.8 1081.6 753.3 1084.4 752.9 1087.1 752.5 1089.8 752.2 1092.6 752.0M1094.2 880.5 1091.6 879.7 1089.0 879.0 1086.4 878.2 1083.8 877.5 1081.2 876.8 1078.6 876.2 1075.9 875.5 1073.3 874.8 1070.7 874.1 1068.1 873.4 1065.5 872.7 1062.9 871.9 1060.4 871.0 1057.9 870.2 1055.4 869.2 1052.9 868.2 1050.5 867.1 1048.1 865.9 1045.8 864.6 1043.5 863.2 1041.3 861.7 1039.2 860.0 1037.1 858.3 1035.2 856.4 1033.4 854.5 1031.7 852.4 1030.1 850.3 1028.6 848.0 1027.1 845.7 1025.8 843.4 1024.5 841.0 1023.3 838.5 1022.3 836.0 1021.4 833.5 1020.8 830.9 1020.4 828.3 1020.4 825.6 1020.6 822.9 1021.0 820.3 1021.6 817.6 1022.3 815.0 1023.0 812.4 1023.8 809.8 1024.7 807.3 1025.7 804.8 1026.7 802.3 1027.8 799.9 1029.0 797.5 1030.3 795.1 1031.6 792.8 1033.0 790.5 1034.5 788.3 1036.1 786.1 1037.7 783.9 1039.4 781.9 1041.2 779.9 1043.1 778.0 1045.1 776.1 1047.1 774.3 1049.2 772.7 1051.4 771.1 1053.6 769.6 1055.9 768.2 1058.2 766.9 1060.6 765.6 1063.0 764.5 1065.5 763.5 1068.0 762.6 1070.6 761.7 1073.2 760.9 1075.7 760.2 1078.4 759.6 1081.0 759.0 1083.6 758.4 1086.3 757.9 1088.9 757.5 1091.6 757.2 1094.2 756.9M1094.4 880.7 1091.9 880.0 1089.3 879.3 1086.8 878.6 1084.2 878.0 1081.7 877.3 1079.1 876.6 1076.6 876.0 1074.1 875.3 1071.5 874.6 1069.0 873.9 1066.5 873.1 1064.1 872.3 1061.6 871.4 1059.2 870.4 1056.9 869.4 1054.5 868.3 1052.2 867.1 1050.0 865.8 1047.8 864.4 1045.7 862.9 1043.6 861.3 1041.7 859.6 1039.9 857.7 1038.1 855.8 1036.5 853.8 1035.0 851.7 1033.6 849.5 1032.2 847.2 1030.9 844.9 1029.7 842.6 1028.5 840.2 1027.6 837.7 1026.8 835.2 1026.3 832.7 1026.1 830.2 1026.1 827.6 1026.4 825.0 1026.8 822.4 1027.4 819.8 1028.1 817.3 1028.9 814.8 1029.7 812.3 1030.6 809.8 1031.5 807.4 1032.6 805.0 1033.7 802.7 1034.8 800.4 1036.1 798.1 1037.4 795.8 1038.8 793.6 1040.3 791.5 1041.8 789.4 1043.4 787.3 1045.1 785.3 1046.9 783.4 1048.8 781.6 1050.7 779.8 1052.7 778.1 1054.7 776.5 1056.9 775.0 1059.0 773.6 1061.3 772.2 1063.6 771.0 1065.9 769.9 1068.3 768.8 1070.7 767.9 1073.1 767.0 1075.6 766.2 1078.1 765.4 1080.7 764.7 1083.2 764.1 1085.7 763.6 1088.3 763.1 1090.9 762.6 1093.4 762.2M1094.8 881.0 1092.3 880.4 1089.9 879.7 1087.4 879.1 1084.9 878.5 1082.5 877.8 1080.0 877.2 1077.5 876.5 1075.1 875.8 1072.7 875.1 1070.3 874.3 1067.9 873.5 1065.5 872.6 1063.2 871.7 1060.9 870.7 1058.7 869.6 1056.4 868.4 1054.3 867.1 1052.2 865.7 1050.1 864.2 1048.2 862.6 1046.4 860.9 1044.6 859.1 1043.0 857.2 1041.5 855.2 1040.0 853.1 1038.6 851.0 1037.3 848.8 1036.1 846.5 1034.9 844.2 1033.9 841.9 1033.0 839.5 1032.4 837.1 1031.9 834.6 1031.8 832.1 1031.9 829.6 1032.3 827.1 1032.7 824.6 1033.4 822.1 1034.1 819.7 1034.8 817.2 1035.6 814.8 1036.5 812.5 1037.5 810.1 1038.5 807.8 1039.6 805.6 1040.7 803.3 1041.9 801.1 1043.2 799.0 1044.6 796.9 1046.1 794.8 1047.6 792.8 1049.2 790.8 1050.9 788.9 1052.6 787.1 1054.4 785.3 1056.3 783.6 1058.3 782.0 1060.3 780.5 1062.4 779.0 1064.5 777.7 1066.7 776.4 1068.9 775.3 1071.2 774.2 1073.5 773.2 1075.9 772.3 1078.3 771.4 1080.7 770.7 1083.1 770.0 1085.6 769.4 1088.0 768.8 1090.5 768.2 1093.0 767.8M1094.6 881.3 1092.2 880.7 1089.8 880.1 1087.4 879.4 1085.1 878.8 1082.7 878.2 1080.3 877.5 1078.0 876.8 1075.6 876.1 1073.3 875.3 1071.0 874.5 1068.8 873.6 1066.5 872.6 1064.3 871.6 1062.2 870.5 1060.1 869.3 1058.0 868.0 1056.0 866.6 1054.1 865.0 1052.3 863.4 1050.6 861.7 1049.0 859.9 1047.5 858.0 1046.0 856.0 1044.7 853.9 1043.4 851.8 1042.2 849.7 1041.0 847.4 1040.0 845.2 1039.1 842.9 1038.3 840.6 1037.9 838.2 1037.6 835.8 1037.7 833.4 1037.9 831.0 1038.4 828.5 1038.9 826.1 1039.6 823.7 1040.3 821.4 1041.1 819.0 1041.9 816.7 1042.8 814.5 1043.7 812.2 1044.8 810.0 1045.9 807.9 1047.0 805.7 1048.3 803.6 1049.6 801.5 1051.0 799.5 1052.4 797.5 1053.9 795.6 1055.5 793.8 1057.2 792.0 1058.9 790.2 1060.7 788.6 1062.6 787.0 1064.5 785.5 1066.5 784.1 1068.6 782.7 1070.7 781.5 1072.8 780.3 1075.0 779.2 1077.2 778.3 1079.5 777.3 1081.8 776.5 1084.1 775.8 1086.5 775.1 1088.9 774.4 1091.2 773.9 1093.6 773.3M1094.8 881.6 1092.4 881.1 1090.1 880.5 1087.8 879.9 1085.5 879.2 1083.3 878.6 1081.0 877.9 1078.7 877.1 1076.5 876.4 1074.3 875.5 1072.2 874.6 1070.0 873.6 1067.9 872.6 1065.9 871.4 1063.9 870.2 1061.9 868.9 1060.1 867.4 1058.3 865.9 1056.6 864.3 1055.0 862.5 1053.5 860.7 1052.1 858.8 1050.7 856.9 1049.5 854.9 1048.3 852.8 1047.1 850.7 1046.1 848.5 1045.2 846.3 1044.4 844.0 1043.9 841.8 1043.6 839.5 1043.5 837.1 1043.7 834.8 1044.1 832.4 1044.6 830.1 1045.2 827.8 1045.9 825.5 1046.6 823.2 1047.4 821.0 1048.2 818.8 1049.1 816.6 1050.1 814.5 1051.1 812.4 1052.2 810.3 1053.4 808.2 1054.6 806.2 1055.9 804.2 1057.3 802.3 1058.8 800.5 1060.3 798.6 1061.9 796.9 1063.5 795.2 1065.3 793.6 1067.1 792.0 1068.9 790.5 1070.8 789.1 1072.8 787.8 1074.8 786.6 1076.8 785.4 1078.9 784.3 1081.1 783.4 1083.3 782.5 1085.5 781.6 1087.7 780.9 1090.0 780.2 1092.3 779.6 1094.6 779.0M1094.5 881.9 1092.2 881.3 1090.0 880.7 1087.8 880.1 1085.6 879.4 1083.5 878.7 1081.3 877.9 1079.2 877.1 1077.1 876.3 1075.1 875.3 1073.0 874.3 1071.1 873.2 1069.1 872.0 1067.2 870.7 1065.4 869.3 1063.7 867.9 1062.1 866.3 1060.5 864.6 1059.1 862.9 1057.7 861.0 1056.4 859.1 1055.2 857.2 1054.1 855.2 1053.0 853.1 1052.0 851.1 1051.1 848.9 1050.3 846.8 1049.8 844.6 1049.5 842.4 1049.5 840.1 1049.7 837.8 1050.0 835.6 1050.5 833.3 1051.1 831.1 1051.7 828.8 1052.4 826.7 1053.2 824.5 1054.0 822.4 1054.9 820.3 1055.8 818.2 1056.8 816.2 1057.9 814.2 1059.0 812.2 1060.2 810.3 1061.5 808.4 1062.8 806.5 1064.2 804.7 1065.7 802.9 1067.2 801.2 1068.8 799.6 1070.5 798.0 1072.2 796.5 1074.0 795.1 1075.8 793.8 1077.7 792.5 1079.6 791.3 1081.6 790.2 1083.7 789.1 1085.7 788.2 1087.8 787.3 1090.0 786.5 1092.1 785.8 1094.3 785.1M1094.6 882.2 1092.4 881.6 1090.3 881.0 1088.2 880.3 1086.2 879.6 1084.1 878.8 1082.1 877.9 1080.1 877.0 1078.2 876.1 1076.3 875.0 1074.4 873.8 1072.6 872.6 1070.9 871.3 1069.2 869.8 1067.6 868.3 1066.2 866.7 1064.8 865.0 1063.4 863.3 1062.2 861.4 1061.0 859.6 1059.9 857.6 1058.9 855.7 1057.9 853.6 1057.0 851.6 1056.3 849.5 1055.8 847.4 1055.5 845.3 1055.5 843.1 1055.7 840.9 1056.0 838.7 1056.5 836.5 1057.0 834.4 1057.7 832.3 1058.3 830.1 1059.1 828.1 1059.8 826.0 1060.7 824.0 1061.6 822.0 1062.6 820.1 1063.6 818.1 1064.7 816.2 1065.8 814.3 1067.0 812.5 1068.3 810.7 1069.7 809.0 1071.1 807.3 1072.6 805.7 1074.1 804.1 1075.7 802.6 1077.4 801.1 1079.1 799.7 1080.9 798.4 1082.7 797.2 1084.6 796.1 1086.5 795.0 1088.4 794.0 1090.4 793.1 1092.5 792.3 1094.5 791.5M1094.4 882.3 1092.4 881.7 1090.4 880.9 1088.5 880.2 1086.5 879.3 1084.7 878.5 1082.8 877.5 1081.0 876.4 1079.2 875.3 1077.5 874.1 1075.8 872.8 1074.2 871.4 1072.8 869.9 1071.4 868.3 1070.1 866.7 1068.8 864.9 1067.7 863.2 1066.5 861.3 1065.5 859.5 1064.5 857.6 1063.6 855.6 1062.8 853.6 1062.2 851.6 1061.8 849.6 1061.6 847.5 1061.6 845.4 1061.8 843.3 1062.2 841.2 1062.7 839.1 1063.3 837.1 1063.9 835.0 1064.5 833.0 1065.3 831.0 1066.0 829.1 1066.9 827.1 1067.7 825.2 1068.7 823.3 1069.7 821.5 1070.8 819.7 1071.9 817.9 1073.1 816.1 1074.3 814.4 1075.7 812.8 1077.0 811.2 1078.5 809.6 1080.0 808.1 1081.5 806.7 1083.2 805.3 1084.8 804.0 1086.6 802.8 1088.3 801.6 1090.1 800.5 1092.0 799.5 1093.9 798.6M1094.8 882.4 1092.9 881.6 1091.1 880.8 1089.3 879.9 1087.5 879.0 1085.8 877.9 1084.1 876.8 1082.4 875.6 1080.9 874.3 1079.4 872.9 1078.0 871.5 1076.7 870.0 1075.5 868.4 1074.3 866.7 1073.2 865.0 1072.2 863.2 1071.2 861.4 1070.2 859.5 1069.4 857.7 1068.7 855.8 1068.2 853.8 1067.8 851.8 1067.7 849.9 1067.8 847.8 1068.1 845.8 1068.5 843.8 1069.0 841.8 1069.5 839.8 1070.1 837.9 1070.8 836.0 1071.5 834.1 1072.3 832.2 1073.1 830.3 1073.9 828.5 1074.9 826.7 1075.9 825.0 1076.9 823.2 1078.0 821.5 1079.2 819.9 1080.4 818.2 1081.7 816.7 1083.0 815.1 1084.4 813.7 1085.9 812.3 1087.4 810.9 1089.0 809.6 1090.6 808.4 1092.3 807.2 1094.0 806.1M1094.6 881.7 1092.9 880.8 1091.2 879.8 1089.6 878.7 1088.0 877.6 1086.5 876.3 1085.1 875.0 1083.8 873.6 1082.5 872.2 1081.4 870.6 1080.2 869.0 1079.2 867.4 1078.2 865.7 1077.2 864.0 1076.3 862.2 1075.5 860.4 1074.9 858.6 1074.4 856.7 1074.0 854.8 1073.9 852.9 1074.0 851.0 1074.3 849.1 1074.7 847.1 1075.1 845.2 1075.7 843.3 1076.3 841.5 1076.9 839.6 1077.6 837.8 1078.3 836.0 1079.1 834.2 1079.9 832.5 1080.8 830.8 1081.7 829.1 1082.7 827.4 1083.8 825.8 1084.9 824.2 1086.1 822.7 1087.3 821.1 1088.6 819.7 1089.9 818.3 1091.3 816.9 1092.8 815.6 1094.3 814.4M1094.7 880.3 1093.2 879.2 1091.8 878.0 1090.5 876.7 1089.2 875.3 1088.0 873.9 1086.9 872.4 1085.9 870.9 1084.9 869.3 1084.0 867.7 1083.1 866.0 1082.2 864.3 1081.5 862.6 1080.9 860.8 1080.5 859.0 1080.3 857.2 1080.2 855.4 1080.4 853.6 1080.7 851.7 1081.1 849.9 1081.5 848.1 1082.1 846.3 1082.6 844.5 1083.2 842.7 1083.9 841.0 1084.6 839.3 1085.4 837.6 1086.2 836.0 1087.1 834.3 1088.0 832.7 1088.9 831.1 1090.0 829.6 1091.1 828.1 1092.2 826.6 1093.4 825.2 1094.6 823.8M1094.8 877.1 1093.7 875.7 1092.6 874.3 1091.7 872.8 1090.7 871.3 1089.9 869.7 1089.0 868.1 1088.3 866.5 1087.6 864.9 1087.1 863.2 1086.7 861.5 1086.6 859.7 1086.6 858.0 1086.8 856.2 1087.1 854.5 1087.5 852.7 1088.0 851.0 1088.5 849.3 1089.1 847.6 1089.7 845.9 1090.3 844.3 1091.0 842.7 1091.7 841.1 1092.5 839.5 1093.4 838.0 1094.3 836.5M1094.8 869.8 1094.2 868.3 1093.6 866.7 1093.2 865.1 1093.0 863.4 1093.0 861.8 1093.1 860.1 1093.4 858.4 1093.7 856.8 1094.2 855.1 1094.6 853.5M959.3 836.9 958.2 836.5 957.3 836.1 956.7 836.0 956.2 835.9 955.9 836.0 955.7 836.2 955.8 836.5 956.0 836.8 956.3 837.3 956.9 837.9 957.6 838.6 958.4 839.3 959.4 840.2 960.5 841.1 961.8 842.0 963.2 843.1 964.7 844.2 966.3 845.3 968.1 846.5 970.0 847.8 972.0 849.1 974.1 850.4 976.3 851.8 978.6 853.1 981.0 854.5 983.5 855.9 986.1 857.4 988.8 858.8 991.5 860.2 994.4 861.6 997.3 863.1 1000.2 864.4 1003.3 865.8 1006.3 867.2 1009.5 868.5 1012.7 869.8 1015.9 871.1 1019.2 872.3 1022.5 873.4 1025.8 874.6 1029.2 875.6 1032.6 876.6 1036.0 877.5 1039.4 878.4 1042.9 879.1 1046.3 879.8 1049.8 880.4 1053.3 880.9 1056.7 881.3 1060.1 881.6 1063.6 881.8 1067.0 881.9 1070.4 881.9 1073.7 881.8 1077.1 881.5 1080.4 881.1 1083.6 880.5 1086.8 879.8 1090.0 879.0M959.3 836.9 958.2 836.5 957.4 836.1 956.7 835.9 956.2 835.9 955.9 835.9 955.8 836.0 955.9 836.2 956.1 836.5 956.5 837.0 957.0 837.5 957.7 838.0 958.6 838.7 959.6 839.4 960.7 840.2 962.0 841.0 963.4 842.0 964.9 842.9 966.6 843.9 968.4 845.0 970.3 846.1 972.3 847.3 974.4 848.4 976.6 849.6 979.0 850.8 981.4 852.1 983.9 853.3 986.5 854.6 989.2 855.9 991.9 857.1 994.8 858.4 997.7 859.7 1000.6 860.9 1003.7 862.1 1006.7 863.3 1009.9 864.5 1013.1 865.6 1016.3 866.8 1019.6 867.8 1022.9 868.9 1026.2 869.8 1029.6 870.8 1033.0 871.6 1036.4 872.4 1039.8 873.2 1043.2 873.8 1046.7 874.4 1050.1 874.9 1053.6 875.4 1057.0 875.7 1060.4 875.9 1063.8 876.1 1067.2 876.1 1070.6 876.1 1073.9 875.9 1077.2 875.6 1080.5 875.2 1083.7 874.7 1086.9 874.0 1090.0 873.2M958.0 836.3 956.9 835.9 956.1 835.5 955.4 835.3 955.0 835.2 954.7 835.2 954.6 835.2 954.7 835.4 954.9 835.6 955.3 836.0 955.9 836.4 956.6 836.9 957.5 837.5 958.5 838.1 959.6 838.8 960.9 839.6 962.4 840.4 963.9 841.2 965.6 842.2 967.4 843.1 969.4 844.1 971.4 845.1 973.6 846.2 975.8 847.3 978.2 848.4 980.6 849.5 983.2 850.6 985.8 851.8 988.5 852.9 991.3 854.1 994.1 855.2 997.1 856.4 1000.1 857.5 1003.1 858.6 1006.3 859.7 1009.4 860.8 1012.6 861.8 1015.9 862.8 1019.2 863.8 1022.5 864.7 1025.9 865.6 1029.3 866.4 1032.7 867.2 1036.1 867.9 1039.6 868.6 1043.0 869.2 1046.5 869.7 1050.0 870.1 1053.4 870.5 1056.9 870.8 1060.3 871.0 1063.7 871.1 1067.1 871.1 1070.5 871.0 1073.9 870.8 1077.2 870.5 1080.4 870.1 1083.7 869.6 1086.9 868.9 1090.0 868.2M956.7 835.7 955.7 835.3 954.8 834.9 954.2 834.6 953.7 834.5 953.5 834.4 953.4 834.4 953.5 834.5 953.7 834.7 954.1 835.0 954.7 835.4 955.4 835.8 956.3 836.3 957.4 836.8 958.6 837.4 959.9 838.1 961.3 838.8 962.9 839.6 964.6 840.4 966.5 841.3 968.4 842.1 970.5 843.1 972.7 844.0 975.0 845.0 977.3 846.0 979.8 847.0 982.4 848.0 985.0 849.1 987.8 850.1 990.6 851.1 993.5 852.2 996.5 853.2 999.5 854.2 1002.6 855.2 1005.7 856.2 1008.9 857.2 1012.2 858.1 1015.5 859.0 1018.8 859.9 1022.1 860.7 1025.5 861.5 1029.0 862.3 1032.4 863.0 1035.9 863.6 1039.3 864.2 1042.8 864.7 1046.3 865.2 1049.8 865.6 1053.3 865.9 1056.7 866.1 1060.2 866.3 1063.6 866.3 1067.1 866.3 1070.4 866.2 1073.8 866.0 1077.1 865.7 1080.4 865.3 1083.7 864.8 1086.9 864.1 1090.0 863.4M955.4 835.1 954.4 834.6 953.6 834.3 952.9 834.0 952.5 833.8 952.2 833.7 952.1 833.6 952.2 833.7 952.5 833.8 952.9 834.0 953.5 834.3 954.3 834.7 955.2 835.1 956.3 835.5 957.5 836.1 958.8 836.7 960.3 837.3 961.9 838.0 963.6 838.7 965.5 839.4 967.5 840.2 969.6 841.0 971.8 841.9 974.1 842.8 976.5 843.6 979.0 844.6 981.6 845.5 984.3 846.4 987.0 847.3 989.9 848.3 992.8 849.2 995.8 850.1 998.9 851.0 1002.0 851.9 1005.2 852.8 1008.4 853.7 1011.7 854.5 1015.0 855.3 1018.3 856.1 1021.7 856.9 1025.1 857.6 1028.6 858.2 1032.1 858.9 1035.5 859.4 1039.0 860.0 1042.5 860.4 1046.1 860.8 1049.6 861.1 1053.1 861.4 1056.6 861.6 1060.0 861.7 1063.5 861.8 1066.9 861.7 1070.4 861.6 1073.7 861.4 1077.1 861.0 1080.4 860.6 1083.6 860.1 1086.8 859.5 1090.0 858.8M952.9 833.9 951.9 833.4 951.1 832.9 950.4 832.6 950.0 832.3 949.7 832.2 949.7 832.1 949.8 832.1 950.1 832.2 950.5 832.3 951.1 832.5 951.9 832.8 952.9 833.2 953.9 833.6 955.2 834.0 956.6 834.5 958.1 835.1 959.7 835.7 961.5 836.3 963.4 837.0 965.4 837.7 967.6 838.4 969.8 839.2 972.2 840.0 974.6 840.8 977.2 841.6 979.8 842.5 982.5 843.3 985.4 844.2 988.3 845.0 991.2 845.9 994.3 846.7 997.4 847.6 1000.6 848.4 1003.8 849.2 1007.1 850.0 1010.4 850.8 1013.8 851.5 1017.2 852.2 1020.7 852.9 1024.1 853.6 1027.6 854.2 1031.2 854.7 1034.7 855.2 1038.3 855.7 1041.8 856.1 1045.4 856.5 1049.0 856.8 1052.5 857.0 1056.1 857.2 1059.6 857.3 1063.1 857.3 1066.6 857.2 1070.1 857.1 1073.5 856.8 1076.9 856.5 1080.2 856.1 1083.5 855.6 1086.8 855.0 1090.0 854.3M951.7 833.2 950.6 832.7 949.8 832.2 949.2 831.9 948.8 831.6 948.5 831.4 948.5 831.2 948.6 831.2 948.9 831.2 949.4 831.3 950.0 831.4 950.8 831.6 951.7 831.9 952.8 832.2 954.1 832.6 955.5 833.0 957.0 833.5 958.7 834.0 960.5 834.6 962.4 835.1 964.4 835.8 966.6 836.4 968.9 837.1 971.3 837.8 973.7 838.5 976.3 839.2 979.0 839.9 981.7 840.7 984.6 841.4 987.5 842.2 990.5 843.0 993.6 843.7 996.7 844.5 999.9 845.2 1003.2 845.9 1006.5 846.6 1009.9 847.3 1013.3 848.0 1016.7 848.6 1020.2 849.2 1023.7 849.8 1027.2 850.3 1030.8 850.8 1034.3 851.2 1037.9 851.6 1041.5 852.0 1045.1 852.3 1048.7 852.5 1052.3 852.7 1055.9 852.8 1059.4 852.9 1062.9 852.9 1066.5 852.8 1069.9 852.6 1073.4 852.4 1076.8 852.1 1080.2 851.6 1083.5 851.1 1086.8 850.5 1090.0 849.9M949.2 831.9 948.2 831.3 947.4 830.8 946.7 830.4 946.3 830.0 946.1 829.8 946.0 829.6 946.2 829.5 946.5 829.4 947.0 829.5 947.6 829.5 948.5 829.7 949.4 829.9 950.6 830.2 951.8 830.5 953.3 830.8 954.8 831.2 956.5 831.6 958.4 832.1 960.3 832.6 962.4 833.2 964.6 833.7 966.9 834.3 969.4 835.0 971.9 835.6 974.5 836.2 977.2 836.9 980.0 837.6 982.9 838.3 985.9 839.0 989.0 839.6 992.1 840.3 995.3 841.0 998.5 841.7 1001.8 842.3 1005.2 843.0 1008.6 843.6 1012.1 844.2 1015.6 844.7 1019.1 845.3 1022.7 845.8 1026.2 846.3 1029.9 846.7 1033.5 847.1 1037.1 847.5 1040.8 847.8 1044.4 848.1 1048.1 848.3 1051.7 848.4 1055.3 848.5 1058.9 848.6 1062.5 848.5 1066.1 848.4 1069.6 848.3 1073.1 848.0 1076.6 847.7 1080.0 847.3 1083.4 846.8 1086.7 846.2 1090.0 845.5M948.0 831.2 947.0 830.6 946.2 830.0 945.5 829.6 945.1 829.2 944.9 828.9 944.9 828.7 945.0 828.5 945.3 828.4 945.8 828.4 946.5 828.4 947.3 828.5 948.3 828.6 949.5 828.8 950.8 829.0 952.2 829.3 953.8 829.6 955.5 830.0 957.4 830.3 959.3 830.8 961.5 831.2 963.7 831.7 966.0 832.2 968.5 832.7 971.0 833.3 973.6 833.8 976.4 834.4 979.2 835.0 982.1 835.6 985.1 836.2 988.2 836.8 991.4 837.3 994.6 837.9 997.9 838.5 1001.2 839.1 1004.6 839.6 1008.0 840.2 1011.5 840.7 1015.0 841.2 1018.6 841.6 1022.2 842.1 1025.8 842.5 1029.4 842.9 1033.1 843.2 1036.8 843.5 1040.4 843.8 1044.1 844.0 1047.8 844.1 1051.4 844.3 1055.1 844.3 1058.7 844.3 1062.3 844.3 1065.9 844.1 1069.5 843.9 1073.0 843.7 1076.5 843.4 1080.0 842.9 1083.4 842.5 1086.7 841.9 1090.0 841.3M945.6 829.7 944.6 829.1 943.7 828.5 943.1 828.0 942.7 827.6 942.5 827.2 942.5 826.9 942.7 826.7 943.0 826.5 943.5 826.4 944.2 826.4 945.1 826.4 946.1 826.5 947.3 826.6 948.6 826.7 950.1 827.0 951.7 827.2 953.4 827.5 955.3 827.8 957.3 828.2 959.5 828.5 961.7 829.0 964.1 829.4 966.6 829.8 969.2 830.3 971.9 830.8 974.7 831.3 977.5 831.8 980.5 832.3 983.6 832.9 986.7 833.4 989.9 833.9 993.1 834.5 996.5 835.0 999.9 835.5 1003.3 836.0 1006.8 836.5 1010.3 836.9 1013.9 837.4 1017.5 837.8 1021.2 838.2 1024.8 838.5 1028.5 838.9 1032.2 839.2 1035.9 839.4 1039.7 839.7 1043.4 839.8 1047.1 840.0 1050.8 840.1 1054.6 840.1 1058.3 840.1 1061.9 840.0 1065.6 839.9 1069.2 839.7 1072.8 839.4 1076.3 839.1 1079.8 838.7 1083.3 838.2 1086.7 837.7 1090.0 837.0M943.2 828.2 942.2 827.5 941.4 826.9 940.8 826.3 940.4 825.8 940.2 825.4 940.2 825.1 940.4 824.8 940.7 824.6 941.3 824.4 942.0 824.3 942.9 824.3 943.9 824.3 945.1 824.3 946.5 824.4 948.0 824.5 949.6 824.7 951.4 824.9 953.3 825.2 955.4 825.5 957.6 825.8 959.9 826.1 962.3 826.5 964.8 826.9 967.4 827.3 970.2 827.7 973.0 828.2 975.9 828.6 978.9 829.1 982.0 829.5 985.2 830.0 988.4 830.5 991.7 830.9 995.1 831.4 998.6 831.9 1002.0 832.3 1005.6 832.7 1009.2 833.1 1012.8 833.5 1016.5 833.9 1020.2 834.3 1023.9 834.6 1027.6 834.9 1031.4 835.1 1035.1 835.4 1038.9 835.6 1042.7 835.7 1046.5 835.8 1050.3 835.9 1054.0 835.9 1057.8 835.9 1061.5 835.8 1065.2 835.6 1068.9 835.4 1072.5 835.2 1076.1 834.9 1079.7 834.5 1083.2 834.0 1086.6 833.5 1090.0 832.9M942.0 827.4 941.0 826.7 940.2 826.0 939.6 825.4 939.3 824.9 939.1 824.4 939.1 824.0 939.3 823.7 939.6 823.4 940.2 823.2 940.9 823.0 941.8 822.9 942.9 822.9 944.1 822.8 945.4 822.9 947.0 822.9 948.6 823.0 950.4 823.2 952.4 823.3 954.4 823.5 956.6 823.8 958.9 824.0 961.4 824.3 963.9 824.6 966.6 824.9 969.3 825.3 972.2 825.6 975.1 826.0 978.1 826.4 981.3 826.7 984.5 827.1 987.7 827.5 991.1 827.9 994.5 828.3 997.9 828.6 1001.4 829.0 1005.0 829.3 1008.6 829.7 1012.3 830.0 1015.9 830.3 1019.7 830.6 1023.4 830.9 1027.2 831.1 1031.0 831.3 1034.8 831.5 1038.6 831.6 1042.4 831.7 1046.2 831.8 1050.0 831.8 1053.8 831.8 1057.5 831.7 1061.3 831.6 1065.0 831.5 1068.7 831.3 1072.4 831.0 1076.0 830.7 1079.6 830.3 1083.1 829.8 1086.6 829.3 1090.0 828.7M939.7 825.7 938.7 825.0 938.0 824.2 937.4 823.6 937.0 823.0 936.8 822.5 936.9 822.1 937.1 821.7 937.5 821.3 938.0 821.0 938.8 820.8 939.7 820.6 940.8 820.5 942.0 820.4 943.4 820.4 945.0 820.4 946.7 820.4 948.5 820.5 950.5 820.6 952.6 820.7 954.8 820.9 957.1 821.1 959.6 821.3 962.2 821.6 964.9 821.8 967.7 822.1 970.6 822.4 973.5 822.7 976.6 823.0 979.8 823.3 983.0 823.7 986.3 824.0 989.7 824.3 993.2 824.7 996.7 825.0 1000.2 825.3 1003.8 825.6 1007.5 825.9 1011.2 826.2 1014.9 826.4 1018.7 826.7 1022.5 826.9 1026.3 827.1 1030.1 827.3 1034.0 827.4 1037.8 827.5 1041.7 827.6 1045.6 827.7 1049.4 827.7 1053.2 827.7 1057.1 827.6 1060.9 827.5 1064.7 827.3 1068.4 827.1 1072.1 826.8 1075.8 826.5 1079.4 826.1 1083.0 825.7 1086.5 825.2 1090.0 824.6M937.5 824.0 936.5 823.2 935.8 822.4 935.2 821.7 934.8 821.1 934.7 820.5 934.7 820.0 935.0 819.5 935.4 819.1 936.0 818.8 936.8 818.5 937.7 818.3 938.8 818.1 940.1 817.9 941.5 817.8 943.1 817.8 944.8 817.7 946.7 817.8 948.7 817.8 950.8 817.9 953.1 818.0 955.4 818.1 957.9 818.3 960.6 818.5 963.3 818.7 966.1 818.9 969.0 819.1 972.1 819.4 975.2 819.6 978.4 819.9 981.6 820.2 985.0 820.4 988.4 820.7 991.9 821.0 995.5 821.3 999.1 821.6 1002.7 821.8 1006.4 822.1 1010.2 822.3 1013.9 822.5 1017.8 822.8 1021.6 822.9 1025.5 823.1 1029.3 823.3 1033.2 823.4 1037.1 823.5 1041.0 823.5 1044.9 823.6 1048.8 823.6 1052.7 823.5 1056.6 823.5 1060.5 823.3 1064.3 823.2 1068.1 822.9 1071.9 822.7 1075.6 822.4 1079.3 822.0 1082.9 821.6 1086.5 821.1 1090.0 820.6M935.3 822.2 934.4 821.3 933.6 820.5 933.1 819.7 932.8 819.0 932.6 818.4 932.7 817.8 933.0 817.3 933.4 816.9 934.0 816.5 934.8 816.1 935.8 815.8 936.9 815.6 938.2 815.3 939.7 815.2 941.3 815.1 943.0 815.0 944.9 814.9 947.0 814.9 949.1 814.9 951.4 815.0 953.8 815.1 956.4 815.2 959.0 815.3 961.8 815.4 964.6 815.6 967.6 815.8 970.7 816.0 973.8 816.2 977.0 816.4 980.3 816.6 983.7 816.9 987.2 817.1 990.7 817.3 994.3 817.6 998.0 817.8 1001.7 818.0 1005.4 818.2 1009.2 818.4 1013.0 818.6 1016.9 818.8 1020.7 819.0 1024.7 819.1 1028.6 819.2 1032.5 819.3 1036.5 819.4 1040.4 819.5 1044.4 819.5 1048.3 819.5 1052.2 819.4 1056.2 819.3 1060.1 819.2 1063.9 819.0 1067.8 818.8 1071.6 818.6 1075.4 818.3 1079.1 817.9 1082.8 817.5 1086.4 817.1 1090.0 816.5M933.3 820.3 932.3 819.3 931.6 818.5 931.1 817.6 930.8 816.9 930.7 816.2 930.8 815.6 931.0 815.0 931.5 814.5 932.2 814.0 933.0 813.6 934.0 813.3 935.1 812.9 936.5 812.7 938.0 812.5 939.6 812.3 941.4 812.1 943.3 812.0 945.4 812.0 947.5 811.9 949.9 811.9 952.3 811.9 954.9 812.0 957.6 812.1 960.4 812.1 963.3 812.3 966.2 812.4 969.3 812.5 972.5 812.7 975.8 812.9 979.1 813.0 982.6 813.2 986.1 813.4 989.6 813.6 993.2 813.8 996.9 814.0 1000.7 814.2 1004.4 814.4 1008.3 814.5 1012.1 814.7 1016.0 814.9 1019.9 815.0 1023.9 815.1 1027.9 815.2 1031.8 815.3 1035.8 815.4 1039.8 815.4 1043.8 815.4 1047.8 815.4 1051.8 815.3 1055.7 815.2 1059.7 815.1 1063.6 814.9 1067.5 814.7 1071.4 814.5 1075.2 814.2 1079.0 813.8 1082.7 813.5 1086.4 813.0 1090.0 812.5M931.2 818.3 930.3 817.3 929.6 816.4 929.2 815.5 928.9 814.7 928.8 813.9 928.9 813.3 929.2 812.6 929.7 812.1 930.4 811.5 931.3 811.1 932.3 810.7 933.5 810.3 934.8 810.0 936.3 809.7 938.0 809.4 939.8 809.2 941.8 809.1 943.8 809.0 946.1 808.9 948.4 808.8 950.9 808.8 953.5 808.8 956.2 808.8 959.0 808.8 962.0 808.9 965.0 809.0 968.1 809.1 971.3 809.2 974.6 809.3 978.0 809.4 981.5 809.6 985.0 809.7 988.6 809.9 992.2 810.0 995.9 810.2 999.7 810.3 1003.5 810.5 1007.4 810.6 1011.3 810.8 1015.2 810.9 1019.2 811.0 1023.2 811.1 1027.2 811.2 1031.2 811.3 1035.2 811.3 1039.2 811.3 1043.3 811.3 1047.3 811.3 1051.3 811.2 1055.3 811.1 1059.3 811.0 1063.3 810.8 1067.2 810.6 1071.1 810.4 1075.0 810.1 1078.8 809.8 1082.6 809.4 1086.3 809.0 1090.0 808.6M930.3 817.3 929.4 816.3 928.7 815.3 928.2 814.4 928.0 813.5 927.9 812.7 928.0 812.0 928.4 811.3 928.9 810.7 929.5 810.1 930.4 809.6 931.4 809.1 932.7 808.7 934.0 808.3 935.5 807.9 937.2 807.6 939.0 807.4 941.0 807.1 943.1 806.9 945.3 806.8 947.7 806.6 950.2 806.5 952.8 806.4 955.5 806.4 958.4 806.3 961.3 806.3 964.3 806.3 967.5 806.3 970.7 806.4 974.0 806.4 977.4 806.5 980.9 806.5 984.4 806.6 988.0 806.7 991.7 806.8 995.4 806.9 999.2 807.0 1003.1 807.0 1006.9 807.1 1010.9 807.2 1014.8 807.3 1018.8 807.3 1022.8 807.4 1026.8 807.4 1030.8 807.4 1034.9 807.4 1038.9 807.4 1043.0 807.4 1047.0 807.3 1051.1 807.2 1055.1 807.1 1059.1 807.0 1063.1 806.8 1067.1 806.6 1071.0 806.4 1074.9 806.1 1078.7 805.8 1082.6 805.4 1086.3 805.0 1090.0 804.6M927.5 814.1 926.6 813.0 926.0 812.0 925.6 811.0 925.3 810.1 925.3 809.3 925.5 808.5 925.9 807.7 926.4 807.0 927.1 806.4 928.0 805.8 929.1 805.3 930.4 804.8 931.8 804.4 933.3 804.0 935.0 803.7 936.9 803.4 938.9 803.1 941.1 802.9 943.3 802.7 945.7 802.5 948.3 802.4 950.9 802.2 953.7 802.2 956.6 802.1 959.6 802.1 962.6 802.1 965.8 802.1 969.1 802.1 972.4 802.1 975.9 802.2 979.4 802.2 983.0 802.3 986.6 802.4 990.4 802.5 994.1 802.6 998.0 802.7 1001.8 802.7 1005.8 802.8 1009.7 802.9 1013.7 803.0 1017.8 803.1 1021.8 803.1 1025.9 803.2 1030.0 803.2 1034.1 803.2 1038.2 803.2 1042.3 803.2 1046.4 803.1 1050.5 803.1 1054.6 803.0 1058.6 802.9 1062.7 802.7 1066.7 802.5 1070.7 802.3 1074.6 802.1 1078.6 801.8 1082.4 801.5 1086.2 801.1 1090.0 800.7M925.7 812.0 924.9 810.8 924.3 809.7 923.9 808.7 923.7 807.7 923.7 806.8 923.9 806.0 924.3 805.2 924.8 804.5 925.6 803.8 926.5 803.2 927.6 802.6 928.9 802.0 930.3 801.6 931.9 801.1 933.7 800.7 935.6 800.4 937.6 800.0 939.8 799.8 942.1 799.5 944.5 799.3 947.1 799.1 949.7 799.0 952.5 798.8 955.4 798.7 958.4 798.7 961.5 798.6 964.7 798.6 968.0 798.5 971.4 798.5 974.9 798.5 978.4 798.6 982.1 798.6 985.7 798.6 989.5 798.7 993.3 798.7 997.1 798.8 1001.1 798.9 1005.0 798.9 1009.0 799.0 1013.0 799.0 1017.1 799.1 1021.2 799.1 1025.3 799.1 1029.4 799.2 1033.5 799.2 1037.7 799.2 1041.8 799.1 1046.0 799.1 1050.1 799.0 1054.2 798.9 1058.3 798.8 1062.4 798.7 1066.5 798.5 1070.5 798.3 1074.5 798.1 1078.4 797.8 1082.3 797.5 1086.2 797.2 1090.0 796.8M924.0 809.7 923.2 808.5 922.6 807.4 922.3 806.3 922.1 805.3 922.1 804.3 922.3 803.5 922.8 802.6 923.4 801.8 924.1 801.1 925.1 800.4 926.2 799.8 927.5 799.2 929.0 798.7 930.6 798.2 932.3 797.8 934.3 797.4 936.3 797.0 938.5 796.7 940.8 796.4 943.3 796.1 945.9 795.9 948.6 795.7 951.4 795.5 954.3 795.3 957.4 795.2 960.5 795.1 963.7 795.0 967.0 795.0 970.5 794.9 973.9 794.9 977.5 794.9 981.2 794.9 984.9 794.9 988.6 794.9 992.5 794.9 996.4 795.0 1000.3 795.0 1004.3 795.0 1008.3 795.1 1012.4 795.1 1016.4 795.1 1020.6 795.1 1024.7 795.2 1028.9 795.2 1033.0 795.1 1037.2 795.1 1041.4 795.1 1045.5 795.0 1049.7 795.0 1053.9 794.9 1058.0 794.8 1062.1 794.6 1066.2 794.5 1070.3 794.3 1074.3 794.1 1078.3 793.8 1082.3 793.6 1086.2 793.2 1090.0 792.9M922.4 807.4 921.6 806.2 921.0 805.0 920.7 803.9 920.6 802.8 920.6 801.8 920.9 800.9 921.3 800.0 921.9 799.2 922.7 798.4 923.7 797.7 924.9 797.0 926.2 796.4 927.7 795.8 929.3 795.3 931.1 794.8 933.0 794.3 935.1 793.9 937.3 793.5 939.7 793.2 942.1 792.9 944.8 792.6 947.5 792.4 950.3 792.1 953.3 791.9 956.3 791.8 959.5 791.6 962.7 791.5 966.1 791.4 969.5 791.3 973.0 791.3 976.6 791.2 980.3 791.2 984.0 791.1 987.8 791.1 991.7 791.1 995.6 791.1 999.6 791.1 1003.6 791.1 1007.6 791.1 1011.7 791.2 1015.8 791.2 1020.0 791.2 1024.1 791.2 1028.3 791.1 1032.5 791.1 1036.7 791.1 1040.9 791.1 1045.1 791.0 1049.3 790.9 1053.5 790.9 1057.7 790.7 1061.9 790.6 1066.0 790.5 1070.1 790.3 1074.2 790.1 1078.2 789.9 1082.2 789.6 1086.1 789.3 1090.0 789.0M920.8 805.0 920.0 803.8 919.5 802.5 919.2 801.4 919.1 800.3 919.2 799.3 919.4 798.3 919.9 797.4 920.5 796.5 921.4 795.7 922.4 794.9 923.5 794.2 924.9 793.5 926.4 792.9 928.0 792.3 929.9 791.8 931.8 791.3 933.9 790.8 936.2 790.4 938.5 790.0 941.0 789.6 943.7 789.3 946.4 789.0 949.3 788.8 952.3 788.5 955.3 788.3 958.5 788.1 961.8 788.0 965.2 787.8 968.6 787.7 972.2 787.6 975.8 787.5 979.5 787.5 983.2 787.4 987.0 787.4 990.9 787.3 994.9 787.3 998.9 787.3 1002.9 787.2 1007.0 787.2 1011.1 787.2 1015.2 787.2 1019.4 787.2 1023.6 787.2 1027.8 787.2 1032.0 787.1 1036.3 787.1 1040.5 787.0 1044.7 787.0 1049.0 786.9 1053.2 786.8 1057.4 786.7 1061.6 786.6 1065.8 786.5 1069.9 786.3 1074.0 786.1 1078.1 785.9 1082.1 785.7 1086.1 785.5 1090.0 785.2M919.3 802.6 918.5 801.3 918.0 800.1 917.7 798.9 917.6 797.7 917.7 796.7 918.0 795.7 918.5 794.7 919.2 793.8 920.1 792.9 921.1 792.1 922.3 791.3 923.6 790.6 925.2 790.0 926.8 789.3 928.7 788.8 930.7 788.2 932.8 787.7 935.0 787.2 937.4 786.8 940.0 786.4 942.6 786.0 945.4 785.7 948.3 785.4 951.3 785.1 954.4 784.9 957.6 784.6 960.9 784.4 964.3 784.3 967.7 784.1 971.3 784.0 974.9 783.8 978.7 783.7 982.4 783.7 986.3 783.6 990.2 783.5 994.2 783.4 998.2 783.4 1002.2 783.4 1006.3 783.3 1010.5 783.3 1014.7 783.3 1018.9 783.2 1023.1 783.2 1027.3 783.2 1031.6 783.1 1035.8 783.1 1040.1 783.0 1044.4 783.0 1048.6 782.9 1052.9 782.8 1057.1 782.7 1061.3 782.6 1065.5 782.5 1069.7 782.4 1073.9 782.2 1078.0 782.0 1082.0 781.8 1086.0 781.6 1090.0 781.3M917.8 800.2 917.1 798.8 916.6 797.5 916.3 796.3 916.3 795.1 916.4 794.0 916.7 793.0 917.2 792.0 917.9 791.0 918.8 790.1 919.8 789.3 921.0 788.5 922.4 787.7 924.0 787.0 925.7 786.3 927.5 785.7 929.5 785.1 931.7 784.6 934.0 784.1 936.4 783.6 938.9 783.2 941.6 782.7 944.4 782.4 947.3 782.0 950.3 781.7 953.4 781.4 956.7 781.2 960.0 780.9 963.4 780.7 966.9 780.5 970.5 780.3 974.1 780.2 977.9 780.0 981.7 779.9 985.6 779.8 989.5 779.7 993.5 779.6 997.5 779.5 1001.6 779.5 1005.7 779.4 1009.9 779.4 1014.1 779.3 1018.3 779.3 1022.6 779.2 1026.8 779.2 1031.1 779.1 1035.4 779.1 1039.7 779.0 1044.0 779.0 1048.3 778.9 1052.6 778.8 1056.9 778.7 1061.1 778.7 1065.3 778.5 1069.5 778.4 1073.7 778.3 1077.9 778.1 1081.9 777.9 1086.0 777.8 1090.0 777.5M916.4 797.7 915.7 796.3 915.2 795.0 915.0 793.7 914.9 792.5 915.1 791.4 915.4 790.3 915.9 789.3 916.7 788.3 917.5 787.3 918.6 786.4 919.8 785.6 921.3 784.8 922.8 784.0 924.5 783.3 926.4 782.7 928.4 782.0 930.6 781.4 932.9 780.9 935.3 780.4 937.9 779.9 940.6 779.4 943.4 779.0 946.3 778.6 949.4 778.3 952.5 778.0 955.8 777.6 959.1 777.4 962.5 777.1 966.1 776.9 969.7 776.7 973.3 776.5 977.1 776.3 980.9 776.2 984.8 776.0 988.8 775.9 992.8 775.8 996.9 775.7 1001.0 775.6 1005.1 775.5 1009.3 775.4 1013.5 775.4 1017.8 775.3 1022.1 775.3 1026.4 775.2 1030.7 775.2 1035.0 775.1 1039.3 775.0 1043.6 775.0 1048.0 774.9 1052.3 774.8 1056.6 774.8 1060.9 774.7 1065.1 774.6 1069.4 774.5 1073.6 774.4 1077.7 774.2 1081.9 774.1 1086.0 773.9 1090.0 773.7M914.3 793.9 913.7 792.4 913.3 791.1 913.1 789.8 913.0 788.6 913.2 787.4 913.6 786.3 914.2 785.2 914.9 784.2 915.8 783.2 916.9 782.3 918.2 781.4 919.6 780.6 921.2 779.8 923.0 779.1 924.9 778.4 927.0 777.7 929.1 777.1 931.5 776.6 934.0 776.0 936.5 775.6 939.3 775.1 942.1 774.7 945.1 774.3 948.1 773.9 951.3 773.6 954.6 773.3 958.0 773.0 961.4 772.7 965.0 772.5 968.6 772.3 972.3 772.1 976.1 771.9 980.0 771.8 983.9 771.7 987.9 771.5 991.9 771.4 996.0 771.4 1000.2 771.3 1004.4 771.2 1008.6 771.2 1012.8 771.1 1017.1 771.1 1021.4 771.0 1025.8 771.0 1030.1 771.0 1034.5 770.9 1038.8 770.9 1043.2 770.9 1047.5 770.8 1051.9 770.8 1056.2 770.7 1060.6 770.7 1064.9 770.6 1069.2 770.5 1073.4 770.4 1077.6 770.3 1081.8 770.2 1085.9 770.1 1090.0 770.0M913.0 791.3 912.4 789.8 912.1 788.4 911.9 787.1 911.9 785.8 912.1 784.6 912.5 783.5 913.1 782.3 913.9 781.3 914.8 780.3 916.0 779.3 917.3 778.4 918.7 777.6 920.3 776.7 922.1 776.0 924.1 775.2 926.1 774.5 928.3 773.9 930.7 773.3 933.2 772.7 935.8 772.2 938.5 771.7 941.4 771.2 944.4 770.8 947.4 770.4 950.6 770.0 953.9 769.7 957.3 769.4 960.8 769.1 964.4 768.8 968.0 768.6 971.7 768.4 975.6 768.2 979.4 768.0 983.4 767.8 987.4 767.7 991.4 767.6 995.5 767.5 999.7 767.4 1003.9 767.3 1008.1 767.2 1012.4 767.1 1016.7 767.1 1021.0 767.0 1025.4 767.0 1029.8 767.0 1034.1 766.9 1038.5 766.9 1042.9 766.9 1047.3 766.8 1051.7 766.8 1056.0 766.8 1060.4 766.7 1064.7 766.7 1069.0 766.6 1073.3 766.6 1077.5 766.5 1081.7 766.4 1085.9 766.3 1090.0 766.2M911.9 788.7 911.3 787.2 911.0 785.7 910.8 784.4 910.9 783.1 911.1 781.8 911.6 780.6 912.2 779.5 913.0 778.4 914.0 777.3 915.2 776.3 916.5 775.4 918.0 774.5 919.6 773.6 921.4 772.8 923.4 772.0 925.5 771.3 927.7 770.6 930.1 770.0 932.6 769.4 935.2 768.8 938.0 768.2 940.8 767.7 943.8 767.3 946.9 766.8 950.1 766.4 953.4 766.1 956.8 765.7 960.3 765.4 963.9 765.1 967.6 764.8 971.3 764.6 975.1 764.4 979.0 764.2 983.0 764.0 987.0 763.8 991.0 763.7 995.2 763.5 999.3 763.4 1003.5 763.3 1007.8 763.2 1012.1 763.2 1016.4 763.1 1020.7 763.0 1025.1 763.0 1029.5 763.0 1033.8 762.9 1038.2 762.9 1042.6 762.9 1047.0 762.8 1051.4 762.8 1055.8 762.8 1060.2 762.8 1064.5 762.7 1068.9 762.7 1073.2 762.7 1077.4 762.6 1081.7 762.6 1085.9 762.5 1090.0 762.4M910.3 784.7 909.8 783.1 909.6 781.7 909.5 780.3 909.7 778.9 910.0 777.6 910.5 776.4 911.2 775.2 912.1 774.0 913.2 773.0 914.4 771.9 915.7 771.0 917.3 770.0 919.0 769.1 920.8 768.3 922.8 767.5 924.9 766.8 927.2 766.1 929.6 765.4 932.1 764.8 934.8 764.2 937.6 763.7 940.5 763.2 943.5 762.7 946.6 762.3 949.8 761.9 953.1 761.5 956.5 761.1 960.0 760.8 963.6 760.5 967.3 760.3 971.0 760.0 974.8 759.8 978.7 759.7 982.7 759.5 986.7 759.3 990.8 759.2 994.9 759.1 999.1 759.0 1003.3 758.9 1007.5 758.9 1011.8 758.8 1016.1 758.8 1020.5 758.8 1024.8 758.7 1029.2 758.7 1033.6 758.7 1038.0 758.7 1042.4 758.7 1046.8 758.7 1051.2 758.7 1055.6 758.8 1060.0 758.8 1064.4 758.8 1068.7 758.8 1073.1 758.8 1077.3 758.8 1081.6 758.8 1085.8 758.7 1090.0 758.7M909.4 782.0 909.0 780.4 908.9 778.9 908.9 777.5 909.1 776.1 909.5 774.7 910.1 773.4 910.8 772.2 911.8 771.0 912.9 769.9 914.1 768.9 915.5 767.8 917.1 766.9 918.8 765.9 920.7 765.1 922.7 764.2 924.9 763.5 927.2 762.7 929.6 762.0 932.1 761.4 934.8 760.7 937.6 760.2 940.5 759.6 943.5 759.1 946.6 758.7 949.8 758.2 953.1 757.8 956.6 757.4 960.0 757.1 963.6 756.8 967.3 756.5 971.0 756.2 974.8 756.0 978.7 755.8 982.7 755.6 986.7 755.4 990.7 755.3 994.9 755.2 999.0 755.1 1003.2 755.0 1007.5 754.9 1011.7 754.8 1016.0 754.8 1020.4 754.8 1024.7 754.7 1029.1 754.7 1033.5 754.7 1037.9 754.7 1042.3 754.7 1046.7 754.8 1051.1 754.8 1055.5 754.8 1059.9 754.8 1064.3 754.9 1068.6 754.9 1073.0 754.9 1077.3 754.9 1081.6 755.0 1085.8 755.0 1090.0 755.0M908.7 779.3 908.4 777.7 908.4 776.1 908.5 774.6 908.8 773.2 909.2 771.8 909.9 770.5 910.7 769.2 911.7 768.0 912.8 766.9 914.1 765.8 915.6 764.7 917.2 763.7 919.0 762.8 920.9 761.8 922.9 761.0 925.1 760.2 927.4 759.4 929.8 758.6 932.4 757.9 935.1 757.3 937.9 756.7 940.8 756.1 943.8 755.6 946.9 755.1 950.1 754.6 953.4 754.1 956.8 753.7 960.3 753.4 963.9 753.0 967.5 752.7 971.3 752.4 975.1 752.2 978.9 751.9 982.9 751.7 986.8 751.5 990.9 751.4 995.0 751.2 999.1 751.1 1003.3 751.0 1007.5 750.9 1011.8 750.9 1016.1 750.8 1020.4 750.8 1024.7 750.8 1029.1 750.7 1033.5 750.7 1037.9 750.8 1042.3 750.8 1046.7 750.8 1051.1 750.8 1055.5 750.9 1059.9 750.9 1064.2 751.0 1068.6 751.0 1072.9 751.1 1077.2 751.1 1081.5 751.2 1085.8 751.2 1090.0 751.3M908.0 775.2 907.9 773.5 908.0 771.9 908.3 770.4 908.7 768.9 909.3 767.5 910.1 766.2 911.0 764.9 912.1 763.7 913.3 762.5 914.7 761.4 916.3 760.3 917.9 759.3 919.8 758.3 921.7 757.4 923.8 756.5 926.0 755.7 928.3 754.9 930.8 754.1 933.4 753.4 936.1 752.8 938.9 752.2 941.8 751.6 944.8 751.0 947.9 750.5 951.1 750.1 954.4 749.6 957.8 749.2 961.2 748.9 964.8 748.5 968.4 748.2 972.1 748.0 975.8 747.7 979.7 747.5 983.6 747.3 987.5 747.1 991.5 747.0 995.6 746.9 999.7 746.8 1003.8 746.7 1008.0 746.6 1012.2 746.6 1016.4 746.6 1020.7 746.5 1025.0 746.5 1029.4 746.6 1033.7 746.6 1038.0 746.6 1042.4 746.7 1046.8 746.7 1051.1 746.8 1055.5 746.9 1059.9 746.9 1064.2 747.0 1068.6 747.1 1072.9 747.2 1077.2 747.3 1081.5 747.4 1085.8 747.5 1090.0 747.6M907.8 772.4 907.8 770.7 908.0 769.1 908.4 767.6 908.9 766.1 909.6 764.7 910.5 763.3 911.5 762.0 912.6 760.7 913.9 759.5 915.4 758.4 917.0 757.3 918.7 756.2 920.5 755.2 922.5 754.3 924.6 753.4 926.9 752.5 929.2 751.7 931.7 750.9 934.3 750.2 937.0 749.5 939.8 748.8 942.7 748.2 945.7 747.6 948.8 747.1 952.0 746.6 955.2 746.1 958.6 745.7 962.0 745.3 965.6 744.9 969.1 744.6 972.8 744.3 976.5 744.0 980.3 743.8 984.2 743.6 988.1 743.4 992.1 743.2 996.1 743.0 1000.1 742.9 1004.2 742.8 1008.4 742.7 1012.6 742.7 1016.8 742.6 1021.0 742.6 1025.3 742.6 1029.6 742.6 1033.9 742.7 1038.2 742.7 1042.5 742.7 1046.9 742.8 1051.2 742.9 1055.6 743.0 1059.9 743.1 1064.3 743.2 1068.6 743.3 1072.9 743.4 1077.2 743.5 1081.5 743.6 1085.8 743.7 1090.0 743.9M907.9 768.2 908.1 766.5 908.4 764.9 908.9 763.4 909.6 761.9 910.4 760.5 911.3 759.1 912.4 757.8 913.7 756.6 915.1 755.3 916.6 754.2 918.2 753.1 920.0 752.0 921.9 751.0 923.9 750.1 926.1 749.2 928.4 748.3 930.7 747.5 933.2 746.7 935.8 746.0 938.5 745.3 941.3 744.6 944.2 744.0 947.2 743.4 950.2 742.9 953.4 742.4 956.6 741.9 960.0 741.5 963.4 741.1 966.8 740.7 970.4 740.4 974.0 740.1 977.7 739.8 981.4 739.6 985.2 739.4 989.1 739.2 993.0 739.0 997.0 738.9 1001.0 738.8 1005.0 738.7 1009.1 738.6 1013.2 738.6 1017.4 738.5 1021.6 738.5 1025.8 738.5 1030.0 738.6 1034.3 738.6 1038.6 738.7 1042.8 738.7 1047.1 738.8 1051.4 738.9 1055.8 739.0 1060.1 739.1 1064.4 739.3 1068.7 739.4 1073.0 739.6 1077.3 739.7 1081.5 739.9 1085.8 740.0 1090.0 740.2M908.1 765.4 908.4 763.7 908.8 762.1 909.4 760.6 910.2 759.1 911.0 757.7 912.0 756.3 913.2 755.0 914.5 753.7 915.9 752.5 917.5 751.3 919.1 750.2 921.0 749.1 922.9 748.1 924.9 747.1 927.1 746.2 929.4 745.3 931.7 744.4 934.2 743.6 936.8 742.8 939.5 742.1 942.3 741.4 945.2 740.8 948.1 740.2 951.2 739.6 954.3 739.1 957.6 738.6 960.9 738.1 964.2 737.7 967.7 737.3 971.2 736.9 974.8 736.6 978.5 736.3 982.2 736.0 985.9 735.7 989.8 735.5 993.6 735.3 997.6 735.2 1001.5 735.0 1005.5 734.9 1009.6 734.8 1013.7 734.8 1017.8 734.7 1021.9 734.7 1026.1 734.7 1030.3 734.7 1034.5 734.7 1038.8 734.8 1043.0 734.9 1047.3 734.9 1051.6 735.0 1055.9 735.2 1060.2 735.3 1064.4 735.4 1068.7 735.6 1073.0 735.8 1077.3 735.9 1081.5 736.1 1085.8 736.3 1090.0 736.5M908.5 762.5 908.9 760.9 909.4 759.3 910.0 757.8 910.8 756.3 911.7 754.9 912.8 753.5 914.0 752.2 915.3 750.9 916.8 749.7 918.4 748.5 920.1 747.3 921.9 746.2 923.9 745.2 925.9 744.2 928.1 743.2 930.4 742.3 932.7 741.4 935.2 740.6 937.8 739.8 940.5 739.0 943.3 738.3 946.1 737.6 949.1 737.0 952.1 736.4 955.3 735.8 958.5 735.3 961.8 734.8 965.1 734.3 968.5 733.8 972.0 733.4 975.6 733.1 979.2 732.7 982.9 732.4 986.6 732.2 990.4 731.9 994.2 731.7 998.1 731.5 1002.1 731.3 1006.0 731.2 1010.1 731.1 1014.1 731.0 1018.2 730.9 1022.3 730.9 1026.5 730.9 1030.6 730.9 1034.8 730.9 1039.0 730.9 1043.3 731.0 1047.5 731.1 1051.7 731.2 1056.0 731.3 1060.3 731.5 1064.5 731.6 1068.8 731.8 1073.1 732.0 1077.3 732.2 1081.6 732.4 1085.8 732.6 1090.0 732.9M909.4 758.3 909.8 756.7 910.4 755.2 911.1 753.7 912.0 752.2 913.0 750.8 914.1 749.4 915.3 748.1 916.7 746.8 918.2 745.6 919.8 744.4 921.5 743.3 923.4 742.2 925.4 741.2 927.4 740.2 929.6 739.2 931.9 738.3 934.3 737.4 936.8 736.6 939.3 735.8 942.0 735.0 944.8 734.3 947.6 733.6 950.5 733.0 953.6 732.3 956.7 731.8 959.8 731.2 963.1 730.7 966.4 730.3 969.8 729.8 973.2 729.4 976.8 729.0 980.3 728.7 984.0 728.4 987.7 728.1 991.4 727.9 995.2 727.7 999.0 727.5 1002.9 727.3 1006.9 727.2 1010.8 727.1 1014.8 727.0 1018.9 726.9 1022.9 726.9 1027.0 726.9 1031.1 726.9 1035.3 726.9 1039.5 727.0 1043.6 727.1 1047.8 727.2 1052.0 727.3 1056.3 727.4 1060.5 727.6 1064.7 727.8 1068.9 728.0 1073.2 728.2 1077.4 728.4 1081.6 728.7 1085.8 728.9 1090.0 729.2M910.0 755.5 910.5 753.9 911.1 752.4 911.9 750.9 912.8 749.4 913.8 748.0 915.0 746.7 916.2 745.3 917.6 744.1 919.1 742.8 920.8 741.6 922.5 740.5 924.4 739.4 926.3 738.3 928.4 737.3 930.6 736.3 932.9 735.3 935.2 734.4 937.7 733.6 940.3 732.7 942.9 731.9 945.7 731.2 948.5 730.5 951.4 729.8 954.4 729.1 957.5 728.5 960.7 728.0 963.9 727.4 967.2 726.9 970.6 726.4 974.0 726.0 977.5 725.6 981.0 725.2 984.6 724.9 988.3 724.6 992.0 724.3 995.8 724.0 999.6 723.8 1003.4 723.6 1007.3 723.5 1011.3 723.3 1015.3 723.2 1019.3 723.2 1023.3 723.1 1027.4 723.1 1031.5 723.1 1035.6 723.1 1039.7 723.2 1043.9 723.2 1048.0 723.3 1052.2 723.5 1056.4 723.6 1060.6 723.8 1064.8 724.0 1069.0 724.2 1073.2 724.4 1077.4 724.7 1081.6 725.0 1085.8 725.2 1090.0 725.6M911.2 751.4 911.7 749.8 912.4 748.3 913.2 746.8 914.1 745.4 915.1 744.0 916.3 742.6 917.6 741.3 919.0 740.0 920.5 738.8 922.2 737.6 923.9 736.5 925.8 735.4 927.8 734.3 929.8 733.3 932.0 732.3 934.3 731.4 936.7 730.5 939.1 729.6 941.7 728.8 944.3 728.0 947.0 727.2 949.9 726.5 952.8 725.8 955.7 725.2 958.8 724.6 961.9 724.0 965.1 723.4 968.4 722.9 971.7 722.5 975.1 722.0 978.5 721.6 982.1 721.2 985.6 720.9 989.3 720.6 992.9 720.3 996.7 720.0 1000.4 719.8 1004.2 719.6 1008.1 719.5 1012.0 719.4 1015.9 719.3 1019.9 719.2 1023.9 719.1 1027.9 719.1 1032.0 719.1 1036.0 719.2 1040.1 719.2 1044.2 719.3 1048.4 719.4 1052.5 719.6 1056.7 719.8 1060.8 719.9 1065.0 720.2 1069.2 720.4 1073.3 720.7 1077.5 720.9 1081.7 721.3 1085.8 721.6 1090.0 721.9M912.4 747.3 913.0 745.7 913.7 744.2 914.5 742.7 915.4 741.3 916.5 739.9 917.7 738.6 919.0 737.3 920.4 736.1 922.0 734.8 923.6 733.7 925.4 732.5 927.2 731.4 929.2 730.4 931.3 729.4 933.4 728.4 935.7 727.4 938.1 726.5 940.5 725.7 943.1 724.8 945.7 724.0 948.4 723.3 951.2 722.6 954.1 721.9 957.0 721.2 960.0 720.6 963.1 720.0 966.3 719.5 969.5 719.0 972.8 718.5 976.2 718.1 979.6 717.6 983.1 717.3 986.6 716.9 990.2 716.6 993.9 716.3 997.5 716.1 1001.3 715.9 1005.0 715.7 1008.9 715.5 1012.7 715.4 1016.6 715.3 1020.5 715.2 1024.5 715.2 1028.5 715.2 1032.5 715.2 1036.5 715.3 1040.6 715.3 1044.6 715.4 1048.7 715.6 1052.8 715.7 1056.9 715.9 1061.1 716.1 1065.2 716.4 1069.3 716.6 1073.5 716.9 1077.6 717.2 1081.7 717.6 1085.9 717.9 1090.0 718.3M913.3 744.6 913.9 743.0 914.6 741.5 915.4 740.1 916.4 738.7 917.5 737.3 918.7 735.9 920.0 734.6 921.4 733.4 923.0 732.1 924.6 730.9 926.4 729.8 928.3 728.7 930.2 727.6 932.3 726.5 934.4 725.5 936.7 724.6 939.1 723.6 941.5 722.7 944.0 721.9 946.6 721.1 949.3 720.3 952.1 719.5 955.0 718.8 957.9 718.1 960.9 717.4 964.0 716.8 967.1 716.3 970.3 715.7 973.6 715.2 976.9 714.7 980.3 714.3 983.8 713.9 987.3 713.5 990.9 713.1 994.5 712.8 998.1 712.5 1001.8 712.3 1005.6 712.1 1009.4 711.9 1013.2 711.7 1017.0 711.6 1020.9 711.5 1024.9 711.5 1028.8 711.4 1032.8 711.5 1036.8 711.5 1040.8 711.6 1044.9 711.7 1048.9 711.8 1053.0 711.9 1057.1 712.1 1061.2 712.4 1065.3 712.6 1069.4 712.9 1073.6 713.2 1077.7 713.5 1081.8 713.9 1085.9 714.3 1090.0 714.7M914.7 740.6 915.3 739.0 916.1 737.6 916.9 736.1 917.9 734.7 919.0 733.4 920.3 732.0 921.6 730.8 923.0 729.5 924.6 728.3 926.2 727.1 928.0 726.0 929.9 724.8 931.8 723.8 933.9 722.7 936.0 721.7 938.3 720.8 940.6 719.8 943.0 718.9 945.6 718.1 948.1 717.2 950.8 716.4 953.6 715.7 956.4 715.0 959.3 714.3 962.3 713.6 965.3 713.0 968.4 712.4 971.6 711.8 974.8 711.3 978.1 710.8 981.5 710.4 984.9 710.0 988.4 709.6 991.9 709.2 995.5 708.9 999.1 708.6 1002.8 708.4 1006.5 708.2 1010.2 708.0 1014.0 707.8 1017.8 707.7 1021.6 707.6 1025.5 707.6 1029.4 707.6 1033.4 707.6 1037.3 707.6 1041.3 707.7 1045.3 707.8 1049.3 707.9 1053.4 708.1 1057.4 708.3 1061.5 708.6 1065.5 708.8 1069.6 709.1 1073.7 709.5 1077.8 709.8 1081.9 710.2 1085.9 710.6 1090.0 711.1M915.7 737.9 916.4 736.4 917.1 735.0 918.0 733.5 919.0 732.1 920.1 730.8 921.4 729.4 922.7 728.2 924.2 726.9 925.7 725.7 927.4 724.5 929.1 723.3 931.0 722.2 933.0 721.1 935.0 720.0 937.2 719.0 939.4 718.0 941.7 717.0 944.1 716.1 946.6 715.2 949.2 714.3 951.8 713.5 954.6 712.7 957.4 711.9 960.3 711.2 963.2 710.5 966.2 709.9 969.3 709.2 972.5 708.6 975.7 708.1 979.0 707.6 982.3 707.1 985.7 706.6 989.1 706.2 992.6 705.8 996.1 705.5 999.7 705.1 1003.4 704.9 1007.0 704.6 1010.7 704.4 1014.5 704.2 1018.3 704.1 1022.1 704.0 1025.9 703.9 1029.8 703.9 1033.7 703.9 1037.7 703.9 1041.6 704.0 1045.6 704.1 1049.6 704.2 1053.6 704.4 1057.6 704.6 1061.6 704.8 1065.7 705.1 1069.7 705.4 1073.8 705.8 1077.8 706.1 1081.9 706.6 1085.9 707.0 1090.0 707.5M917.3 734.0 918.0 732.5 918.8 731.1 919.7 729.7 920.7 728.3 921.9 727.0 923.1 725.7 924.5 724.4 925.9 723.1 927.5 721.9 929.2 720.7 930.9 719.6 932.8 718.5 934.7 717.4 936.8 716.3 938.9 715.3 941.1 714.3 943.4 713.3 945.8 712.4 948.3 711.5 950.9 710.6 953.5 709.8 956.2 709.0 959.0 708.2 961.8 707.5 964.7 706.8 967.7 706.1 970.8 705.5 973.9 704.9 977.1 704.3 980.3 703.8 983.6 703.3 986.9 702.8 990.3 702.4 993.8 702.0 997.3 701.7 1000.8 701.3 1004.4 701.0 1008.0 700.8 1011.7 700.6 1015.4 700.4 1019.1 700.3 1022.9 700.1 1026.7 700.1 1030.5 700.0 1034.4 700.0 1038.2 700.1 1042.1 700.1 1046.1 700.2 1050.0 700.4 1054.0 700.6 1057.9 700.8 1061.9 701.1 1065.9 701.4 1069.9 701.7 1073.9 702.1 1078.0 702.5 1082.0 702.9 1086.0 703.4 1090.0 703.9M919.0 730.1 919.7 728.7 920.5 727.3 921.5 725.9 922.5 724.6 923.7 723.3 925.0 722.0 926.3 720.7 927.8 719.5 929.4 718.3 931.0 717.1 932.8 715.9 934.7 714.8 936.6 713.7 938.6 712.7 940.8 711.7 943.0 710.7 945.3 709.7 947.6 708.8 950.1 707.9 952.6 707.0 955.2 706.1 957.9 705.3 960.6 704.6 963.5 703.8 966.3 703.1 969.3 702.4 972.3 701.8 975.4 701.2 978.5 700.6 981.7 700.1 984.9 699.6 988.2 699.1 991.6 698.7 995.0 698.3 998.4 697.9 1001.9 697.6 1005.4 697.3 1009.0 697.0 1012.6 696.8 1016.3 696.6 1020.0 696.5 1023.7 696.3 1027.4 696.3 1031.2 696.2 1035.0 696.2 1038.8 696.3 1042.7 696.3 1046.6 696.5 1050.5 696.6 1054.4 696.8 1058.3 697.0 1062.2 697.3 1066.2 697.6 1070.1 698.0 1074.1 698.4 1078.1 698.8 1082.1 699.3 1086.0 699.8 1090.0 700.3M920.2 727.6 920.9 726.2 921.8 724.8 922.8 723.4 923.8 722.1 925.0 720.8 926.3 719.5 927.7 718.2 929.1 717.0 930.7 715.8 932.4 714.6 934.1 713.4 936.0 712.3 937.9 711.2 939.9 710.1 942.1 709.0 944.2 708.0 946.5 707.0 948.9 706.1 951.3 705.1 953.8 704.2 956.4 703.3 959.1 702.5 961.8 701.7 964.6 700.9 967.4 700.2 970.4 699.4 973.3 698.8 976.4 698.1 979.5 697.5 982.6 696.9 985.9 696.4 989.1 695.9 992.4 695.4 995.8 694.9 999.2 694.5 1002.7 694.2 1006.2 693.8 1009.7 693.5 1013.3 693.3 1016.9 693.1 1020.5 692.9 1024.2 692.8 1027.9 692.7 1031.7 692.6 1035.4 692.6 1039.2 692.6 1043.1 692.7 1046.9 692.8 1050.8 692.9 1054.6 693.1 1058.5 693.3 1062.4 693.6 1066.3 693.9 1070.3 694.3 1074.2 694.7 1078.2 695.2 1082.1 695.6 1086.1 696.2 1090.0 696.8M922.1 723.8 922.9 722.4 923.8 721.1 924.7 719.8 925.8 718.4 927.0 717.2 928.3 715.9 929.7 714.6 931.2 713.4 932.8 712.2 934.4 711.0 936.2 709.9 938.0 708.8 940.0 707.7 942.0 706.6 944.1 705.5 946.3 704.5 948.5 703.5 950.8 702.5 953.2 701.6 955.7 700.7 958.3 699.8 960.9 699.0 963.6 698.1 966.3 697.3 969.2 696.6 972.0 695.9 975.0 695.2 978.0 694.5 981.0 693.9 984.2 693.3 987.3 692.7 990.5 692.2 993.8 691.7 997.1 691.3 1000.5 690.9 1003.9 690.5 1007.3 690.1 1010.8 689.8 1014.3 689.6 1017.9 689.3 1021.5 689.2 1025.1 689.0 1028.8 688.9 1032.4 688.9 1036.2 688.8 1039.9 688.9 1043.7 688.9 1047.4 689.0 1051.2 689.2 1055.1 689.4 1058.9 689.6 1062.8 689.9 1066.6 690.2 1070.5 690.6 1074.4 691.0 1078.3 691.5 1082.2 692.0 1086.1 692.6 1090.0 693.2M924.1 720.1 924.9 718.8 925.8 717.4 926.9 716.1 928.0 714.9 929.2 713.6 930.5 712.4 931.9 711.1 933.4 709.9 934.9 708.7 936.6 707.6 938.4 706.4 940.2 705.3 942.1 704.2 944.1 703.1 946.2 702.1 948.4 701.1 950.6 700.1 952.9 699.1 955.3 698.1 957.7 697.2 960.2 696.3 962.8 695.5 965.5 694.7 968.2 693.9 971.0 693.1 973.8 692.3 976.7 691.6 979.7 691.0 982.7 690.3 985.7 689.7 988.9 689.2 992.0 688.6 995.2 688.1 998.5 687.7 1001.8 687.2 1005.1 686.8 1008.5 686.5 1012.0 686.2 1015.4 685.9 1018.9 685.7 1022.5 685.5 1026.0 685.3 1029.6 685.2 1033.3 685.1 1036.9 685.1 1040.6 685.1 1044.3 685.2 1048.0 685.3 1051.8 685.5 1055.5 685.7 1059.3 685.9 1063.1 686.2 1066.9 686.6 1070.8 686.9 1074.6 687.4 1078.4 687.9 1082.3 688.4 1086.1 689.0 1090.0 689.7M925.5 717.7 926.4 716.3 927.3 715.0 928.3 713.8 929.5 712.5 930.7 711.2 932.0 710.0 933.4 708.8 934.9 707.5 936.5 706.3 938.1 705.2 939.9 704.0 941.7 702.9 943.6 701.8 945.6 700.7 947.7 699.6 949.8 698.5 952.0 697.5 954.3 696.5 956.7 695.5 959.1 694.6 961.6 693.7 964.2 692.8 966.8 691.9 969.5 691.0 972.2 690.2 975.0 689.5 977.9 688.7 980.8 688.0 983.8 687.3 986.8 686.7 989.9 686.1 993.0 685.5 996.2 684.9 999.4 684.4 1002.7 684.0 1006.0 683.5 1009.3 683.1 1012.7 682.8 1016.1 682.5 1019.6 682.2 1023.1 682.0 1026.6 681.8 1030.2 681.7 1033.8 681.6 1037.4 681.5 1041.0 681.5 1044.7 681.6 1048.4 681.7 1052.1 681.8 1055.8 682.0 1059.6 682.3 1063.3 682.6 1067.1 682.9 1070.9 683.3 1074.7 683.8 1078.5 684.3 1082.3 684.8 1086.2 685.4 1090.0 686.1M927.8 714.0 928.6 712.8 929.6 711.5 930.6 710.3 931.8 709.0 933.0 707.8 934.3 706.6 935.8 705.4 937.2 704.2 938.8 703.0 940.5 701.8 942.2 700.7 944.0 699.6 945.9 698.4 947.9 697.4 950.0 696.3 952.1 695.2 954.3 694.2 956.5 693.2 958.9 692.2 961.2 691.3 963.7 690.3 966.2 689.4 968.8 688.5 971.5 687.7 974.2 686.9 976.9 686.1 979.7 685.3 982.6 684.6 985.5 683.9 988.5 683.2 991.5 682.6 994.6 682.0 997.7 681.4 1000.9 680.9 1004.1 680.4 1007.3 680.0 1010.6 679.6 1014.0 679.2 1017.3 678.9 1020.7 678.6 1024.2 678.4 1027.6 678.2 1031.1 678.0 1034.7 677.9 1038.2 677.9 1041.8 677.9 1045.4 677.9 1049.0 678.0 1052.7 678.1 1056.3 678.3 1060.0 678.6 1063.7 678.9 1067.4 679.2 1071.2 679.7 1074.9 680.1 1078.7 680.7 1082.4 681.2 1086.2 681.9 1090.0 682.6M930.1 710.5 931.0 709.3 932.0 708.1 933.1 706.8 934.2 705.6 935.5 704.4 936.8 703.2 938.2 702.1 939.7 700.9 941.3 699.7 943.0 698.6 944.7 697.4 946.5 696.3 948.4 695.2 950.3 694.1 952.3 693.1 954.4 692.0 956.6 691.0 958.8 690.0 961.1 689.0 963.5 688.0 965.9 687.1 968.4 686.1 970.9 685.3 973.5 684.4 976.2 683.5 978.9 682.7 981.7 682.0 984.5 681.2 987.4 680.5 990.3 679.8 993.3 679.2 996.3 678.6 999.3 678.0 1002.4 677.4 1005.6 676.9 1008.8 676.5 1012.0 676.0 1015.3 675.7 1018.6 675.3 1021.9 675.0 1025.3 674.8 1028.7 674.6 1032.1 674.4 1035.6 674.3 1039.1 674.2 1042.6 674.2 1046.1 674.3 1049.7 674.4 1053.3 674.5 1056.9 674.7 1060.5 674.9 1064.1 675.3 1067.8 675.6 1071.5 676.0 1075.1 676.5 1078.8 677.1 1082.6 677.7 1086.3 678.3 1090.0 679.0M932.6 707.1 933.5 705.9 934.5 704.7 935.6 703.5 936.8 702.3 938.1 701.2 939.4 700.0 940.8 698.9 942.3 697.7 943.9 696.6 945.5 695.4 947.2 694.3 949.0 693.2 950.9 692.1 952.8 691.0 954.8 689.9 956.9 688.9 959.0 687.8 961.2 686.8 963.5 685.8 965.8 684.8 968.2 683.9 970.6 683.0 973.1 682.1 975.7 681.2 978.3 680.3 981.0 679.5 983.7 678.7 986.4 677.9 989.3 677.2 992.1 676.5 995.0 675.8 998.0 675.2 1001.0 674.6 1004.0 674.0 1007.1 673.5 1010.2 673.0 1013.4 672.6 1016.6 672.2 1019.8 671.8 1023.1 671.5 1026.4 671.3 1029.7 671.0 1033.1 670.9 1036.5 670.7 1039.9 670.7 1043.4 670.6 1046.9 670.7 1050.4 670.7 1053.9 670.9 1057.4 671.1 1061.0 671.3 1064.6 671.6 1068.1 672.0 1071.8 672.4 1075.4 672.9 1079.0 673.5 1082.7 674.1 1086.3 674.8 1090.0 675.5M935.2 703.7 936.2 702.6 937.2 701.4 938.3 700.3 939.5 699.2 940.8 698.0 942.1 696.9 943.5 695.7 945.0 694.6 946.6 693.5 948.2 692.4 949.9 691.3 951.7 690.1 953.5 689.1 955.4 688.0 957.4 686.9 959.5 685.8 961.6 684.8 963.7 683.8 965.9 682.8 968.2 681.8 970.6 680.8 973.0 679.9 975.4 679.0 977.9 678.1 980.5 677.2 983.1 676.3 985.8 675.5 988.5 674.7 991.2 674.0 994.0 673.3 996.9 672.6 999.8 671.9 1002.7 671.3 1005.7 670.7 1008.7 670.2 1011.8 669.6 1014.9 669.2 1018.0 668.8 1021.2 668.4 1024.4 668.1 1027.6 667.8 1030.9 667.5 1034.2 667.3 1037.5 667.2 1040.8 667.1 1044.2 667.1 1047.6 667.1 1051.1 667.2 1054.5 667.3 1058.0 667.5 1061.5 667.7 1065.0 668.0 1068.5 668.4 1072.1 668.8 1075.6 669.3 1079.2 669.9 1082.8 670.5 1086.4 671.2 1090.0 672.0"/></svg><svg class="abs" width="1080" height="1080" viewBox="0 0 1080 1080"><g fill="none" stroke-linecap="round"><path stroke="#1f7fb8" stroke-width="0.8" d="M100.0 -3.0 101.4 -1.3 102.9 0.4 104.3 2.0 105.7 3.6 107.2 5.2 108.6 6.7 110.0 8.2 111.3 9.7 112.7 11.2 114.0 12.7 115.3 14.1 116.6 15.5 117.8 16.9 119.0 18.2 120.2 19.6 121.3 20.9 122.4 22.2 123.4 23.5 124.4 24.7 125.3 26.0 126.2 27.2 127.0 28.4 127.7 29.6 128.4 30.8 129.0 32.0 129.5 33.2 129.9 34.3 130.3 35.5 130.6 36.6 130.8 37.8 130.9 38.9 130.9 40.0 130.8 41.1 130.7 42.2 130.4 43.3 130.0 44.5 129.5 45.6 128.9 46.7 128.2 47.8M91.0 -3.0 92.8 -1.2 94.5 0.5 96.3 2.2 98.0 3.9 99.8 5.6 101.5 7.2 103.2 8.8 104.8 10.3 106.5 11.9 108.1 13.4 109.7 14.9 111.2 16.3 112.7 17.7 114.2 19.1 115.6 20.5 117.0 21.9 118.3 23.2 119.5 24.6 120.7 25.9 121.9 27.2 122.9 28.5 123.9 29.7 124.8 31.0 125.7 32.2 126.4 33.4 127.1 34.7 127.7 35.9 128.2 37.1 128.6 38.3 128.9 39.5 129.1 40.7 129.2 41.9 129.2 43.0 129.0 44.2 128.8 45.4 128.4 46.6 127.9 47.8 127.3 49.0 126.6 50.2M82.0 -3.0 84.1 -1.1 86.2 0.8 88.3 2.6 90.3 4.4 92.4 6.1 94.4 7.8 96.4 9.5 98.4 11.1 100.3 12.7 102.2 14.3 104.1 15.9 105.9 17.4 107.7 18.9 109.4 20.4 111.1 21.9 112.7 23.3 114.2 24.7 115.7 26.1 117.1 27.5 118.5 28.8 119.7 30.2 120.9 31.5 122.0 32.8 123.0 34.1 123.9 35.4 124.7 36.7 125.4 38.0 126.0 39.2 126.5 40.5 126.9 41.8 127.1 43.0 127.3 44.3 127.3 45.5 127.2 46.8 126.9 48.0 126.6 49.3 126.1 50.6 125.4 51.8 124.6 53.1M73.0 -3.0 75.5 -1.0 77.9 1.0 80.3 2.9 82.7 4.8 85.1 6.6 87.5 8.4 89.8 10.2 92.1 11.9 94.3 13.6 96.5 15.3 98.7 17.0 100.8 18.6 102.8 20.2 104.8 21.7 106.7 23.3 108.5 24.8 110.3 26.3 112.0 27.8 113.6 29.2 115.1 30.6 116.6 32.1 117.9 33.5 119.2 34.8 120.3 36.2 121.4 37.6 122.3 38.9 123.1 40.3 123.8 41.6 124.4 43.0 124.8 44.3 125.1 45.6 125.3 46.9 125.3 48.3 125.2 49.6 125.0 50.9 124.6 52.2 124.0 53.6 123.3 54.9 122.4 56.3M64.0 -3.0 66.8 -0.9 69.6 1.2 72.4 3.2 75.2 5.2 77.9 7.1 80.6 9.0 83.2 10.8 85.8 12.7 88.3 14.5 90.8 16.2 93.2 18.0 95.6 19.7 97.9 21.3 100.1 23.0 102.3 24.6 104.3 26.2 106.3 27.8 108.2 29.3 110.0 30.9 111.7 32.4 113.3 33.9 114.8 35.4 116.2 36.8 117.4 38.3 118.6 39.7 119.6 41.2 120.5 42.6 121.3 44.0 122.0 45.4 122.5 46.8 122.8 48.2 123.0 49.6 123.1 51.0 123.0 52.4 122.7 53.9 122.3 55.3 121.7 56.7 121.0 58.1 120.0 59.5M55.0 -3.0 58.2 -0.8 61.4 1.3 64.6 3.4 67.7 5.5 70.7 7.5 73.7 9.5 76.7 11.4 79.6 13.3 82.4 15.2 85.2 17.0 87.8 18.8 90.5 20.6 93.0 22.4 95.4 24.1 97.8 25.8 100.0 27.5 102.2 29.1 104.3 30.8 106.2 32.4 108.1 34.0 109.8 35.5 111.5 37.1 113.0 38.7 114.4 40.2 115.6 41.7 116.7 43.3 117.7 44.8 118.6 46.3 119.3 47.8 119.8 49.3 120.3 50.8 120.5 52.3 120.6 53.8 120.6 55.3 120.3 56.8 119.9 58.4 119.3 59.9 118.6 61.4 117.7 63.0M46.0 -3.0 49.7 -0.7 53.3 1.5 56.8 3.6 60.3 5.8 63.7 7.9 67.0 9.9 70.3 11.9 73.5 13.9 76.6 15.8 79.6 17.8 82.6 19.6 85.4 21.5 88.2 23.3 90.8 25.1 93.4 26.9 95.8 28.7 98.1 30.4 100.4 32.1 102.5 33.8 104.5 35.5 106.3 37.2 108.1 38.8 109.7 40.5 111.2 42.1 112.6 43.7 113.8 45.4 114.8 47.0 115.8 48.6 116.5 50.2 117.2 51.8 117.6 53.5 117.9 55.1 118.1 56.7 118.1 58.3 117.9 60.0 117.5 61.6 117.0 63.3 116.3 65.0 115.4 66.7M37.0 -3.0 41.1 -0.7 45.2 1.6 49.1 3.8 53.0 6.0 56.8 8.2 60.5 10.3 64.1 12.4 67.6 14.4 71.0 16.5 74.3 18.5 77.5 20.4 80.6 22.4 83.6 24.3 86.5 26.2 89.2 28.1 91.8 29.9 94.4 31.7 96.7 33.6 99.0 35.4 101.1 37.2 103.1 38.9 105.0 40.7 106.7 42.4 108.3 44.2 109.8 45.9 111.1 47.7 112.2 49.4 113.2 51.1 114.0 52.9 114.7 54.6 115.2 56.3 115.6 58.1 115.8 59.8 115.8 61.6 115.6 63.4 115.3 65.1 114.8 66.9 114.1 68.7 113.2 70.5M28.0 -3.0 32.6 -0.6 37.1 1.7 41.5 4.0 45.8 6.2 50.0 8.4 54.1 10.6 58.0 12.8 61.9 14.9 65.6 17.0 69.2 19.1 72.7 21.2 76.0 23.2 79.3 25.3 82.4 27.3 85.3 29.2 88.2 31.2 90.9 33.1 93.4 35.1 95.8 37.0 98.1 38.9 100.3 40.8 102.2 42.7 104.1 44.6 105.7 46.4 107.3 48.3 108.6 50.2 109.9 52.0 110.9 53.9 111.8 55.7 112.5 57.6 113.1 59.5 113.4 61.3 113.7 63.2 113.7 65.1 113.6 66.9 113.2 68.8 112.7 70.7 112.1 72.7 111.2 74.6M19.0 -3.0 24.1 -0.6 29.1 1.7 34.0 4.1 38.7 6.4 43.3 8.6 47.8 10.9 52.1 13.1 56.3 15.4 60.4 17.6 64.3 19.7 68.1 21.9 71.7 24.0 75.2 26.2 78.5 28.3 81.7 30.4 84.8 32.5 87.7 34.6 90.4 36.6 93.0 38.7 95.4 40.7 97.7 42.7 99.8 44.8 101.7 46.8 103.5 48.8 105.1 50.8 106.5 52.8 107.8 54.8 108.9 56.8 109.8 58.8 110.5 60.8 111.1 62.8 111.5 64.7 111.7 66.7 111.8 68.7 111.6 70.7 111.3 72.7 110.7 74.7 110.0 76.7 109.1 78.7M10.0 -3.0 15.7 -0.6 21.2 1.7 26.5 4.1 31.7 6.4 36.7 8.7 41.6 11.1 46.4 13.4 50.9 15.7 55.3 18.0 59.6 20.2 63.7 22.5 67.6 24.8 71.3 27.0 74.9 29.3 78.3 31.5 81.6 33.7 84.7 35.9 87.6 38.2 90.3 40.4 92.9 42.6 95.3 44.7 97.5 46.9 99.5 49.1 101.4 51.3 103.1 53.4 104.6 55.6 105.9 57.7 107.0 59.8 108.0 62.0 108.7 64.1 109.3 66.2 109.7 68.3 109.9 70.4 109.9 72.5 109.7 74.6 109.3 76.7 108.8 78.8 108.0 80.9 107.0 82.9M1.0 -3.0 7.2 -0.7 13.2 1.7 19.1 4.0 24.7 6.4 30.2 8.7 35.5 11.1 40.7 13.5 45.6 15.9 50.4 18.2 55.0 20.6 59.4 23.0 63.6 25.4 67.6 27.8 71.4 30.2 75.1 32.5 78.6 34.9 81.8 37.3 84.9 39.7 87.8 42.0 90.5 44.4 93.1 46.7 95.4 49.1 97.5 51.4 99.4 53.8 101.2 56.1 102.7 58.4 104.1 60.7 105.2 63.0 106.2 65.2 107.0 67.5 107.5 69.8 107.9 72.0 108.1 74.2 108.0 76.4 107.8 78.6 107.3 80.8 106.7 82.9 105.8 85.0 104.8 87.2M-3.0 9.0 3.2 11.1 9.3 13.2 15.2 15.3 20.9 17.4 26.4 19.5 31.8 21.7 37.0 23.8 42.0 25.9 46.8 28.1 51.4 30.3 55.9 32.4 60.1 34.6 64.2 36.8 68.1 38.9 71.9 41.1 75.4 43.3 78.7 45.5 81.9 47.6 84.8 49.8 87.6 52.0 90.2 54.1 92.6 56.3 94.7 58.4 96.7 60.6 98.5 62.7 100.1 64.8 101.5 66.9 102.7 69.1 103.7 71.1 104.5 73.2 105.1 75.3 105.5 77.4 105.7 79.4 105.6 81.4 105.4 83.5 105.0 85.5 104.3 87.4 103.4 89.4 102.4 91.3M-3.0 18.0 3.2 19.8 9.2 21.7 15.0 23.6 20.6 25.5 26.1 27.4 31.4 29.3 36.5 31.3 41.4 33.3 46.2 35.3 50.7 37.3 55.1 39.4 59.3 41.4 63.3 43.5 67.1 45.6 70.8 47.7 74.2 49.7 77.5 51.8 80.5 53.9 83.4 56.0 86.1 58.1 88.6 60.2 90.9 62.3 93.0 64.4 94.9 66.4 96.6 68.5 98.1 70.6 99.5 72.6 100.6 74.6 101.5 76.6 102.2 78.6 102.8 80.6 103.1 82.5 103.2 84.5 103.2 86.4 102.9 88.2 102.4 90.1 101.7 91.9 100.8 93.7 99.7 95.4M-3.0 27.0 3.1 28.6 9.0 30.2 14.7 31.8 20.3 33.5 25.6 35.3 30.8 37.0 35.8 38.8 40.7 40.7 45.3 42.5 49.8 44.4 54.0 46.3 58.1 48.3 62.0 50.2 65.8 52.2 69.3 54.2 72.7 56.2 75.8 58.2 78.8 60.2 81.6 62.2 84.2 64.2 86.6 66.2 88.8 68.3 90.8 70.3 92.7 72.2 94.3 74.2 95.8 76.2 97.0 78.2 98.1 80.1 98.9 82.0 99.6 83.9 100.1 85.8 100.4 87.6 100.4 89.4 100.3 91.2 100.0 92.9 99.5 94.6 98.8 96.2 97.9 97.8 96.8 99.4M-3.0 36.0 3.0 37.3 8.7 38.7 14.3 40.1 19.8 41.6 25.0 43.1 30.1 44.7 35.0 46.4 39.7 48.0 44.2 49.8 48.5 51.5 52.7 53.3 56.7 55.1 60.4 56.9 64.1 58.8 67.5 60.7 70.7 62.6 73.8 64.5 76.7 66.4 79.3 68.3 81.8 70.2 84.2 72.2 86.3 74.1 88.2 76.0 90.0 77.9 91.5 79.8 92.9 81.7 94.1 83.5 95.1 85.4 95.9 87.2 96.5 89.0 97.0 90.7 97.2 92.5 97.3 94.1 97.1 95.8 96.8 97.4 96.3 98.9 95.5 100.4 94.6 101.8 93.5 103.2M-3.0 45.0 2.8 46.1 8.4 47.2 13.9 48.4 19.1 49.7 24.2 51.1 29.2 52.5 33.9 53.9 38.4 55.4 42.8 57.0 47.0 58.6 51.0 60.2 54.9 61.9 58.5 63.6 62.0 65.3 65.3 67.1 68.4 68.9 71.4 70.7 74.1 72.5 76.7 74.3 79.1 76.1 81.3 78.0 83.4 79.8 85.2 81.6 86.9 83.4 88.4 85.2 89.7 87.0 90.8 88.8 91.8 90.5 92.5 92.2 93.1 93.9 93.5 95.5 93.7 97.1 93.7 98.7 93.6 100.2 93.3 101.7 92.7 103.1 92.0 104.4 91.1 105.7 90.1 106.9M-3.0 54.0 2.6 54.8 8.1 55.8 13.3 56.8 18.4 57.9 23.3 59.0 28.1 60.2 32.6 61.5 37.0 62.8 41.2 64.2 45.3 65.7 49.1 67.2 52.8 68.7 56.3 70.3 59.7 71.9 62.8 73.5 65.8 75.2 68.7 76.8 71.3 78.5 73.8 80.2 76.0 81.9 78.2 83.7 80.1 85.4 81.9 87.1 83.5 88.8 84.9 90.5 86.1 92.2 87.2 93.8 88.1 95.5 88.8 97.1 89.4 98.6 89.7 100.1 89.9 101.6 89.9 103.1 89.8 104.5 89.5 105.8 89.0 107.1 88.3 108.3 87.4 109.4 86.4 110.5M-3.0 63.0 2.4 63.6 7.6 64.3 12.7 65.1 17.6 66.0 22.3 67.0 26.8 68.0 31.2 69.1 35.4 70.3 39.5 71.5 43.3 72.8 47.0 74.1 50.5 75.5 53.9 76.9 57.1 78.4 60.1 79.9 63.0 81.4 65.7 83.0 68.2 84.5 70.5 86.1 72.7 87.7 74.7 89.3 76.6 90.9 78.2 92.5 79.8 94.1 81.1 95.6 82.3 97.2 83.3 98.7 84.1 100.3 84.8 101.7 85.3 103.2 85.7 104.6 85.9 106.0 85.9 107.3 85.8 108.5 85.5 109.8 85.0 110.9 84.3 112.0 83.5 113.0 82.6 113.9"/><path stroke="#27a2d8" stroke-width="0.85" d="M-4.0 65.0 -4.2 68.4 -4.5 71.8 -4.8 75.0 -5.2 78.1 -5.7 81.2 -6.2 84.1 -6.7 86.9 -7.3 89.6 -7.9 92.3 -8.5 94.8 -9.1 97.3 -9.8 99.7 -10.4 102.0 -11.1 104.2 -11.7 106.3 -12.4 108.3 -13.0 110.3 -13.6 112.2 -14.1 114.0 -14.7 115.7 -15.2 117.4 -15.6 118.9 -16.0 120.5 -16.4 121.9 -16.7 123.3 -16.9 124.6 -17.0 125.8 -17.1 127.0 -17.1 128.2 -17.0 129.2 -16.8 130.3 -16.5 131.2 -16.1 132.1 -15.6 133.0 -15.0 133.8 -14.3 134.6 -13.4 135.3 -12.4 136.0 -11.3 136.6 -10.0 137.2 -8.6 137.7 -7.0 138.2 -5.3 138.7 -3.4 139.1 -1.3 139.6 1.0 139.9 3.4 140.3 6.0 140.6 8.8 140.9M1.9 65.0 1.7 68.3 1.4 71.5 1.1 74.7 0.7 77.7 0.3 80.7 -0.1 83.6 -0.6 86.4 -1.1 89.2 -1.7 91.8 -2.3 94.4 -2.8 96.9 -3.4 99.4 -4.1 101.7 -4.7 104.0 -5.3 106.2 -5.9 108.3 -6.4 110.4 -7.0 112.3 -7.5 114.3 -8.0 116.1 -8.5 117.9 -8.9 119.6 -9.3 121.2 -9.6 122.7 -9.9 124.2 -10.1 125.7 -10.2 127.0 -10.2 128.3 -10.2 129.5 -10.1 130.7 -9.9 131.8 -9.6 132.8 -9.3 133.8 -8.8 134.7 -8.2 135.6 -7.4 136.4 -6.6 137.1 -5.6 137.8 -4.5 138.4 -3.3 138.9 -1.9 139.4 -0.4 139.9 1.3 140.3 3.1 140.6 5.1 140.9 7.3 141.1 9.7 141.3 12.2 141.4 14.9 141.5M7.7 65.0 7.6 68.2 7.3 71.3 7.1 74.4 6.7 77.3 6.4 80.3 6.0 83.1 5.5 85.9 5.0 88.7 4.5 91.3 4.0 93.9 3.5 96.5 2.9 98.9 2.4 101.3 1.8 103.7 1.3 105.9 0.7 108.1 0.2 110.3 -0.3 112.3 -0.8 114.3 -1.3 116.2 -1.7 118.1 -2.1 119.9 -2.4 121.6 -2.7 123.3 -2.9 124.9 -3.1 126.4 -3.2 127.8 -3.2 129.2 -3.2 130.5 -3.1 131.7 -2.9 132.9 -2.6 134.0 -2.2 135.0 -1.7 136.0 -1.1 136.9 -0.4 137.7 0.4 138.4 1.3 139.1 2.4 139.7 3.6 140.2 4.9 140.7 6.4 141.0 8.0 141.3 9.7 141.6 11.6 141.7 13.7 141.8 16.0 141.8 18.4 141.8 21.0 141.6M13.6 65.0 13.4 68.1 13.3 71.1 13.0 74.0 12.8 76.9 12.4 79.8 12.1 82.6 11.7 85.4 11.2 88.1 10.8 90.8 10.3 93.4 9.8 95.9 9.3 98.4 8.8 100.8 8.3 103.2 7.9 105.5 7.4 107.8 6.9 110.0 6.4 112.1 6.0 114.1 5.6 116.1 5.2 118.1 4.9 119.9 4.6 121.7 4.3 123.5 4.1 125.1 4.0 126.7 3.9 128.2 3.9 129.7 3.9 131.1 4.1 132.4 4.3 133.6 4.6 134.7 5.0 135.8 5.4 136.8 6.0 137.7 6.7 138.5 7.5 139.2 8.4 139.9 9.4 140.4 10.5 140.9 11.8 141.3 13.2 141.6 14.7 141.8 16.4 142.0 18.2 142.0 20.2 142.0 22.3 141.8 24.6 141.6 27.0 141.3M19.4 65.0 19.3 67.9 19.2 70.8 19.0 73.7 18.8 76.5 18.5 79.3 18.2 82.1 17.8 84.8 17.5 87.5 17.1 90.1 16.7 92.7 16.2 95.2 15.8 97.7 15.4 100.2 14.9 102.6 14.5 104.9 14.0 107.2 13.6 109.5 13.2 111.6 12.8 113.7 12.5 115.8 12.2 117.8 11.9 119.7 11.6 121.6 11.4 123.3 11.2 125.1 11.1 126.7 11.1 128.3 11.1 129.8 11.2 131.2 11.3 132.5 11.5 133.8 11.8 134.9 12.2 136.0 12.7 137.0 13.2 137.9 13.9 138.7 14.6 139.5 15.5 140.1 16.4 140.6 17.5 141.1 18.7 141.4 20.0 141.7 21.5 141.8 23.0 141.8 24.7 141.8 26.6 141.6 28.6 141.3 30.7 140.9 33.0 140.4M25.3 65.0 25.2 67.8 25.1 70.6 25.0 73.3 24.8 76.1 24.6 78.8 24.3 81.5 24.0 84.2 23.7 86.8 23.3 89.4 23.0 92.0 22.6 94.5 22.3 97.0 21.9 99.4 21.5 101.8 21.1 104.2 20.7 106.5 20.4 108.7 20.0 110.9 19.7 113.1 19.4 115.2 19.1 117.2 18.9 119.1 18.7 121.0 18.5 122.8 18.4 124.6 18.3 126.3 18.3 127.9 18.3 129.4 18.4 130.8 18.6 132.2 18.8 133.5 19.1 134.7 19.5 135.7 19.9 136.7 20.4 137.7 21.0 138.5 21.8 139.2 22.6 139.8 23.5 140.3 24.5 140.7 25.6 141.0 26.8 141.1 28.2 141.2 29.6 141.1 31.2 140.9 32.9 140.6 34.8 140.2 36.8 139.7 38.9 139.0M31.1 65.0 31.1 67.7 31.1 70.3 30.9 73.0 30.8 75.6 30.6 78.3 30.4 80.9 30.2 83.5 29.9 86.0 29.6 88.6 29.3 91.1 29.0 93.6 28.7 96.0 28.4 98.5 28.1 100.8 27.7 103.2 27.4 105.5 27.1 107.7 26.8 109.9 26.6 112.0 26.3 114.1 26.1 116.2 25.9 118.1 25.7 120.0 25.6 121.8 25.5 123.6 25.5 125.3 25.5 126.9 25.5 128.4 25.6 129.9 25.8 131.2 26.0 132.5 26.3 133.7 26.6 134.8 27.1 135.8 27.6 136.7 28.2 137.4 28.8 138.1 29.6 138.7 30.4 139.2 31.4 139.5 32.4 139.8 33.5 139.9 34.8 139.9 36.1 139.7 37.6 139.5 39.2 139.1 40.9 138.6 42.7 137.9 44.7 137.1M37.0 65.0 37.0 67.5 37.0 70.1 36.9 72.6 36.8 75.1 36.7 77.7 36.5 80.2 36.3 82.7 36.1 85.2 35.9 87.7 35.6 90.1 35.4 92.5 35.1 94.9 34.8 97.3 34.6 99.6 34.3 101.9 34.1 104.2 33.8 106.4 33.6 108.5 33.3 110.7 33.1 112.7 33.0 114.7 32.8 116.7 32.7 118.5 32.6 120.3 32.5 122.1 32.5 123.8 32.5 125.3 32.6 126.9 32.7 128.3 32.8 129.6 33.1 130.9 33.3 132.1 33.7 133.1 34.1 134.1 34.6 135.0 35.1 135.7 35.7 136.4 36.4 137.0 37.2 137.4 38.1 137.7 39.0 137.9 40.1 138.0 41.2 137.9 42.5 137.8 43.8 137.4 45.2 137.0 46.8 136.4 48.5 135.7 50.3 134.8M42.9 65.3 42.9 67.7 42.9 70.1 42.9 72.5 42.8 74.9 42.7 77.3 42.6 79.7 42.4 82.1 42.3 84.5 42.1 86.9 41.9 89.2 41.7 91.5 41.5 93.9 41.3 96.1 41.0 98.4 40.8 100.6 40.6 102.8 40.4 104.9 40.2 107.0 40.0 109.1 39.9 111.1 39.7 113.0 39.6 114.9 39.5 116.8 39.4 118.5 39.4 120.2 39.4 121.9 39.4 123.4 39.5 124.9 39.6 126.3 39.7 127.6 39.9 128.8 40.2 130.0 40.5 131.0 40.9 131.9 41.4 132.8 41.9 133.5 42.4 134.1 43.1 134.7 43.8 135.1 44.6 135.4 45.5 135.5 46.4 135.6 47.5 135.5 48.6 135.3 49.8 134.9 51.1 134.5 52.6 133.8 54.1 133.1 55.7 132.1M48.7 67.2 48.8 69.4 48.8 71.6 48.8 73.8 48.8 76.1 48.7 78.3 48.7 80.5 48.6 82.8 48.4 85.0 48.3 87.2 48.2 89.4 48.0 91.6 47.8 93.8 47.6 95.9 47.5 98.0 47.3 100.1 47.1 102.2 46.9 104.2 46.8 106.1 46.6 108.1 46.5 110.0 46.4 111.8 46.3 113.6 46.2 115.3 46.1 117.0 46.1 118.6 46.1 120.1 46.1 121.6 46.2 123.0 46.3 124.3 46.5 125.5 46.7 126.7 46.9 127.7 47.2 128.7 47.6 129.6 48.0 130.4 48.4 131.0 49.0 131.6 49.5 132.1 50.2 132.5 50.9 132.7 51.7 132.8 52.6 132.8 53.5 132.7 54.6 132.5 55.7 132.1 56.9 131.6 58.2 131.0 59.6 130.2 61.0 129.2M54.6 69.1 54.7 71.2 54.7 73.2 54.8 75.2 54.8 77.3 54.8 79.3 54.7 81.4 54.7 83.5 54.6 85.5 54.5 87.6 54.4 89.6 54.3 91.6 54.1 93.6 54.0 95.6 53.8 97.6 53.7 99.5 53.5 101.4 53.4 103.3 53.3 105.2 53.1 107.0 53.0 108.7 52.9 110.4 52.9 112.1 52.8 113.7 52.7 115.3 52.7 116.7 52.7 118.2 52.8 119.5 52.8 120.8 53.0 122.0 53.1 123.2 53.3 124.3 53.5 125.2 53.8 126.1 54.1 126.9 54.4 127.7 54.9 128.3 55.3 128.8 55.9 129.2 56.5 129.5 57.1 129.7 57.8 129.8 58.6 129.8 59.5 129.6 60.4 129.4 61.4 129.0 62.5 128.5 63.6 127.8 64.9 127.0 66.2 126.1M60.4 71.1 60.6 72.9 60.7 74.8 60.7 76.6 60.8 78.5 60.8 80.4 60.8 82.3 60.8 84.2 60.7 86.0 60.7 87.9 60.6 89.8 60.5 91.7 60.4 93.5 60.3 95.3 60.2 97.1 60.0 98.9 59.9 100.7 59.8 102.4 59.7 104.1 59.6 105.8 59.5 107.4 59.4 109.0 59.4 110.5 59.3 112.0 59.3 113.4 59.3 114.8 59.3 116.1 59.3 117.3 59.4 118.5 59.4 119.6 59.6 120.7 59.7 121.6 59.9 122.5 60.2 123.3 60.4 124.1 60.8 124.7 61.1 125.3 61.5 125.7 62.0 126.1 62.5 126.3 63.1 126.5 63.8 126.5 64.5 126.5 65.2 126.3 66.0 126.0 66.9 125.6 67.9 125.1 68.9 124.4 70.0 123.6 71.2 122.7M66.3 73.0 66.5 74.7 66.6 76.3 66.7 78.0 66.8 79.7 66.8 81.4 66.8 83.2 66.8 84.9 66.8 86.6 66.8 88.3 66.7 90.0 66.7 91.7 66.6 93.4 66.5 95.0 66.4 96.7 66.3 98.3 66.3 99.9 66.2 101.4 66.1 103.0 66.0 104.5 65.9 105.9 65.8 107.4 65.8 108.8 65.7 110.1 65.7 111.4 65.7 112.6 65.7 113.8 65.7 114.9 65.7 116.0 65.8 117.0 65.9 117.9 66.0 118.8 66.2 119.6 66.4 120.3 66.6 121.0 66.9 121.5 67.2 122.0 67.6 122.4 68.0 122.7 68.5 122.9 69.0 123.0 69.5 123.0 70.1 122.9 70.8 122.7 71.5 122.4 72.3 122.0 73.2 121.5 74.1 120.8 75.1 120.1 76.1 119.2M72.1 74.9 72.3 76.4 72.5 77.9 72.6 79.5 72.7 81.0 72.8 82.5 72.9 84.1 72.9 85.6 72.9 87.1 72.9 88.7 72.9 90.2 72.9 91.7 72.8 93.2 72.8 94.7 72.7 96.2 72.6 97.6 72.5 99.0 72.5 100.4 72.4 101.8 72.3 103.2 72.2 104.5 72.2 105.7 72.1 107.0 72.0 108.1 72.0 109.3 72.0 110.4 72.0 111.4 72.0 112.4 72.0 113.4 72.1 114.2 72.1 115.1 72.2 115.8 72.4 116.5 72.5 117.1 72.7 117.7 72.9 118.1 73.2 118.5 73.5 118.8 73.9 119.1 74.2 119.2 74.7 119.3 75.1 119.2 75.7 119.1 76.2 118.9 76.9 118.6 77.5 118.2 78.3 117.6 79.1 117.0 79.9 116.3 80.8 115.4M78.0 76.9 78.2 78.2 78.4 79.6 78.6 80.9 78.7 82.3 78.8 83.6 78.9 85.0 79.0 86.4 79.0 87.7 79.0 89.1 79.0 90.4 79.0 91.7 79.0 93.1 78.9 94.4 78.9 95.7 78.8 96.9 78.8 98.2 78.7 99.4 78.6 100.6 78.5 101.8 78.5 102.9 78.4 104.0 78.3 105.1 78.3 106.1 78.2 107.1 78.2 108.0 78.2 108.9 78.2 109.8 78.2 110.6 78.2 111.3 78.2 112.0 78.3 112.7 78.4 113.2 78.5 113.7 78.6 114.2 78.8 114.6 79.0 114.9 79.3 115.1 79.5 115.3 79.8 115.3 80.2 115.3 80.6 115.3 81.0 115.1 81.5 114.9 82.0 114.5 82.6 114.1 83.2 113.6 83.9 113.0 84.6 112.3 85.4 111.4M-3.0 63.5 0.6 63.9 4.3 64.3 8.1 64.6 11.9 64.8 15.7 65.1 19.6 65.3 23.6 65.5 27.7 65.9 31.9 66.2 36.1 66.7 40.5 67.2 45.0 67.9 49.6 68.8 54.3 69.8 59.1 70.9 64.1 72.3 69.3 74.0 74.6 75.9 80.0 78.0"/><path stroke="#259bd2" stroke-width="0.85" d="M259.0 -3.0 259.7 -1.2 260.3 0.5 260.8 2.3 261.4 4.1 261.8 5.9 262.2 7.7 262.6 9.5 262.9 11.3 263.2 13.1 263.4 14.9 263.6 16.7 263.7 18.5 263.8 20.2 263.8 22.0 263.8 23.7 263.7 25.4 263.6 27.1 263.4 28.8 263.2 30.5 263.0 32.2 262.7 33.8 262.4 35.4 262.0 36.9 261.5 38.5 261.1 40.0 260.6 41.5 260.0 42.9 259.4 44.3 258.7 45.7 258.1 47.0 257.3 48.3 256.6 49.6 255.7 50.8 254.9 51.9 254.0 53.1 253.1 54.1 252.1 55.1 251.1 56.1 250.0 57.0M254.2 -3.0 254.9 -1.2 255.5 0.7 256.0 2.6 256.6 4.4 257.0 6.3 257.4 8.2 257.8 10.1 258.1 11.9 258.4 13.8 258.6 15.7 258.8 17.5 259.0 19.4 259.1 21.2 259.1 23.1 259.1 24.9 259.1 26.7 259.0 28.5 258.9 30.3 258.7 32.0 258.5 33.7 258.2 35.4 257.9 37.1 257.6 38.7 257.2 40.4 256.8 41.9 256.3 43.5 255.8 45.0 255.2 46.5 254.6 47.9 253.9 49.3 253.2 50.7 252.5 52.0 251.7 53.3 250.9 54.5 250.0 55.6 249.1 56.7 248.1 57.8 247.1 58.8 246.1 59.8M249.5 -3.0 250.1 -1.1 250.7 0.8 251.2 2.7 251.7 4.6 252.2 6.5 252.6 8.4 253.0 10.3 253.3 12.3 253.6 14.2 253.8 16.1 254.0 18.0 254.2 19.9 254.3 21.8 254.4 23.7 254.4 25.5 254.4 27.4 254.3 29.2 254.2 31.0 254.1 32.8 253.9 34.6 253.7 36.3 253.4 38.0 253.1 39.7 252.7 41.3 252.3 43.0 251.9 44.5 251.4 46.1 250.8 47.6 250.2 49.1 249.6 50.5 248.9 51.9 248.2 53.2 247.5 54.5 246.7 55.8 245.8 57.0 244.9 58.1 244.0 59.2 243.0 60.2 242.0 61.2M244.8 -3.0 245.4 -1.1 245.9 0.8 246.4 2.7 246.9 4.6 247.4 6.6 247.8 8.5 248.1 10.4 248.5 12.3 248.8 14.3 249.0 16.2 249.2 18.1 249.4 20.0 249.5 21.9 249.6 23.8 249.6 25.7 249.6 27.5 249.6 29.4 249.5 31.2 249.4 33.0 249.2 34.8 249.0 36.5 248.7 38.2 248.4 39.9 248.1 41.6 247.7 43.2 247.3 44.8 246.8 46.4 246.3 47.9 245.7 49.4 245.1 50.8 244.5 52.2 243.8 53.6 243.1 54.9 242.3 56.1 241.4 57.3 240.6 58.5 239.7 59.6 238.7 60.6 237.7 61.6M240.0 -3.0 240.6 -1.1 241.1 0.8 241.6 2.7 242.1 4.6 242.5 6.5 242.9 8.4 243.3 10.3 243.6 12.3 243.9 14.2 244.2 16.1 244.4 18.0 244.5 19.9 244.7 21.8 244.8 23.6 244.8 25.5 244.8 27.3 244.8 29.2 244.7 31.0 244.6 32.8 244.5 34.5 244.3 36.3 244.0 38.0 243.7 39.6 243.4 41.3 243.1 42.9 242.7 44.5 242.2 46.1 241.7 47.6 241.2 49.0 240.6 50.5 240.0 51.9 239.3 53.2 238.6 54.5 237.8 55.7 237.0 56.9 236.1 58.1 235.2 59.1 234.3 60.2 233.3 61.1M235.2 -3.0 235.8 -1.1 236.3 0.7 236.8 2.6 237.3 4.5 237.7 6.4 238.1 8.2 238.5 10.1 238.8 12.0 239.1 13.9 239.3 15.8 239.5 17.7 239.7 19.5 239.8 21.4 239.9 23.2 240.0 25.1 240.0 26.9 240.0 28.7 239.9 30.5 239.8 32.2 239.7 33.9 239.5 35.7 239.3 37.3 239.0 39.0 238.7 40.6 238.4 42.2 238.0 43.8 237.6 45.3 237.1 46.8 236.6 48.2 236.0 49.6 235.4 51.0 234.7 52.3 234.0 53.6 233.3 54.8 232.5 56.0 231.7 57.1 230.8 58.2 229.8 59.2 228.9 60.1M230.5 -3.0 231.0 -1.2 231.5 0.6 232.0 2.5 232.5 4.3 232.9 6.2 233.3 8.0 233.6 9.9 233.9 11.7 234.2 13.6 234.5 15.4 234.7 17.3 234.9 19.1 235.0 20.9 235.1 22.7 235.2 24.5 235.2 26.3 235.2 28.0 235.2 29.8 235.1 31.5 235.0 33.2 234.8 34.9 234.6 36.5 234.3 38.1 234.1 39.7 233.7 41.3 233.4 42.8 233.0 44.3 232.5 45.8 232.0 47.2 231.5 48.6 230.9 49.9 230.2 51.2 229.6 52.4 228.8 53.6 228.1 54.8 227.2 55.9 226.4 56.9 225.4 57.9 224.5 58.8M225.8 -3.0 226.3 -1.2 226.8 0.6 227.2 2.4 227.7 4.2 228.1 6.0 228.4 7.8 228.8 9.6 229.1 11.4 229.4 13.2 229.6 15.0 229.9 16.8 230.0 18.6 230.2 20.4 230.3 22.1 230.4 23.9 230.4 25.6 230.5 27.3 230.4 29.0 230.4 30.7 230.3 32.4 230.1 34.0 229.9 35.6 229.7 37.2 229.5 38.8 229.2 40.3 228.8 41.8 228.4 43.2 228.0 44.6 227.5 46.0 227.0 47.4 226.4 48.7 225.8 49.9 225.2 51.1 224.4 52.3 223.7 53.4 222.9 54.5 222.0 55.5 221.1 56.5 220.2 57.4M221.0 -3.0 221.5 -1.3 222.0 0.5 222.4 2.2 222.8 4.0 223.2 5.8 223.6 7.5 223.9 9.3 224.3 11.1 224.6 12.8 224.8 14.6 225.0 16.3 225.2 18.1 225.4 19.8 225.5 21.5 225.6 23.2 225.7 24.9 225.7 26.6 225.7 28.3 225.7 29.9 225.6 31.5 225.5 33.1 225.3 34.7 225.1 36.2 224.9 37.7 224.6 39.2 224.3 40.7 223.9 42.1 223.5 43.5 223.1 44.8 222.6 46.1 222.0 47.4 221.5 48.6 220.8 49.8 220.1 51.0 219.4 52.0 218.6 53.1 217.8 54.1 216.9 55.0 216.0 55.9M216.2 -3.0 216.7 -1.3 217.2 0.4 217.6 2.1 218.0 3.8 218.4 5.6 218.8 7.3 219.1 9.0 219.4 10.7 219.7 12.4 220.0 14.2 220.2 15.9 220.4 17.6 220.6 19.2 220.8 20.9 220.9 22.6 221.0 24.2 221.0 25.9 221.0 27.5 221.0 29.1 221.0 30.7 220.9 32.2 220.8 33.7 220.6 35.2 220.4 36.7 220.1 38.1 219.8 39.6 219.5 40.9 219.1 42.3 218.7 43.6 218.2 44.9 217.7 46.1 217.1 47.3 216.5 48.4 215.9 49.6 215.2 50.6 214.4 51.6 213.6 52.6 212.7 53.5 211.8 54.4M211.5 -3.0 212.0 -1.3 212.4 0.3 212.8 2.0 213.2 3.7 213.6 5.3 214.0 7.0 214.3 8.7 214.6 10.4 214.9 12.1 215.2 13.7 215.4 15.4 215.7 17.0 215.9 18.7 216.0 20.3 216.2 21.9 216.3 23.5 216.3 25.1 216.4 26.7 216.4 28.2 216.4 29.8 216.3 31.3 216.2 32.8 216.1 34.2 215.9 35.7 215.6 37.1 215.4 38.4 215.1 39.8 214.7 41.1 214.3 42.4 213.9 43.6 213.4 44.8 212.9 45.9 212.3 47.1 211.6 48.1 210.9 49.2 210.2 50.2 209.4 51.1 208.6 52.0 207.6 52.8M206.8 -3.0 207.2 -1.4 207.6 0.2 208.0 1.9 208.4 3.5 208.8 5.1 209.1 6.8 209.5 8.4 209.8 10.0 210.1 11.7 210.4 13.3 210.7 14.9 210.9 16.5 211.1 18.1 211.3 19.7 211.4 21.3 211.6 22.8 211.7 24.4 211.7 25.9 211.8 27.4 211.8 28.9 211.7 30.4 211.6 31.8 211.5 33.2 211.4 34.6 211.2 36.0 210.9 37.3 210.7 38.6 210.3 39.9 210.0 41.1 209.6 42.3 209.1 43.5 208.6 44.6 208.0 45.7 207.4 46.7 206.7 47.7 206.0 48.7 205.2 49.6 204.4 50.5 203.5 51.3M202.0 -3.0 202.4 -1.4 202.8 0.2 203.2 1.7 203.6 3.3 204.0 4.9 204.3 6.5 204.7 8.1 205.0 9.7 205.3 11.3 205.6 12.9 205.9 14.4 206.1 16.0 206.3 17.5 206.5 19.1 206.7 20.6 206.8 22.1 207.0 23.6 207.1 25.1 207.1 26.6 207.1 28.0 207.1 29.5 207.1 30.9 207.0 32.2 206.9 33.6 206.7 34.9 206.5 36.2 206.2 37.5 206.0 38.7 205.6 39.9 205.2 41.1 204.8 42.2 204.3 43.3 203.8 44.3 203.2 45.4 202.5 46.3 201.8 47.3 201.1 48.1 200.2 49.0 199.4 49.8M197.2 -3.0 197.6 -1.5 198.0 0.1 198.4 1.6 198.8 3.2 199.1 4.7 199.5 6.3 199.8 7.8 200.2 9.4 200.5 10.9 200.8 12.4 201.1 14.0 201.3 15.5 201.6 17.0 201.8 18.5 202.0 20.0 202.1 21.5 202.3 22.9 202.4 24.4 202.5 25.8 202.5 27.2 202.5 28.6 202.5 29.9 202.4 31.3 202.3 32.6 202.2 33.9 202.0 35.1 201.8 36.4 201.5 37.6 201.2 38.7 200.9 39.9 200.4 41.0 200.0 42.0 199.5 43.0 198.9 44.0 198.3 45.0 197.6 45.9 196.9 46.7 196.1 47.5 195.2 48.3M192.5 -3.0 192.9 -1.5 193.2 -0.0 193.6 1.5 194.0 3.0 194.3 4.5 194.7 6.0 195.0 7.5 195.3 9.0 195.7 10.5 196.0 12.0 196.2 13.5 196.5 15.0 196.8 16.5 197.0 17.9 197.2 19.4 197.4 20.8 197.6 22.2 197.7 23.6 197.8 25.0 197.9 26.4 197.9 27.7 197.9 29.1 197.9 30.4 197.8 31.6 197.7 32.9 197.5 34.1 197.3 35.3 197.1 36.5 196.8 37.6 196.5 38.7 196.1 39.8 195.6 40.8 195.2 41.8 194.6 42.7 194.0 43.7 193.3 44.5 192.6 45.4 191.8 46.2 191.0 46.9M187.8 -3.0 188.1 -1.5 188.4 -0.1 188.8 1.4 189.1 2.9 189.5 4.3 189.8 5.8 190.2 7.3 190.5 8.7 190.8 10.2 191.1 11.7 191.4 13.1 191.7 14.5 192.0 16.0 192.2 17.4 192.4 18.8 192.6 20.2 192.8 21.6 193.0 22.9 193.1 24.3 193.2 25.6 193.3 26.9 193.3 28.2 193.3 29.5 193.2 30.7 193.1 31.9 193.0 33.1 192.8 34.3 192.6 35.4 192.4 36.5 192.0 37.6 191.7 38.6 191.3 39.6 190.8 40.6 190.3 41.5 189.7 42.4 189.1 43.2 188.4 44.1 187.6 44.8 186.7 45.5M183.0 -3.0 183.3 -1.6 183.7 -0.1 184.0 1.3 184.3 2.7 184.7 4.2 185.0 5.6 185.3 7.0 185.7 8.4 186.0 9.9 186.3 11.3 186.6 12.7 186.9 14.1 187.2 15.5 187.4 16.9 187.7 18.2 187.9 19.6 188.1 20.9 188.3 22.3 188.4 23.6 188.5 24.9 188.6 26.1 188.6 27.4 188.7 28.6 188.6 29.8 188.6 31.0 188.5 32.2 188.3 33.3 188.1 34.4 187.9 35.4 187.6 36.5 187.3 37.5 186.9 38.5 186.4 39.4 185.9 40.3 185.4 41.2 184.7 42.0 184.1 42.8 183.3 43.5 182.5 44.2M178.2 -3.0 178.6 -1.6 178.9 -0.2 179.2 1.2 179.5 2.6 179.8 4.0 180.2 5.4 180.5 6.8 180.8 8.2 181.2 9.5 181.5 10.9 181.8 12.3 182.1 13.7 182.4 15.0 182.6 16.4 182.9 17.7 183.1 19.0 183.3 20.3 183.5 21.6 183.7 22.9 183.8 24.1 183.9 25.4 184.0 26.6 184.0 27.8 184.0 28.9 184.0 30.1 183.9 31.2 183.8 32.3 183.6 33.4 183.4 34.4 183.2 35.4 182.8 36.4 182.5 37.3 182.0 38.3 181.6 39.1 181.0 40.0 180.4 40.8 179.7 41.5 179.0 42.3 178.2 42.9M173.5 -3.0 173.8 -1.6 174.1 -0.3 174.4 1.1 174.7 2.4 175.0 3.8 175.3 5.2 175.7 6.5 176.0 7.9 176.3 9.2 176.6 10.6 177.0 11.9 177.3 13.2 177.6 14.5 177.8 15.9 178.1 17.2 178.4 18.4 178.6 19.7 178.8 21.0 179.0 22.2 179.1 23.4 179.2 24.6 179.3 25.8 179.4 27.0 179.4 28.1 179.4 29.2 179.3 30.3 179.2 31.4 179.1 32.4 178.9 33.4 178.7 34.4 178.4 35.3 178.0 36.3 177.6 37.1 177.2 38.0 176.6 38.8 176.1 39.6 175.4 40.3 174.7 41.0 173.9 41.7M168.8 -3.0 169.0 -1.7 169.3 -0.4 169.6 1.0 169.9 2.3 170.2 3.6 170.5 5.0 170.8 6.3 171.2 7.6 171.5 8.9 171.8 10.2 172.1 11.5 172.4 12.8 172.7 14.1 173.0 15.4 173.3 16.6 173.6 17.9 173.8 19.1 174.0 20.3 174.2 21.5 174.4 22.7 174.6 23.9 174.7 25.0 174.7 26.2 174.8 27.3 174.8 28.4 174.8 29.4 174.7 30.5 174.6 31.5 174.4 32.4 174.2 33.4 173.9 34.3 173.6 35.2 173.2 36.1 172.8 36.9 172.3 37.7 171.7 38.4 171.0 39.2 170.3 39.8 169.6 40.5M164.0 -3.0 164.2 -1.7 164.5 -0.4 164.8 0.9 165.1 2.2 165.4 3.5 165.7 4.8 166.0 6.1 166.3 7.4 166.6 8.6 167.0 9.9 167.3 11.2 167.6 12.4 167.9 13.7 168.2 14.9 168.5 16.2 168.8 17.4 169.1 18.6 169.3 19.8 169.5 20.9 169.7 22.1 169.9 23.2 170.0 24.4 170.1 25.5 170.2 26.5 170.2 27.6 170.2 28.6 170.1 29.6 170.0 30.6 169.9 31.6 169.7 32.5 169.4 33.4 169.1 34.2 168.7 35.1 168.3 35.9 167.8 36.6 167.3 37.4 166.7 38.1 166.0 38.7 165.2 39.4M159.2 -3.0 159.5 -1.7 159.7 -0.5 160.0 0.8 160.2 2.1 160.5 3.3 160.8 4.6 161.2 5.9 161.5 7.1 161.8 8.4 162.1 9.6 162.5 10.9 162.8 12.1 163.1 13.3 163.4 14.5 163.7 15.8 164.0 16.9 164.3 18.1 164.5 19.3 164.8 20.4 165.0 21.6 165.1 22.7 165.3 23.8 165.4 24.8 165.5 25.9 165.5 26.9 165.6 27.9 165.5 28.9 165.4 29.9 165.3 30.8 165.1 31.7 164.9 32.6 164.6 33.4 164.3 34.2 163.9 35.0 163.4 35.8 162.9 36.5 162.3 37.2 161.6 37.8 160.9 38.4M154.5 -3.0 154.7 -1.8 154.9 -0.5 155.2 0.7 155.4 2.0 155.7 3.2 156.0 4.5 156.3 5.7 156.6 7.0 157.0 8.2 157.3 9.4 157.6 10.6 157.9 11.9 158.3 13.1 158.6 14.2 158.9 15.4 159.2 16.6 159.5 17.7 159.8 18.9 160.0 20.0 160.2 21.1 160.4 22.2 160.6 23.3 160.7 24.3 160.8 25.4 160.9 26.4 160.9 27.4 160.9 28.3 160.9 29.3 160.7 30.2 160.6 31.1 160.4 31.9 160.1 32.7 159.8 33.5 159.4 34.3 159.0 35.0 158.4 35.7 157.9 36.4 157.2 37.0 156.5 37.6M149.8 -3.0 149.9 -1.8 150.1 -0.5 150.3 0.7 150.6 1.9 150.9 3.2 151.2 4.4 151.5 5.6 151.8 6.8 152.1 8.1 152.4 9.3 152.8 10.5 153.1 11.7 153.4 12.9 153.8 14.0 154.1 15.2 154.4 16.4 154.7 17.5 155.0 18.6 155.2 19.7 155.5 20.8 155.7 21.9 155.9 23.0 156.0 24.0 156.2 25.0 156.2 26.0 156.3 27.0 156.3 27.9 156.3 28.9 156.2 29.8 156.0 30.6 155.8 31.5 155.6 32.3 155.3 33.1 154.9 33.8 154.5 34.6 154.0 35.3 153.4 35.9 152.8 36.5 152.1 37.1M145.0 -3.0 145.1 -1.8 145.3 -0.5 145.5 0.7 145.8 1.9 146.0 3.1 146.3 4.4 146.6 5.6 146.9 6.8 147.3 8.0 147.6 9.2 147.9 10.4 148.3 11.6 148.6 12.8 148.9 14.0 149.3 15.1 149.6 16.3 149.9 17.4 150.2 18.5 150.5 19.6 150.7 20.7 150.9 21.8 151.2 22.8 151.3 23.9 151.5 24.9 151.6 25.9 151.6 26.8 151.7 27.8 151.6 28.7 151.6 29.6 151.5 30.5 151.3 31.3 151.1 32.1 150.8 32.9 150.4 33.7 150.0 34.4 149.5 35.1 149.0 35.7 148.4 36.3 147.7 36.9M140.2 -3.0 140.4 -1.8 140.5 -0.5 140.7 0.7 141.0 1.9 141.2 3.2 141.5 4.4 141.8 5.6 142.1 6.8 142.4 8.1 142.7 9.3 143.1 10.5 143.4 11.7 143.8 12.8 144.1 14.0 144.4 15.2 144.8 16.3 145.1 17.5 145.4 18.6 145.7 19.7 146.0 20.8 146.2 21.9 146.4 22.9 146.6 24.0 146.8 25.0 146.9 26.0 147.0 26.9 147.0 27.9 147.0 28.8 147.0 29.7 146.9 30.6 146.7 31.4 146.5 32.3 146.3 33.0 145.9 33.8 145.5 34.5 145.1 35.2 144.5 35.9 143.9 36.5 143.2 37.1M135.5 -3.0 135.6 -1.8 135.7 -0.5 135.9 0.7 136.1 2.0 136.4 3.2 136.6 4.5 136.9 5.7 137.2 7.0 137.5 8.2 137.9 9.4 138.2 10.6 138.6 11.9 138.9 13.1 139.3 14.2 139.6 15.4 139.9 16.6 140.3 17.7 140.6 18.9 140.9 20.0 141.2 21.1 141.4 22.2 141.7 23.3 141.9 24.3 142.1 25.4 142.2 26.4 142.3 27.4 142.4 28.3 142.4 29.3 142.4 30.2 142.3 31.1 142.1 31.9 142.0 32.7 141.7 33.5 141.4 34.3 141.0 35.0 140.6 35.7 140.1 36.4 139.5 37.1 138.8 37.6M130.8 -3.0 130.8 -1.7 131.0 -0.4 131.1 0.9 131.3 2.2 131.6 3.5 131.9 4.8 132.2 6.1 132.5 7.3 132.8 8.6 133.2 9.9 133.6 11.2 133.9 12.4 134.3 13.7 134.7 14.9 135.1 16.1 135.5 17.4 135.9 18.6 136.3 19.7 136.6 20.9 137.0 22.1 137.3 23.2 137.6 24.3 137.8 25.4 138.1 26.5 138.3 27.5 138.4 28.6 138.5 29.6 138.6 30.6 138.6 31.5 138.6 32.4 138.5 33.3 138.4 34.2 138.1 35.0 137.9 35.8 137.5 36.6 137.1 37.3 136.6 38.0 136.0 38.7 135.4 39.3M126.0 -3.0 126.1 -1.6 126.2 -0.3 126.4 1.1 126.6 2.4 126.8 3.8 127.1 5.2 127.5 6.5 127.9 7.9 128.2 9.2 128.7 10.6 129.1 11.9 129.5 13.2 130.0 14.6 130.5 15.9 131.0 17.2 131.4 18.5 131.9 19.7 132.3 21.0 132.8 22.2 133.2 23.4 133.6 24.6 134.0 25.8 134.4 27.0 134.7 28.1 135.0 29.2 135.2 30.3 135.4 31.4 135.6 32.4 135.7 33.4 135.7 34.4 135.7 35.4 135.6 36.3 135.5 37.2 135.3 38.0 135.0 38.8 134.6 39.6 134.1 40.4 133.6 41.1 132.9 41.7M121.2 -3.0 121.3 -1.6 121.4 -0.1 121.6 1.3 121.8 2.7 122.1 4.2 122.4 5.6 122.8 7.0 123.2 8.5 123.7 9.9 124.2 11.3 124.7 12.7 125.2 14.1 125.7 15.5 126.3 16.9 126.9 18.3 127.4 19.6 128.0 21.0 128.5 22.3 129.1 23.6 129.6 24.9 130.1 26.2 130.6 27.4 131.1 28.7 131.5 29.9 131.9 31.1 132.2 32.2 132.5 33.4 132.8 34.5 132.9 35.5 133.1 36.6 133.1 37.6 133.1 38.5 133.0 39.5 132.9 40.4 132.6 41.3 132.3 42.1 131.9 42.9 131.4 43.6 130.8 44.3M116.5 -3.0 116.5 -1.5 116.6 0.0 116.8 1.5 117.1 3.0 117.4 4.5 117.8 6.1 118.2 7.6 118.7 9.1 119.2 10.6 119.7 12.1 120.3 13.6 120.9 15.1 121.5 16.5 122.2 18.0 122.8 19.5 123.5 20.9 124.2 22.3 124.8 23.7 125.5 25.1 126.1 26.5 126.7 27.8 127.3 29.2 127.9 30.5 128.4 31.7 128.9 33.0 129.3 34.2 129.7 35.4 130.1 36.6 130.3 37.7 130.6 38.8 130.7 39.9 130.8 40.9 130.8 41.9 130.7 42.9 130.5 43.8 130.2 44.7 129.8 45.5 129.3 46.3 128.7 47.1M111.8 -3.0 111.8 -1.4 111.9 0.2 112.1 1.7 112.3 3.3 112.7 4.9 113.1 6.5 113.5 8.1 114.1 9.7 114.6 11.3 115.3 12.9 115.9 14.5 116.6 16.0 117.3 17.6 118.1 19.1 118.8 20.7 119.6 22.2 120.4 23.7 121.1 25.2 121.9 26.6 122.6 28.1 123.4 29.5 124.1 30.9 124.7 32.3 125.4 33.7 126.0 35.0 126.5 36.3 127.0 37.5 127.5 38.8 127.8 40.0 128.1 41.2 128.4 42.3 128.5 43.4 128.6 44.4 128.5 45.5 128.4 46.4 128.2 47.4 127.8 48.2 127.4 49.1 126.8 49.9M107.0 -3.0 107.0 -1.3 107.1 0.3 107.3 2.0 107.6 3.7 108.0 5.3 108.4 7.0 108.9 8.7 109.5 10.4 110.1 12.0 110.8 13.7 111.6 15.3 112.3 17.0 113.1 18.6 114.0 20.3 114.8 21.9 115.7 23.5 116.6 25.1 117.4 26.6 118.3 28.2 119.2 29.7 120.0 31.2 120.8 32.7 121.6 34.2 122.4 35.6 123.1 37.0 123.7 38.4 124.3 39.7 124.9 41.0 125.3 42.3 125.7 43.5 126.0 44.7 126.3 45.9 126.4 47.0 126.4 48.0 126.4 49.1 126.2 50.1 125.9 51.0 125.4 51.9 124.9 52.7M102.2 -3.0 102.2 -1.3 102.3 0.5 102.5 2.2 102.8 4.0 103.2 5.7 103.7 7.5 104.3 9.2 104.9 11.0 105.6 12.7 106.4 14.5 107.2 16.2 108.0 18.0 108.9 19.7 109.9 21.4 110.8 23.1 111.8 24.8 112.8 26.4 113.7 28.1 114.7 29.7 115.7 31.3 116.6 32.9 117.6 34.5 118.5 36.0 119.3 37.5 120.1 39.0 120.9 40.4 121.6 41.8 122.2 43.2 122.8 44.5 123.3 45.8 123.7 47.1 124.0 48.3 124.2 49.5 124.3 50.6 124.3 51.7 124.1 52.7 123.9 53.7 123.5 54.7 122.9 55.5"/><path stroke="#35b6e4" stroke-width="0.8" stroke-opacity="0.5" d="M136.7 37.7 134.8 39.0 133.0 40.5 131.2 42.2 129.6 43.9 128.0 45.6 126.5 47.4 125.1 49.2 123.6 51.1 122.3 52.9 120.9 54.8 119.6 56.6 118.2 58.5 116.8 60.4 115.5 62.3 114.2 64.3 113.0 66.4 111.8 68.4 110.7 70.5 109.6 72.5 108.5 74.6 107.5 76.7 106.4 78.7 105.4 80.8 104.3 82.8 103.2 84.8 102.1 86.8 101.0 88.7 99.8 90.6 98.6 92.5 97.4 94.4 96.1 96.2 94.8 98.0 93.4 99.8 91.9 101.5 90.5 103.2 88.9 104.9 87.4 106.6 85.8 108.2 84.2 109.8 82.5 111.3 80.8 112.8 79.1 114.3 77.4 115.8 75.6 117.3 73.8 118.7 72.0 120.1 70.1 121.4 68.3 122.8 66.4 124.1 64.5 125.3 62.6 126.5 60.6 127.7 58.7 128.9 56.7 130.0 54.7 131.1 52.6 132.2 50.6 133.2 48.5 134.2 46.4 135.1 44.3 136.0 42.2 136.8 40.0 137.5 37.8 138.2 35.7 138.7 33.4 139.3 31.2 139.7 28.9 140.1 26.7 140.4 24.4 140.6 22.1 140.8 19.8 140.8 17.5 140.9 15.2 140.8 12.9 140.7 10.6 140.5 8.3 140.2 6.1 139.9 3.8 139.5 1.5 139.0M136.9 37.8 135.0 39.3 133.2 40.8 131.6 42.5 130.1 44.2 128.6 46.0 127.2 47.9 125.8 49.7 124.4 51.6 123.1 53.5 121.8 55.4 120.4 57.2 119.1 59.1 117.7 61.0 116.4 62.9 115.1 64.9 114.0 66.9 112.8 68.9 111.7 71.0 110.6 73.1 109.6 75.1 108.6 77.2 107.5 79.3 106.5 81.3 105.4 83.4 104.3 85.4 103.2 87.4 102.1 89.4 100.9 91.3 99.7 93.2 98.4 95.1 97.1 96.9 95.7 98.8 94.3 100.5 92.8 102.3 91.3 104.0 89.7 105.7 88.1 107.3 86.5 108.9 84.9 110.5 83.2 112.1 81.4 113.6 79.7 115.1 77.9 116.5 76.1 118.0 74.3 119.4 72.5 120.8 70.6 122.1 68.8 123.4 66.9 124.7 64.9 126.0 63.0 127.2 61.0 128.4 59.0 129.5 57.0 130.7 55.0 131.7 52.9 132.8 50.9 133.8 48.8 134.8 46.7 135.7 44.5 136.5 42.4 137.3 40.2 138.0 38.0 138.7 35.8 139.3 33.5 139.8 31.3 140.2 29.0 140.5 26.7 140.8 24.4 141.0 22.1 141.2 19.8 141.2 17.5 141.2 15.2 141.2 12.9 141.0 10.6 140.8 8.3 140.5 6.0 140.2 3.7 139.7 1.5 139.3M137.0 38.0 135.2 39.5 133.5 41.1 132.0 42.8 130.5 44.6 129.2 46.4 127.8 48.3 126.5 50.2 125.3 52.2 124.0 54.1 122.6 56.0 121.3 57.8 119.9 59.7 118.6 61.6 117.3 63.5 116.1 65.5 114.9 67.5 113.8 69.5 112.7 71.5 111.7 73.6 110.7 75.6 109.6 77.7 108.6 79.8 107.6 81.9 106.5 83.9 105.4 86.0 104.3 88.0 103.2 90.0 102.0 92.0 100.7 93.9 99.4 95.8 98.1 97.7 96.7 99.5 95.2 101.3 93.7 103.1 92.1 104.8 90.5 106.5 88.9 108.1 87.2 109.7 85.6 111.3 83.8 112.8 82.1 114.4 80.3 115.8 78.5 117.3 76.7 118.7 74.9 120.1 73.0 121.5 71.1 122.8 69.2 124.1 67.3 125.4 65.3 126.6 63.4 127.8 61.4 129.0 59.4 130.2 57.4 131.3 55.3 132.4 53.2 133.4 51.1 134.4 49.0 135.3 46.9 136.2 44.7 137.1 42.6 137.9 40.4 138.6 38.1 139.2 35.9 139.8 33.6 140.3 31.4 140.7 29.1 141.0 26.8 141.3 24.5 141.5 22.1 141.6 19.8 141.6 17.5 141.6 15.2 141.5 12.9 141.3 10.5 141.1 8.2 140.8 6.0 140.4 3.7 140.0 1.4 139.5M137.1 38.2 135.4 39.7 133.8 41.4 132.4 43.1 131.0 45.0 129.7 46.8 128.5 48.8 127.3 50.7 126.1 52.7 124.8 54.6 123.5 56.6 122.1 58.4 120.8 60.3 119.5 62.2 118.2 64.1 117.0 66.0 115.9 68.0 114.8 70.0 113.7 72.0 112.7 74.1 111.7 76.2 110.7 78.3 109.7 80.3 108.6 82.4 107.6 84.5 106.5 86.6 105.4 88.6 104.3 90.7 103.1 92.7 101.8 94.6 100.5 96.6 99.1 98.4 97.6 100.3 96.1 102.1 94.6 103.8 93.0 105.6 91.3 107.2 89.7 108.9 88.0 110.5 86.3 112.1 84.5 113.6 82.7 115.1 80.9 116.6 79.1 118.0 77.3 119.4 75.4 120.8 73.5 122.2 71.6 123.5 69.7 124.8 67.7 126.1 65.8 127.3 63.8 128.5 61.8 129.7 59.7 130.8 57.7 131.9 55.6 133.0 53.5 134.0 51.4 135.0 49.3 135.9 47.1 136.8 44.9 137.6 42.7 138.4 40.5 139.1 38.3 139.7 36.0 140.3 33.7 140.8 31.4 141.2 29.1 141.5 26.8 141.7 24.5 141.9 22.2 142.0 19.8 142.0 17.5 142.0 15.2 141.9 12.8 141.7 10.5 141.4 8.2 141.1 5.9 140.7 3.6 140.3 1.4 139.7M137.3 38.3 135.6 39.9 134.1 41.7 132.7 43.4 131.5 45.3 130.3 47.2 129.1 49.2 128.0 51.2 126.9 53.3 125.6 55.2 124.3 57.2 123.0 59.1 121.6 60.9 120.4 62.8 119.1 64.7 118.0 66.6 116.9 68.6 115.8 70.5 114.8 72.6 113.8 74.6 112.8 76.7 111.8 78.8 110.8 80.9 109.7 83.0 108.7 85.1 107.6 87.2 106.5 89.2 105.4 91.3 104.2 93.3 102.9 95.3 101.5 97.3 100.1 99.2 98.6 101.0 97.0 102.8 95.4 104.6 93.8 106.3 92.1 108.0 90.4 109.7 88.7 111.3 87.0 112.8 85.2 114.4 83.4 115.9 81.6 117.3 79.7 118.8 77.8 120.2 75.9 121.5 74.0 122.9 72.1 124.2 70.1 125.5 68.2 126.7 66.2 128.0 64.2 129.2 62.1 130.3 60.1 131.4 58.0 132.5 55.9 133.6 53.8 134.6 51.7 135.6 49.5 136.5 47.3 137.4 45.1 138.2 42.9 138.9 40.7 139.6 38.4 140.2 36.1 140.8 33.8 141.3 31.5 141.6 29.2 141.9 26.9 142.2 24.5 142.3 22.2 142.4 19.8 142.4 17.5 142.4 15.1 142.2 12.8 142.0 10.5 141.8 8.2 141.4 5.9 141.0 3.6 140.5 1.3 140.0"/></g></svg>
<div class="bar" style="top:319.70px;width:482.2px"></div>
<div class="bar" style="top:372.93px;width:470.7px"></div>
<div class="bar" style="top:426.16px;width:412.9px"></div>
<div class="bar" style="top:479.39px;width:378.9px"></div>
<div class="bar" style="top:532.62px;width:367.1px"></div>
<div class="bar" style="top:585.85px;width:356.0px"></div>
<div class="bar" style="top:639.08px;width:298.4px"></div>
<div class="bar" style="top:692.31px;width:195.7px"></div>
<div class="bar" style="top:745.54px;width:104.0px"></div>
<div class="bar" style="top:798.77px;width:58.0px"></div>
<div class="bar" style="top:852.00px;width:58.0px"></div>
<div class="rule"></div>
<svg class="abs" width="1080" height="1080" viewBox="0 0 1080 1080">
<g stroke-linejoin="round" stroke-linecap="round">
<!-- laptop -->
<path d="M739.4 870.2H825.2L841 928.2H756Z" fill="#ffffff" stroke="#10131a" stroke-width="0.6"/>
<!-- right hand on desk -->
<path d="M1019 911.8C1026 911.2 1034 912.6 1040 915.2C1045 917 1051 920 1053.6 922.6C1052.5 924.6 1049 924.2 1046 923.4C1040 925.2 1028 925.4 1019 924.6Z" fill="#fcdcc4" stroke="#10131a" stroke-width="0.7"/>
<path d="M1030 918.5C1036 918.6 1042 920.4 1046 923.2" fill="none" stroke="#10131a" stroke-width="0.6"/>
<circle cx="1051.6" cy="922.6" r="1.3" fill="#222"/>
<!-- raised hand -->
<path d="M821.4 678.6C820.6 672 818.6 665 818.1 659V643.4C818.1 639.6 821.5 639.6 821.6 643.4L821.9 652L822.8 637C823 632 827.2 632 827.3 637L827.6 652L828 637C828.2 632 832.2 632 832.3 637L832.6 652L833 641C833.2 636.6 836.6 636.8 836.6 641L836.4 656C837 653.6 837.8 651.4 838.4 649.6C839.4 646.4 842.6 647.4 841.9 651C841 656 840.6 662 840.2 667C839.6 671 839 675 838.7 678.6Z" fill="#fcdcc4" stroke="#10131a" stroke-width="0.8"/>
<path d="M821.8 652V643M827.5 652V638M832.5 652V638" fill="none" stroke="#10131a" stroke-width="1.0"/>
<path d="M836.4 655.4C834.4 658.4 833.2 662 834.6 667" fill="none" stroke="#10131a" stroke-width="0.8"/>
<!-- ear -->
<circle cx="864" cy="752" r="6.1" fill="#fcdcc4" stroke="#10131a" stroke-width="0.7"/>
<!-- face + neck -->
<path d="M869.8 731V790H897.4V776.4C902 774 906.4 769 907 761C907.4 751 907.3 740 907.2 729Z" fill="#fcdcc4" stroke="#10131a" stroke-width="0.7"/>
<!-- body (sweater) -->
<path d="M820.4 678H839.8C842.6 700 846 720 849.6 735C852.4 750 855.6 765 858.6 775C862 781 866 784.6 870.4 787L884 803.4L897.6 787.6C906 785.4 914 786.6 920 788.6C930 792.4 938 803 941.6 814C945.4 828 948 848 950.2 869C951 882 951.4 893 953.6 898C955.6 902 959 903.2 963 903.4L1020.2 905.8V928H930.6L925 867.4L915.6 928H842L829.8 869C829.6 866 829.6 863 829.6 860C829.6 830 829.6 800 828.6 775C826 740 823 705 820.4 678Z" fill="#58bb3a" stroke="#2c7a1e" stroke-width="0.5"/>
<!-- collar -->
<path d="M870.4 787H897.6L884 803.6Z" fill="#ffffff" stroke="#10131a" stroke-width="0.6"/>
<path d="M883.4 788.6L882.2 801.4M885.2 788.6L886.4 801" fill="none" stroke="#10131a" stroke-width="0.5"/>
<path d="M882.6 800.4L884 789L885.6 800.4L884 803.4Z" fill="#58bb3a"/>
<!-- v neck -->
<path d="M867.2 795.4L884 831L897.8 794.2" fill="none" stroke="#153a0e" stroke-width="1.1"/>
<!-- hair -->
<path d="M854.4 735.6C854.6 722 866 708.4 884 708.2C901 708 913 718 915.6 730.6C912 731.6 909 731.8 907.2 731.6C900 732.2 888 733 878.4 733.8L870.2 750.4C866 746 860 740 854.4 735.6Z" fill="#000"/>
<!-- eyes, brows, nose, mouth -->
<circle cx="888.3" cy="746.4" r="1.1" fill="#111"/><circle cx="901.7" cy="745.9" r="1.1" fill="#111"/>
<path d="M880.4 736.6C883 735.2 886.6 734.8 889 735.4M898 734.8C900.4 734 903 733.8 905.2 734.4" fill="none" stroke="#111" stroke-width="0.6"/>
<path d="M895 740.4C896 744 897.2 748.6 898.1 752C896.4 752.4 894.8 751.8 893.8 751" fill="none" stroke="#111" stroke-width="0.7"/>
<path d="M889.8 758.6C892.4 761.6 896.4 762.6 899.2 761.6" fill="none" stroke="#111" stroke-width="0.8"/>
<path d="M884.2 774.8C888 776.8 893 776.8 896.4 775.8" fill="none" stroke="#111" stroke-width="0.7"/>
</g>
</svg>

<span class="x t" style="left:70.55px;top:131.00px;transform:scaleX(1.0844)">In welchen Bereichen der IT wird KI Ihrer Meinung</span>
<span class="x t" style="left:71.63px;top:182.20px;transform:scaleX(1.0827)">nach in den nächsten 2 Jahren zu bahnbrechenden</span>
<span class="x t" style="left:70.58px;top:234.00px;transform:scaleX(1.0726)">Innovationen führen?</span>
<span class="x l" style="left:235.36px;top:334.75px;transform:scaleX(1.0679)">IT-Netzwerke</span>
<span class="x l" style="left:204.19px;top:387.25px;transform:scaleX(1.0310)">Programmierung</span>
<span class="x l" style="left:142.18px;top:438.50px;transform:scaleX(1.0362)">Kundenservice-Center</span>
<span class="x l" style="left:234.72px;top:491.50px;transform:scaleX(1.0264)">Cybersecurity</span>
<span class="x l" style="left:209.48px;top:546.75px;transform:scaleX(1.0177)">Cloud &amp; Internet</span>
<span class="x l" style="left:163.90px;top:600.00px;transform:scaleX(1.0264)">Verwaltungssysteme</span>
<span class="x l" style="left:144.60px;top:652.50px;transform:scaleX(1.0256)">Vertriebsunterstützung</span>
<span class="x l" style="left:192.00px;top:702.30px;transform:scaleX(1.0187)">Videokonferenzen</span>
<span class="x l" style="left:209.80px;top:758.60px;transform:scaleX(1.0282)">Anderer Bereich</span>
<span class="x l" style="left:191.95px;top:812.50px;transform:scaleX(1.0246)">In keinem Bereich</span>
<span class="x l" style="left:91.90px;top:866.40px;transform:scaleX(1.0344)">Weiß nicht / keine Angaben</span>
<span class="x v" style="left:908.40px;top:324.10px;transform:scaleX(1.0804)">42%</span>
<span class="x v" style="left:893.30px;top:379.90px;transform:scaleX(1.0714)">41%</span>
<span class="x v" style="left:835.10px;top:431.40px;transform:scaleX(1.0714)">36%</span>
<span class="x v" style="left:797.80px;top:485.40px;transform:scaleX(1.0625)">33%</span>
<span class="x v" style="left:784.00px;top:539.20px;transform:scaleX(1.0679)">32%</span>
<span class="x v" style="left:772.90px;top:592.10px;transform:scaleX(1.0714)">31%</span>
<span class="x v" style="left:718.91px;top:645.90px;transform:scaleX(1.0909)">26%</span>
<span class="x v" style="left:613.94px;top:697.00px;transform:scaleX(1.0600)">17%</span>
<span class="x v" style="left:526.63px;top:752.00px;transform:scaleX(1.0667)">9%</span>
<span class="x v" style="left:477.70px;top:806.30px;transform:scaleX(1.0575)">5%</span>
<span class="x v" style="left:477.70px;top:859.70px;transform:scaleX(1.0575)">5%</span>
<span class="x f" style="left:72.60px;top:1014.50px;transform:scaleX(1.0656)">YouGov | Stichprobengröße: 800 Erwerbstätige in der IT bzw. IT-Abteilung | Befragungszeitraum: 21. bis 31. Juli 2023</span>
<svg class="abs" width="1080" height="1080" viewBox="0 0 1080 1080" fill="#fff"><rect x="955.00" y="53.5" width="3.8" height="7.4" rx="1.9" ry="1.9"/><rect x="964.56" y="48.9" width="3.8" height="12.0" rx="1.9" ry="1.9"/><rect x="974.12" y="42.9" width="3.8" height="21.0" rx="1.9" ry="1.9"/><rect x="983.68" y="48.9" width="3.8" height="12.0" rx="1.9" ry="1.9"/><rect x="993.24" y="53.5" width="3.8" height="7.4" rx="1.9" ry="1.9"/><rect x="1002.80" y="48.9" width="3.8" height="12.0" rx="1.9" ry="1.9"/><rect x="1012.36" y="42.9" width="3.8" height="21.0" rx="1.9" ry="1.9"/><rect x="1021.92" y="48.9" width="3.8" height="12.0" rx="1.9" ry="1.9"/><rect x="1031.48" y="53.5" width="3.8" height="7.4" rx="1.9" ry="1.9"/><clipPath id="cc1"><rect x="961.10" y="69.60" width="11.70" height="15.30"/></clipPath><circle cx="968.75" cy="77.25" r="4.80" fill="none" stroke="#fff" stroke-width="3.7" clip-path="url(#cc1)"/><path d="M969.95 75.35H977.40V79.15H969.95Z" fill="#0e274d"/><rect x="977.9" y="70.6" width="3.5" height="13.3"/><path d="M994.7 73.3C992.6 72.3 987.7 71.3 987.7 74.7C987.7 78.0 993.7 76.3 993.7 79.9C993.7 83.2 988.6 82.4 986.3 81.2" fill="none" stroke="#fff" stroke-width="3.5"/><clipPath id="cc2"><rect x="998.60" y="69.60" width="11.70" height="15.30"/></clipPath><circle cx="1006.25" cy="77.25" r="4.80" fill="none" stroke="#fff" stroke-width="3.7" clip-path="url(#cc2)"/><path d="M1007.45 75.35H1014.90V79.15H1007.45Z" fill="#0e274d"/><ellipse cx="1020.95" cy="77.25" rx="5.15" ry="4.85" fill="none" stroke="#fff" stroke-width="3.6"/></svg>
</div></body></html>
